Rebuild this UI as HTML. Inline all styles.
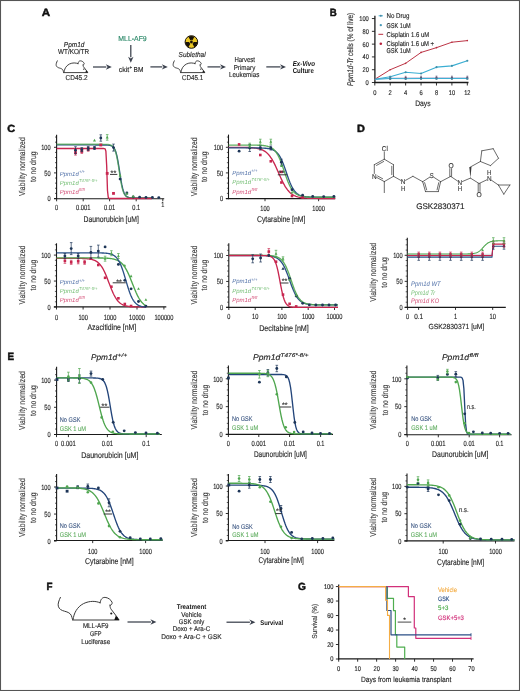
<!DOCTYPE html>
<html><head><meta charset="utf-8"><title>Figure</title>
<style>
html,body{margin:0;padding:0;background:#fff;}
body{width:520px;height:691px;overflow:hidden;}
svg{display:block;font-family:"Liberation Sans", sans-serif;will-change:transform;text-rendering:geometricPrecision;}
</style></head><body>
<svg width="520" height="691" viewBox="0 0 520 691">
<rect x="0" y="0" width="520" height="691" fill="#fff"/>
<text x="41.8" y="16.24" font-size="10.4" fill="#111" stroke="#111" stroke-width="0.45" font-weight="bold" textLength="8.4" lengthAdjust="spacingAndGlyphs">A</text>
<text x="74.1" y="46.99" font-size="7.2" fill="#262626" stroke="#262626" stroke-width="0.14" text-anchor="middle" font-style="italic" textLength="20.6" lengthAdjust="spacingAndGlyphs">Ppm1d</text>
<text x="73.6" y="54.39" font-size="7.2" fill="#262626" stroke="#262626" stroke-width="0.14" text-anchor="middle" textLength="31" lengthAdjust="spacingAndGlyphs">WT/KO/TR</text>
<g transform="translate(63.6 72.6) scale(0.52)">
<path d="M-12.1 -22.6 C-13.6 -19.5 -14.8 -16.2 -14.2 -13.8 C-13.4 -10.8 -11 -9.6 -8 -8.8 C-4.5 -7.9 -2.2 -6.8 -1.2 -4.5 C-0.7 -3.2 -0.3 -1.8 0 -0.6 M0 0 L46.4 0 M0.6 -0.5 C1.2 -6.5 4.5 -13 11 -16.4 C17.5 -19.5 23.5 -19 27.6 -17.2 M27.6 -17.2 C28 -20.5 29.8 -22.8 32.6 -22.6 C35.5 -22.4 38.5 -20.4 39.6 -17.6 C39.8 -16.2 39 -15 37.8 -14.6 M37.4 -15 C37.6 -12.5 38 -11.6 38.6 -10.8 L45.6 -1.6" fill="none" stroke="#3a3a3a" stroke-width="1.84" stroke-linecap="round" stroke-linejoin="round"/>
<circle cx="38.8" cy="-6.5" r="1.17" fill="#1a1a1a"/>
<path d="M43.3 -4.2 L47 0 L41.8 0 Z" fill="#111"/>
</g>
<text x="76.6" y="79.99" font-size="7.2" fill="#262626" stroke="#262626" stroke-width="0.14" text-anchor="middle" textLength="22" lengthAdjust="spacingAndGlyphs">CD45.2</text>
<line x1="93" y1="67" x2="106.3" y2="67" stroke="#3a404c" stroke-width="1.25" />
<path d="M111.8 67 L105.8 69.7 L107.6 67 L105.8 64.3 Z" fill="#3a404c"/>
<text x="132.5" y="41.39" font-size="7.2" fill="#2e8a6a" stroke="#2e8a6a" stroke-width="0.14" text-anchor="middle" textLength="28.4" lengthAdjust="spacingAndGlyphs">MLL-AF9</text>
<line x1="130.8" y1="45" x2="130.8" y2="57.3" stroke="#3a404c" stroke-width="1.25" />
<path d="M130.8 62.8 L128.1 56.8 L130.8 58.6 L133.5 56.8 Z" fill="#3a404c"/>
<text x="118.7" y="72.29" font-size="7.2" fill="#262626" stroke="#262626" stroke-width="0.14" textLength="10.6" lengthAdjust="spacingAndGlyphs">ckit</text>
<text x="129.6" y="69.06" font-size="4.6" fill="#262626" stroke="#262626" stroke-width="0.14" textLength="2.6" lengthAdjust="spacingAndGlyphs">+</text>
<text x="133.6" y="72.29" font-size="7.2" fill="#262626" stroke="#262626" stroke-width="0.14" textLength="9.8" lengthAdjust="spacingAndGlyphs">BM</text>
<line x1="150.4" y1="66.9" x2="162.3" y2="66.9" stroke="#3a404c" stroke-width="1.25" />
<path d="M167.8 66.9 L161.8 69.6 L163.6 66.9 L161.8 64.2 Z" fill="#3a404c"/>
<circle cx="191.4" cy="42" r="6.3" fill="#ecc825" stroke="#1a1208" stroke-width="1.0"/>
<path d="M190.33 40.14 L188.41 36.82 A5.98 5.98 0 0 1 194.39 36.82 L192.47 40.14 A2.14 2.14 0 0 0 190.33 40.14 Z" fill="#1a1208"/>
<path d="M193.54 42 L197.38 42 A5.98 5.98 0 0 1 194.39 47.18 L192.47 43.86 A2.14 2.14 0 0 0 193.54 42 Z" fill="#1a1208"/>
<path d="M190.33 43.86 L188.41 47.18 A5.98 5.98 0 0 1 185.42 42 L189.26 42 A2.14 2.14 0 0 0 190.33 43.86 Z" fill="#1a1208"/>
<circle cx="191.4" cy="42" r="1.39" fill="#1a1208"/>
<text x="192.1" y="57.49" font-size="7.2" fill="#262626" stroke="#262626" stroke-width="0.14" text-anchor="middle" font-style="italic" textLength="27" lengthAdjust="spacingAndGlyphs">Sublethal</text>
<g transform="translate(180.6 72.6) scale(0.52)">
<path d="M-12.1 -22.6 C-13.6 -19.5 -14.8 -16.2 -14.2 -13.8 C-13.4 -10.8 -11 -9.6 -8 -8.8 C-4.5 -7.9 -2.2 -6.8 -1.2 -4.5 C-0.7 -3.2 -0.3 -1.8 0 -0.6 M0 0 L46.4 0 M0.6 -0.5 C1.2 -6.5 4.5 -13 11 -16.4 C17.5 -19.5 23.5 -19 27.6 -17.2 M27.6 -17.2 C28 -20.5 29.8 -22.8 32.6 -22.6 C35.5 -22.4 38.5 -20.4 39.6 -17.6 C39.8 -16.2 39 -15 37.8 -14.6 M37.4 -15 C37.6 -12.5 38 -11.6 38.6 -10.8 L45.6 -1.6" fill="none" stroke="#3a3a3a" stroke-width="1.84" stroke-linecap="round" stroke-linejoin="round"/>
<circle cx="38.8" cy="-6.5" r="1.17" fill="#1a1a1a"/>
<path d="M43.3 -4.2 L47 0 L41.8 0 Z" fill="#111"/>
</g>
<text x="192.6" y="79.99" font-size="7.2" fill="#262626" stroke="#262626" stroke-width="0.14" text-anchor="middle" textLength="21.2" lengthAdjust="spacingAndGlyphs">CD45.1</text>
<line x1="207.5" y1="66.9" x2="220.5" y2="66.9" stroke="#3a404c" stroke-width="1.25" />
<path d="M226 66.9 L220 69.6 L221.8 66.9 L220 64.2 Z" fill="#3a404c"/>
<text x="244.7" y="62.29" font-size="7.2" fill="#262626" stroke="#262626" stroke-width="0.14" text-anchor="middle" textLength="20.6" lengthAdjust="spacingAndGlyphs">Harvest</text>
<text x="244.5" y="69.79" font-size="7.2" fill="#262626" stroke="#262626" stroke-width="0.14" text-anchor="middle" textLength="21.6" lengthAdjust="spacingAndGlyphs">Primary</text>
<text x="244.2" y="77.29" font-size="7.2" fill="#262626" stroke="#262626" stroke-width="0.14" text-anchor="middle" textLength="30.4" lengthAdjust="spacingAndGlyphs">Leukemias</text>
<line x1="266.3" y1="66.9" x2="280.5" y2="66.9" stroke="#3a404c" stroke-width="1.25" />
<path d="M286 66.9 L280 69.6 L281.8 66.9 L280 64.2 Z" fill="#3a404c"/>
<text x="292.7" y="66.09" font-size="7.2" fill="#111" font-weight="bold" font-style="italic" textLength="22.3" lengthAdjust="spacingAndGlyphs">Ex-Vivo</text>
<text x="292.7" y="73.49" font-size="7.2" fill="#111" font-weight="bold" textLength="21.1" lengthAdjust="spacingAndGlyphs">Culture</text>
<text x="329.8" y="16.04" font-size="10.4" fill="#111" stroke="#111" stroke-width="0.45" font-weight="bold" textLength="7" lengthAdjust="spacingAndGlyphs">B</text>
<line x1="374.9" y1="15.8" x2="374.9" y2="83.1" stroke="#1a1a1a" stroke-width="1.3" />
<line x1="371.9" y1="82.5" x2="374.9" y2="82.5" stroke="#1a1a1a" stroke-width="0.9" />
<text x="368.8" y="84.95" font-size="6.8" fill="#262626" stroke="#262626" stroke-width="0.14" text-anchor="end" textLength="3.2" lengthAdjust="spacingAndGlyphs">0</text>
<line x1="371.9" y1="69.71" x2="374.9" y2="69.71" stroke="#1a1a1a" stroke-width="0.9" />
<text x="368.8" y="72.16" font-size="6.8" fill="#262626" stroke="#262626" stroke-width="0.14" text-anchor="end" textLength="6.3" lengthAdjust="spacingAndGlyphs">20</text>
<line x1="371.9" y1="56.92" x2="374.9" y2="56.92" stroke="#1a1a1a" stroke-width="0.9" />
<text x="368.8" y="59.37" font-size="6.8" fill="#262626" stroke="#262626" stroke-width="0.14" text-anchor="end" textLength="6.3" lengthAdjust="spacingAndGlyphs">40</text>
<line x1="371.9" y1="44.13" x2="374.9" y2="44.13" stroke="#1a1a1a" stroke-width="0.9" />
<text x="368.8" y="46.58" font-size="6.8" fill="#262626" stroke="#262626" stroke-width="0.14" text-anchor="end" textLength="6.3" lengthAdjust="spacingAndGlyphs">60</text>
<line x1="371.9" y1="31.34" x2="374.9" y2="31.34" stroke="#1a1a1a" stroke-width="0.9" />
<text x="368.8" y="33.79" font-size="6.8" fill="#262626" stroke="#262626" stroke-width="0.14" text-anchor="end" textLength="6.3" lengthAdjust="spacingAndGlyphs">80</text>
<line x1="371.9" y1="18.55" x2="374.9" y2="18.55" stroke="#1a1a1a" stroke-width="0.9" />
<text x="368.8" y="21" font-size="6.8" fill="#262626" stroke="#262626" stroke-width="0.14" text-anchor="end" textLength="9.6" lengthAdjust="spacingAndGlyphs">100</text>
<line x1="374.3" y1="82.5" x2="468.5" y2="82.5" stroke="#1a1a1a" stroke-width="1.3" />
<line x1="374.8" y1="82.5" x2="374.8" y2="85.5" stroke="#1a1a1a" stroke-width="0.9" />
<text x="374.8" y="94.65" font-size="6.8" fill="#262626" stroke="#262626" stroke-width="0.14" text-anchor="middle" textLength="3.2" lengthAdjust="spacingAndGlyphs">0</text>
<line x1="390.22" y1="82.5" x2="390.22" y2="85.5" stroke="#1a1a1a" stroke-width="0.9" />
<text x="390.22" y="94.65" font-size="6.8" fill="#262626" stroke="#262626" stroke-width="0.14" text-anchor="middle" textLength="3.2" lengthAdjust="spacingAndGlyphs">2</text>
<line x1="405.64" y1="82.5" x2="405.64" y2="85.5" stroke="#1a1a1a" stroke-width="0.9" />
<text x="405.64" y="94.65" font-size="6.8" fill="#262626" stroke="#262626" stroke-width="0.14" text-anchor="middle" textLength="3.2" lengthAdjust="spacingAndGlyphs">4</text>
<line x1="421.06" y1="82.5" x2="421.06" y2="85.5" stroke="#1a1a1a" stroke-width="0.9" />
<text x="421.06" y="94.65" font-size="6.8" fill="#262626" stroke="#262626" stroke-width="0.14" text-anchor="middle" textLength="3.2" lengthAdjust="spacingAndGlyphs">6</text>
<line x1="436.48" y1="82.5" x2="436.48" y2="85.5" stroke="#1a1a1a" stroke-width="0.9" />
<text x="436.48" y="94.65" font-size="6.8" fill="#262626" stroke="#262626" stroke-width="0.14" text-anchor="middle" textLength="3.2" lengthAdjust="spacingAndGlyphs">8</text>
<line x1="451.9" y1="82.5" x2="451.9" y2="85.5" stroke="#1a1a1a" stroke-width="0.9" />
<text x="451.9" y="94.65" font-size="6.8" fill="#262626" stroke="#262626" stroke-width="0.14" text-anchor="middle" textLength="6.3" lengthAdjust="spacingAndGlyphs">10</text>
<line x1="467.32" y1="82.5" x2="467.32" y2="85.5" stroke="#1a1a1a" stroke-width="0.9" />
<text x="467.32" y="94.65" font-size="6.8" fill="#262626" stroke="#262626" stroke-width="0.14" text-anchor="middle" textLength="6.3" lengthAdjust="spacingAndGlyphs">12</text>
<text x="422.9" y="106.48" font-size="8" fill="#262626" stroke="#262626" stroke-width="0.14" text-anchor="middle" textLength="15.5" lengthAdjust="spacingAndGlyphs">Days</text>
<text x="350.4" y="52.35" font-size="8.2" fill="#3a3a3a" text-anchor="middle" transform="rotate(-90 350.4 49.4)" textLength="73" lengthAdjust="spacingAndGlyphs" stroke="#3a3a3a" stroke-width="0.2"><tspan font-style="italic">Ppm1d-Tr</tspan> cells (% of live)</text>
<polyline points="374.8,79.3 390.22,78.15 405.64,78.02 421.06,77.9 436.48,77.83 451.9,77.9 467.32,77.9" stroke="#a8a0c8" stroke-width="0.8" fill="none" stroke-linejoin="round" />
<polyline points="374.8,79.3 390.22,78.54 405.64,78.66 421.06,78.54 436.48,78.47 451.9,78.47 467.32,78.47" stroke="#3aaed3" stroke-width="1" fill="none" stroke-linejoin="round" />
<line x1="390.22" y1="76.35" x2="390.22" y2="79.55" stroke="#5a5a7a" stroke-width="0.6" />
<line x1="389.32" y1="76.35" x2="391.12" y2="76.35" stroke="#5a5a7a" stroke-width="0.6" />
<line x1="389.32" y1="79.55" x2="391.12" y2="79.55" stroke="#5a5a7a" stroke-width="0.6" />
<rect x="389.28" y="77.01" width="1.89" height="1.89" fill="#6a4060"/>
<circle cx="390.22" cy="78.95" r="1.12" fill="#3f8aa3"/>
<line x1="405.64" y1="76.22" x2="405.64" y2="79.42" stroke="#5a5a7a" stroke-width="0.6" />
<line x1="404.74" y1="76.22" x2="406.54" y2="76.22" stroke="#5a5a7a" stroke-width="0.6" />
<line x1="404.74" y1="79.42" x2="406.54" y2="79.42" stroke="#5a5a7a" stroke-width="0.6" />
<rect x="404.7" y="76.88" width="1.89" height="1.89" fill="#6a4060"/>
<circle cx="405.64" cy="78.82" r="1.12" fill="#3f8aa3"/>
<line x1="421.06" y1="76.1" x2="421.06" y2="79.3" stroke="#5a5a7a" stroke-width="0.6" />
<line x1="420.16" y1="76.1" x2="421.96" y2="76.1" stroke="#5a5a7a" stroke-width="0.6" />
<line x1="420.16" y1="79.3" x2="421.96" y2="79.3" stroke="#5a5a7a" stroke-width="0.6" />
<rect x="420.12" y="76.75" width="1.89" height="1.89" fill="#6a4060"/>
<circle cx="421.06" cy="78.7" r="1.12" fill="#3f8aa3"/>
<line x1="436.48" y1="76.03" x2="436.48" y2="79.23" stroke="#5a5a7a" stroke-width="0.6" />
<line x1="435.58" y1="76.03" x2="437.38" y2="76.03" stroke="#5a5a7a" stroke-width="0.6" />
<line x1="435.58" y1="79.23" x2="437.38" y2="79.23" stroke="#5a5a7a" stroke-width="0.6" />
<rect x="435.54" y="76.69" width="1.89" height="1.89" fill="#6a4060"/>
<circle cx="436.48" cy="78.63" r="1.12" fill="#3f8aa3"/>
<line x1="451.9" y1="76.1" x2="451.9" y2="79.3" stroke="#5a5a7a" stroke-width="0.6" />
<line x1="451" y1="76.1" x2="452.8" y2="76.1" stroke="#5a5a7a" stroke-width="0.6" />
<line x1="451" y1="79.3" x2="452.8" y2="79.3" stroke="#5a5a7a" stroke-width="0.6" />
<rect x="450.96" y="76.75" width="1.89" height="1.89" fill="#6a4060"/>
<circle cx="451.9" cy="78.7" r="1.12" fill="#3f8aa3"/>
<line x1="467.32" y1="76.1" x2="467.32" y2="79.3" stroke="#5a5a7a" stroke-width="0.6" />
<line x1="466.42" y1="76.1" x2="468.22" y2="76.1" stroke="#5a5a7a" stroke-width="0.6" />
<line x1="466.42" y1="79.3" x2="468.22" y2="79.3" stroke="#5a5a7a" stroke-width="0.6" />
<rect x="466.38" y="76.75" width="1.89" height="1.89" fill="#6a4060"/>
<circle cx="467.32" cy="78.7" r="1.12" fill="#3f8aa3"/>
<polyline points="374.8,79.3 390.22,69.71 405.64,63.31 421.06,52.44 436.48,47.65 451.9,42.21 467.32,40.61" stroke="#b82a3c" stroke-width="0.95" fill="none" stroke-linejoin="round" />
<circle cx="390.22" cy="69.71" r="0.83" fill="#b82a3c"/>
<circle cx="405.64" cy="63.31" r="0.83" fill="#b82a3c"/>
<circle cx="421.06" cy="52.44" r="0.83" fill="#b82a3c"/>
<circle cx="436.48" cy="47.65" r="0.83" fill="#b82a3c"/>
<circle cx="451.9" cy="42.21" r="0.83" fill="#b82a3c"/>
<circle cx="467.32" cy="40.61" r="0.83" fill="#b82a3c"/>
<polyline points="374.8,79.3 390.22,76.74 405.64,72.27 421.06,73.55 436.48,67.15 451.9,65.87 467.32,60.76" stroke="#3aaed3" stroke-width="1.1" fill="none" stroke-linejoin="round" />
<circle cx="390.22" cy="76.74" r="1.06" fill="#3d8fa8"/>
<circle cx="405.64" cy="72.27" r="1.06" fill="#3d8fa8"/>
<circle cx="421.06" cy="73.55" r="1.06" fill="#3d8fa8"/>
<circle cx="436.48" cy="67.15" r="1.06" fill="#3d8fa8"/>
<circle cx="451.9" cy="65.87" r="1.06" fill="#3d8fa8"/>
<circle cx="467.32" cy="60.76" r="1.06" fill="#3d8fa8"/>
<line x1="378.6" y1="15.8" x2="383" y2="15.8" stroke="#3aaed3" stroke-width="0.9" />
<circle cx="380.8" cy="15.8" r="1.06" fill="#4a8aa5"/>
<circle cx="380.8" cy="25.1" r="1.18" fill="#4a9ab8"/>
<line x1="378.4" y1="34.3" x2="383.2" y2="34.3" stroke="#b82a3c" stroke-width="1" />
<circle cx="380.8" cy="43.8" r="1.3" fill="#b8203c"/>
<text x="386.5" y="18.32" font-size="7" fill="#262626" stroke="#262626" stroke-width="0.14" textLength="23" lengthAdjust="spacingAndGlyphs">No Drug</text>
<text x="386.5" y="27.62" font-size="7" fill="#262626" stroke="#262626" stroke-width="0.14" textLength="24.2" lengthAdjust="spacingAndGlyphs">GSK 1uM</text>
<text x="386.5" y="36.82" font-size="7" fill="#262626" stroke="#262626" stroke-width="0.14" textLength="42.7" lengthAdjust="spacingAndGlyphs">Cisplatin 1.6 uM</text>
<text x="386.5" y="46.32" font-size="7" fill="#262626" stroke="#262626" stroke-width="0.14" textLength="47.5" lengthAdjust="spacingAndGlyphs">Cisplatin 1.6 uM +</text>
<text x="386.5" y="53.32" font-size="7" fill="#262626" stroke="#262626" stroke-width="0.14" textLength="24.2" lengthAdjust="spacingAndGlyphs">GSK 1uM</text>
<text x="7.2" y="131.54" font-size="10.4" fill="#111" stroke="#111" stroke-width="0.45" font-weight="bold" textLength="7.9" lengthAdjust="spacingAndGlyphs">C</text>
<line x1="56.6" y1="134.8" x2="56.6" y2="199.3" stroke="#1a1a1a" stroke-width="1.1" />
<line x1="54" y1="198.5" x2="56.6" y2="198.5" stroke="#1a1a1a" stroke-width="0.9" />
<line x1="55" y1="193.38" x2="56.6" y2="193.38" stroke="#1a1a1a" stroke-width="0.7" />
<line x1="55" y1="188.26" x2="56.6" y2="188.26" stroke="#1a1a1a" stroke-width="0.7" />
<line x1="55" y1="183.14" x2="56.6" y2="183.14" stroke="#1a1a1a" stroke-width="0.7" />
<line x1="55" y1="178.02" x2="56.6" y2="178.02" stroke="#1a1a1a" stroke-width="0.7" />
<line x1="54" y1="172.9" x2="56.6" y2="172.9" stroke="#1a1a1a" stroke-width="0.9" />
<line x1="55" y1="167.78" x2="56.6" y2="167.78" stroke="#1a1a1a" stroke-width="0.7" />
<line x1="55" y1="162.66" x2="56.6" y2="162.66" stroke="#1a1a1a" stroke-width="0.7" />
<line x1="55" y1="157.54" x2="56.6" y2="157.54" stroke="#1a1a1a" stroke-width="0.7" />
<line x1="55" y1="152.42" x2="56.6" y2="152.42" stroke="#1a1a1a" stroke-width="0.7" />
<line x1="54" y1="147.3" x2="56.6" y2="147.3" stroke="#1a1a1a" stroke-width="0.9" />
<line x1="55" y1="142.18" x2="56.6" y2="142.18" stroke="#1a1a1a" stroke-width="0.7" />
<line x1="55" y1="137.06" x2="56.6" y2="137.06" stroke="#1a1a1a" stroke-width="0.7" />
<text x="50.6" y="201.2" font-size="7.5" fill="#262626" stroke="#262626" stroke-width="0.14" text-anchor="end" textLength="3.13" lengthAdjust="spacingAndGlyphs">0</text>
<text x="50.6" y="175.6" font-size="7.5" fill="#262626" stroke="#262626" stroke-width="0.14" text-anchor="end" textLength="6.27" lengthAdjust="spacingAndGlyphs">50</text>
<text x="50.6" y="150" font-size="7.5" fill="#262626" stroke="#262626" stroke-width="0.14" text-anchor="end" textLength="9.4" lengthAdjust="spacingAndGlyphs">100</text>
<line x1="54" y1="198.7" x2="164.2" y2="198.7" stroke="#1a1a1a" stroke-width="1.15" />
<line x1="56.6" y1="198.7" x2="56.6" y2="201.3" stroke="#1a1a1a" stroke-width="0.9" />
<text x="56.6" y="210.4" font-size="7.5" fill="#262626" stroke="#262626" stroke-width="0.14" text-anchor="middle" textLength="3.1" lengthAdjust="spacingAndGlyphs">0</text>
<line x1="83.2" y1="198.7" x2="83.2" y2="201.3" stroke="#1a1a1a" stroke-width="0.9" />
<text x="83.2" y="210.4" font-size="7.5" fill="#262626" stroke="#262626" stroke-width="0.14" text-anchor="middle" textLength="14.4" lengthAdjust="spacingAndGlyphs">0.001</text>
<line x1="109.6" y1="198.7" x2="109.6" y2="201.3" stroke="#1a1a1a" stroke-width="0.9" />
<text x="109.6" y="210.4" font-size="7.5" fill="#262626" stroke="#262626" stroke-width="0.14" text-anchor="middle" textLength="11.2" lengthAdjust="spacingAndGlyphs">0.01</text>
<line x1="136.2" y1="198.7" x2="136.2" y2="201.3" stroke="#1a1a1a" stroke-width="0.9" />
<text x="136.2" y="210.4" font-size="7.5" fill="#262626" stroke="#262626" stroke-width="0.14" text-anchor="middle" textLength="7.8" lengthAdjust="spacingAndGlyphs">0.1</text>
<line x1="162.8" y1="198.7" x2="162.8" y2="201.3" stroke="#1a1a1a" stroke-width="0.9" />
<text x="162.8" y="207.49" font-size="7.2" fill="#262626" stroke="#262626" stroke-width="0.14" text-anchor="middle" textLength="3.1" lengthAdjust="spacingAndGlyphs">1</text>
<text x="111.2" y="221.92" font-size="8.4" fill="#262626" stroke="#262626" stroke-width="0.14" text-anchor="middle" textLength="55.4" lengthAdjust="spacingAndGlyphs">Daunorubicin [uM]</text>
<text x="21.6" y="169.8" font-size="8.6" fill="#3a3a3a" stroke="#3a3a3a" stroke-width="0.14" text-anchor="middle" transform="rotate(-90 21.6 166.7)" textLength="58.8" lengthAdjust="spacingAndGlyphs">Viability normalized</text>
<text x="33.4" y="169.8" font-size="8.6" fill="#3a3a3a" stroke="#3a3a3a" stroke-width="0.14" text-anchor="middle" transform="rotate(-90 33.4 166.7)" textLength="30.6" lengthAdjust="spacingAndGlyphs">to no drug</text>
<polyline points="56.6,144.94 57.4,144.94 58.19,144.94 58.98,144.94 59.78,144.94 60.58,144.94 61.37,144.94 62.16,144.94 62.96,144.94 63.76,144.94 64.55,144.94 65.34,144.94 66.14,144.94 66.94,144.94 67.73,144.94 68.53,144.94 69.32,144.94 70.12,144.94 70.91,144.94 71.7,144.94 72.5,144.94 73.3,144.94 74.09,144.94 74.89,144.94 75.68,144.94 76.47,144.94 77.27,144.94 78.06,144.94 78.86,144.94 79.66,144.94 80.45,144.94 81.25,144.94 82.04,144.94 82.84,144.94 83.63,144.94 84.42,144.94 85.22,144.94 86.02,144.94 86.81,144.94 87.61,144.94 88.4,144.94 89.19,144.94 89.99,144.94 90.78,144.94 91.58,144.94 92.38,144.94 93.17,144.94 93.97,144.94 94.76,144.95 95.56,144.95 96.35,144.95 97.15,144.95 97.94,144.95 98.74,144.95 99.53,144.95 100.33,144.95 101.12,144.95 101.92,144.95 102.71,144.96 103.5,144.96 104.3,144.97 105.09,144.98 105.89,145 106.69,145.03 107.48,145.07 108.28,145.13 109.07,145.22 109.87,145.35 110.66,145.55 111.46,145.83 112.25,146.26 113.05,146.87 113.84,147.76 114.64,149.03 115.43,150.81 116.22,153.23 117.02,156.39 117.81,160.36 118.61,165.03 119.41,170.17 120.2,175.42 121,180.36 121.79,184.69 122.59,188.25 123.38,191.03 124.18,193.1 124.97,194.6 125.77,195.66 126.56,196.4 127.36,196.91 128.15,197.26 128.94,197.5 129.74,197.66 130.53,197.77 131.33,197.84 132.12,197.89 132.92,197.92 133.72,197.94 134.51,197.96 135.31,197.97 136.1,197.97 136.9,197.98 137.69,197.98 138.49,197.98 139.28,197.99 140.07,197.99 140.87,197.99 141.67,197.99 142.46,197.99 143.25,197.99 144.05,197.99 144.85,197.99 145.64,197.99 146.44,197.99 147.23,197.99 148.03,197.99 148.82,197.99 149.62,197.99 150.41,197.99 151.21,197.99 152,197.99" stroke="#2b5186" stroke-width="1.35" fill="none" stroke-linejoin="round" />
<polyline points="56.6,144.28 57.4,144.28 58.19,144.28 58.98,144.28 59.78,144.28 60.58,144.28 61.37,144.28 62.16,144.28 62.96,144.28 63.76,144.28 64.55,144.28 65.34,144.28 66.14,144.28 66.94,144.28 67.73,144.28 68.53,144.28 69.32,144.28 70.12,144.28 70.91,144.28 71.7,144.28 72.5,144.28 73.3,144.28 74.09,144.28 74.89,144.28 75.68,144.28 76.47,144.28 77.27,144.28 78.06,144.28 78.86,144.28 79.66,144.28 80.45,144.28 81.25,144.28 82.04,144.28 82.84,144.28 83.63,144.28 84.42,144.28 85.22,144.28 86.02,144.28 86.81,144.28 87.61,144.28 88.4,144.28 89.19,144.28 89.99,144.28 90.78,144.28 91.58,144.28 92.38,144.28 93.17,144.28 93.97,144.28 94.76,144.28 95.56,144.28 96.35,144.28 97.15,144.28 97.94,144.28 98.74,144.28 99.53,144.28 100.33,144.28 101.12,144.29 101.92,144.29 102.71,144.29 103.5,144.3 104.3,144.31 105.09,144.33 105.89,144.35 106.69,144.38 107.48,144.43 108.28,144.51 109.07,144.62 109.87,144.78 110.66,145.02 111.46,145.37 112.25,145.89 113.05,146.64 113.84,147.73 114.64,149.25 115.43,151.36 116.22,154.18 117.02,157.79 117.81,162.19 118.61,167.2 119.41,172.51 120.2,177.71 121,182.44 121.79,186.44 122.59,189.64 123.38,192.08 124.18,193.87 124.97,195.15 125.77,196.05 126.56,196.67 127.36,197.09 128.15,197.38 128.94,197.58 129.74,197.71 130.53,197.8 131.33,197.86 132.12,197.9 132.92,197.93 133.72,197.95 134.51,197.96 135.31,197.97 136.1,197.98 136.9,197.98 137.69,197.98 138.49,197.98 139.28,197.99 140.07,197.99 140.87,197.99 141.67,197.99 142.46,197.99 143.25,197.99 144.05,197.99 144.85,197.99 145.64,197.99 146.44,197.99 147.23,197.99 148.03,197.99 148.82,197.99 149.62,197.99 150.41,197.99 151.21,197.99 152,197.99" stroke="#4fa64f" stroke-width="1.35" fill="none" stroke-linejoin="round" stroke-opacity="0.7"/>
<polyline points="56.6,148.53 57.4,148.53 58.19,148.53 58.98,148.53 59.78,148.53 60.58,148.53 61.37,148.53 62.16,148.53 62.96,148.53 63.76,148.53 64.55,148.53 65.34,148.53 66.14,148.53 66.94,148.53 67.73,148.53 68.53,148.53 69.32,148.53 70.12,148.53 70.91,148.53 71.7,148.53 72.5,148.53 73.3,148.53 74.09,148.53 74.89,148.53 75.68,148.53 76.47,148.53 77.27,148.53 78.06,148.53 78.86,148.53 79.66,148.53 80.45,148.53 81.25,148.53 82.04,148.53 82.84,148.53 83.63,148.53 84.42,148.53 85.22,148.53 86.02,148.53 86.81,148.53 87.61,148.53 88.4,148.53 89.19,148.53 89.99,148.53 90.78,148.53 91.58,148.53 92.38,148.53 93.17,148.53 93.97,148.53 94.76,148.53 95.56,148.53 96.35,148.53 97.15,148.53 97.94,148.53 98.74,148.53 99.53,148.53 100.33,148.53 101.12,148.53 101.92,148.53 102.71,148.53 103.5,148.53 104.3,148.56 105.09,148.81 105.89,151.17 106.69,166.07 107.48,190.5 108.28,197.54 109.07,198.4 109.87,198.49 110.66,198.5 111.46,198.5 112.25,198.5 113.05,198.5 113.84,198.5 114.64,198.5 115.43,198.5 116.22,198.5 117.02,198.5 117.81,198.5 118.61,198.5 119.41,198.5 120.2,198.5 121,198.5 121.79,198.5 122.59,198.5 123.38,198.5 124.18,198.5 124.97,198.5 125.77,198.5 126.56,198.5 127.36,198.5 128.15,198.5 128.94,198.5 129.74,198.5 130.53,198.5 131.33,198.5 132.12,198.5 132.92,198.5 133.72,198.5 134.51,198.5 135.31,198.5 136.1,198.5 136.9,198.5 137.69,198.5 138.49,198.5 139.28,198.5 140.07,198.5 140.87,198.5 141.67,198.5 142.46,198.5 143.25,198.5 144.05,198.5 144.85,198.5 145.64,198.5 146.44,198.5 147.23,198.5 148.03,198.5 148.82,198.5 149.62,198.5 150.41,198.5 151.21,198.5 152,198.5" stroke="#c8264f" stroke-width="1.35" fill="none" stroke-linejoin="round" />
<line x1="75.5" y1="150.1" x2="75.5" y2="155.1" stroke="#c8264f" stroke-width="0.7" />
<line x1="74.2" y1="150.1" x2="76.8" y2="150.1" stroke="#c8264f" stroke-width="0.7" />
<line x1="74.2" y1="155.1" x2="76.8" y2="155.1" stroke="#c8264f" stroke-width="0.7" />
<rect x="74.08" y="151.18" width="2.83" height="2.83" fill="#c8264f"/>
<line x1="81.8" y1="149.4" x2="81.8" y2="153.4" stroke="#c8264f" stroke-width="0.7" />
<line x1="80.5" y1="149.4" x2="83.1" y2="149.4" stroke="#c8264f" stroke-width="0.7" />
<line x1="80.5" y1="153.4" x2="83.1" y2="153.4" stroke="#c8264f" stroke-width="0.7" />
<rect x="80.38" y="149.98" width="2.83" height="2.83" fill="#c8264f"/>
<line x1="88.2" y1="147.2" x2="88.2" y2="151.2" stroke="#c8264f" stroke-width="0.7" />
<line x1="86.9" y1="147.2" x2="89.5" y2="147.2" stroke="#c8264f" stroke-width="0.7" />
<line x1="86.9" y1="151.2" x2="89.5" y2="151.2" stroke="#c8264f" stroke-width="0.7" />
<rect x="86.78" y="147.78" width="2.83" height="2.83" fill="#c8264f"/>
<rect x="99.38" y="143.58" width="2.83" height="2.83" fill="#c8264f"/>
<rect x="105.78" y="171.98" width="2.83" height="2.83" fill="#c8264f"/>
<rect x="112.08" y="191.98" width="2.83" height="2.83" fill="#c8264f"/>
<line x1="75.5" y1="146.7" x2="75.5" y2="153.7" stroke="#1d3557" stroke-width="0.7" />
<line x1="74.2" y1="146.7" x2="76.8" y2="146.7" stroke="#1d3557" stroke-width="0.7" />
<line x1="74.2" y1="153.7" x2="76.8" y2="153.7" stroke="#1d3557" stroke-width="0.7" />
<circle cx="75.5" cy="150.2" r="1.42" fill="#1d3557"/>
<line x1="81.8" y1="147.6" x2="81.8" y2="151.6" stroke="#1d3557" stroke-width="0.7" />
<line x1="80.5" y1="147.6" x2="83.1" y2="147.6" stroke="#1d3557" stroke-width="0.7" />
<line x1="80.5" y1="151.6" x2="83.1" y2="151.6" stroke="#1d3557" stroke-width="0.7" />
<circle cx="81.8" cy="149.6" r="1.42" fill="#1d3557"/>
<line x1="88.2" y1="146.4" x2="88.2" y2="150.4" stroke="#1d3557" stroke-width="0.7" />
<line x1="86.9" y1="146.4" x2="89.5" y2="146.4" stroke="#1d3557" stroke-width="0.7" />
<line x1="86.9" y1="150.4" x2="89.5" y2="150.4" stroke="#1d3557" stroke-width="0.7" />
<circle cx="88.2" cy="148.4" r="1.42" fill="#1d3557"/>
<line x1="94.5" y1="146.5" x2="94.5" y2="149.5" stroke="#1d3557" stroke-width="0.7" />
<line x1="93.2" y1="146.5" x2="95.8" y2="146.5" stroke="#1d3557" stroke-width="0.7" />
<line x1="93.2" y1="149.5" x2="95.8" y2="149.5" stroke="#1d3557" stroke-width="0.7" />
<circle cx="94.5" cy="148" r="1.42" fill="#1d3557"/>
<line x1="100.8" y1="134.8" x2="100.8" y2="141.2" stroke="#1d3557" stroke-width="0.7" />
<line x1="99.5" y1="134.8" x2="102.1" y2="134.8" stroke="#1d3557" stroke-width="0.7" />
<line x1="99.5" y1="141.2" x2="102.1" y2="141.2" stroke="#1d3557" stroke-width="0.7" />
<circle cx="100.8" cy="138" r="1.42" fill="#1d3557"/>
<line x1="113.5" y1="144.1" x2="113.5" y2="151.1" stroke="#1d3557" stroke-width="0.7" />
<line x1="112.2" y1="144.1" x2="114.8" y2="144.1" stroke="#1d3557" stroke-width="0.7" />
<line x1="112.2" y1="151.1" x2="114.8" y2="151.1" stroke="#1d3557" stroke-width="0.7" />
<circle cx="113.5" cy="147.6" r="1.42" fill="#1d3557"/>
<circle cx="120.1" cy="179.1" r="1.42" fill="#1d3557"/>
<circle cx="126.9" cy="193" r="1.42" fill="#1d3557"/>
<circle cx="133.2" cy="197" r="1.42" fill="#1d3557"/>
<circle cx="139.6" cy="197.2" r="1.42" fill="#1d3557"/>
<circle cx="146" cy="197.4" r="1.42" fill="#1d3557"/>
<circle cx="152.4" cy="197.4" r="1.42" fill="#1d3557"/>
<circle cx="158.8" cy="197.6" r="1.42" fill="#1d3557"/>
<path d="M94.5 138.77 L95.99 141.49 L93.01 141.49 Z" fill="#4fa64f"/>
<line x1="107.2" y1="134.6" x2="107.2" y2="140.2" stroke="#4fa64f" stroke-width="0.7" />
<line x1="105.9" y1="134.6" x2="108.5" y2="134.6" stroke="#4fa64f" stroke-width="0.7" />
<line x1="105.9" y1="140.2" x2="108.5" y2="140.2" stroke="#4fa64f" stroke-width="0.7" />
<path d="M107.2 135.77 L108.69 138.49 L105.71 138.49 Z" fill="#4fa64f"/>
<path d="M120.1 173.87 L121.59 176.59 L118.61 176.59 Z" fill="#4fa64f"/>
<path d="M126.9 191.97 L128.39 194.69 L125.41 194.69 Z" fill="#4fa64f"/>
<path d="M133.2 194.87 L134.69 197.59 L131.71 197.59 Z" fill="#4fa64f"/>
<text x="59.8" y="175.86" font-size="6" fill="#5070a8" font-style="italic" textLength="18.9" lengthAdjust="spacingAndGlyphs">Ppm1d</text>
<text x="79" y="172.95" font-size="4.3" fill="#5070a8" font-style="italic" textLength="6" lengthAdjust="spacingAndGlyphs">+/+</text>
<text x="59.8" y="184.86" font-size="6" fill="#74be74" font-style="italic" textLength="18.9" lengthAdjust="spacingAndGlyphs">Ppm1d</text>
<text x="79" y="181.95" font-size="4.3" fill="#74be74" font-style="italic" textLength="18.4" lengthAdjust="spacingAndGlyphs">T476*-fl/+</text>
<text x="59.8" y="193.76" font-size="6" fill="#d44e76" font-style="italic" textLength="18.9" lengthAdjust="spacingAndGlyphs">Ppm1d</text>
<text x="79" y="190.85" font-size="4.3" fill="#d44e76" font-style="italic" textLength="5.8" lengthAdjust="spacingAndGlyphs">fl/fl</text>
<text x="112" y="175.4" font-size="6.4" fill="#2a2a2a" stroke="#2a2a2a" stroke-width="0.14" text-anchor="middle" textLength="2.8" lengthAdjust="spacingAndGlyphs">*</text>
<text x="114.8" y="175.4" font-size="6.4" fill="#2a2a2a" stroke="#2a2a2a" stroke-width="0.14" text-anchor="middle" textLength="2.8" lengthAdjust="spacingAndGlyphs">*</text>
<line x1="110" y1="174.4" x2="117.3" y2="174.4" stroke="#2a2a2a" stroke-width="0.95" />
<line x1="228.5" y1="134.6" x2="228.5" y2="199.2" stroke="#1a1a1a" stroke-width="1.1" />
<line x1="225.9" y1="198.5" x2="228.5" y2="198.5" stroke="#1a1a1a" stroke-width="0.9" />
<line x1="226.9" y1="193.38" x2="228.5" y2="193.38" stroke="#1a1a1a" stroke-width="0.7" />
<line x1="226.9" y1="188.26" x2="228.5" y2="188.26" stroke="#1a1a1a" stroke-width="0.7" />
<line x1="226.9" y1="183.14" x2="228.5" y2="183.14" stroke="#1a1a1a" stroke-width="0.7" />
<line x1="226.9" y1="178.02" x2="228.5" y2="178.02" stroke="#1a1a1a" stroke-width="0.7" />
<line x1="225.9" y1="172.9" x2="228.5" y2="172.9" stroke="#1a1a1a" stroke-width="0.9" />
<line x1="226.9" y1="167.78" x2="228.5" y2="167.78" stroke="#1a1a1a" stroke-width="0.7" />
<line x1="226.9" y1="162.66" x2="228.5" y2="162.66" stroke="#1a1a1a" stroke-width="0.7" />
<line x1="226.9" y1="157.54" x2="228.5" y2="157.54" stroke="#1a1a1a" stroke-width="0.7" />
<line x1="226.9" y1="152.42" x2="228.5" y2="152.42" stroke="#1a1a1a" stroke-width="0.7" />
<line x1="225.9" y1="147.3" x2="228.5" y2="147.3" stroke="#1a1a1a" stroke-width="0.9" />
<line x1="226.9" y1="142.18" x2="228.5" y2="142.18" stroke="#1a1a1a" stroke-width="0.7" />
<line x1="226.9" y1="137.06" x2="228.5" y2="137.06" stroke="#1a1a1a" stroke-width="0.7" />
<text x="223.1" y="201.2" font-size="7.5" fill="#262626" stroke="#262626" stroke-width="0.14" text-anchor="end" textLength="3.13" lengthAdjust="spacingAndGlyphs">0</text>
<text x="223.1" y="175.6" font-size="7.5" fill="#262626" stroke="#262626" stroke-width="0.14" text-anchor="end" textLength="6.27" lengthAdjust="spacingAndGlyphs">50</text>
<text x="223.1" y="150" font-size="7.5" fill="#262626" stroke="#262626" stroke-width="0.14" text-anchor="end" textLength="9.4" lengthAdjust="spacingAndGlyphs">100</text>
<line x1="225.9" y1="198.6" x2="335.2" y2="198.6" stroke="#1a1a1a" stroke-width="1.15" />
<line x1="265" y1="198.6" x2="265" y2="201.2" stroke="#1a1a1a" stroke-width="0.9" />
<text x="265" y="210.5" font-size="7.5" fill="#262626" stroke="#262626" stroke-width="0.14" text-anchor="middle" textLength="9.4" lengthAdjust="spacingAndGlyphs">100</text>
<line x1="318.6" y1="198.6" x2="318.6" y2="201.2" stroke="#1a1a1a" stroke-width="0.9" />
<text x="318.6" y="210.5" font-size="7.5" fill="#262626" stroke="#262626" stroke-width="0.14" text-anchor="middle" textLength="12.6" lengthAdjust="spacingAndGlyphs">1000</text>
<text x="281.2" y="221.92" font-size="8.4" fill="#262626" stroke="#262626" stroke-width="0.14" text-anchor="middle" textLength="48.5" lengthAdjust="spacingAndGlyphs">Cytarabine [nM]</text>
<text x="193.9" y="169.9" font-size="8.6" fill="#3a3a3a" stroke="#3a3a3a" stroke-width="0.14" text-anchor="middle" transform="rotate(-90 193.9 166.8)" textLength="58.8" lengthAdjust="spacingAndGlyphs">Viability normalized</text>
<text x="204.4" y="169.9" font-size="8.6" fill="#3a3a3a" stroke="#3a3a3a" stroke-width="0.14" text-anchor="middle" transform="rotate(-90 204.4 166.8)" textLength="30.6" lengthAdjust="spacingAndGlyphs">to no drug</text>
<polyline points="228.5,147.31 229.39,147.31 230.28,147.31 231.17,147.31 232.06,147.31 232.95,147.31 233.84,147.32 234.72,147.32 235.61,147.32 236.5,147.33 237.39,147.33 238.28,147.34 239.17,147.34 240.06,147.35 240.95,147.36 241.84,147.37 242.73,147.38 243.62,147.4 244.5,147.42 245.39,147.44 246.28,147.46 247.17,147.49 248.06,147.52 248.95,147.56 249.84,147.6 250.73,147.65 251.62,147.71 252.51,147.78 253.4,147.86 254.29,147.96 255.18,148.07 256.06,148.2 256.95,148.35 257.84,148.53 258.73,148.73 259.62,148.97 260.51,149.25 261.4,149.57 262.29,149.94 263.18,150.36 264.07,150.86 264.96,151.42 265.85,152.06 266.73,152.79 267.62,153.62 268.51,154.55 269.4,155.6 270.29,156.76 271.18,158.05 272.07,159.46 272.96,161 273.85,162.65 274.74,164.4 275.63,166.26 276.51,168.19 277.4,170.18 278.29,172.2 279.18,174.23 280.07,176.24 280.96,178.22 281.85,180.13 282.74,181.95 283.63,183.68 284.52,185.29 285.41,186.79 286.3,188.16 287.19,189.41 288.07,190.54 288.96,191.55 289.85,192.45 290.74,193.24 291.63,193.95 292.52,194.56 293.41,195.1 294.3,195.57 295.19,195.98 296.08,196.34 296.97,196.64 297.86,196.91 298.74,197.13 299.63,197.33 300.52,197.5 301.41,197.64 302.3,197.77 303.19,197.87 304.08,197.96 304.97,198.04 305.86,198.11 306.75,198.17 307.64,198.21 308.52,198.26 309.41,198.29 310.3,198.32 311.19,198.35 312.08,198.37 312.97,198.39 313.86,198.41 314.75,198.42 315.64,198.43 316.53,198.44 317.42,198.45 318.31,198.46 319.19,198.46 320.08,198.47 320.97,198.47 321.86,198.48 322.75,198.48 323.64,198.48 324.53,198.49 325.42,198.49 326.31,198.49 327.2,198.49 328.09,198.49 328.98,198.49 329.87,198.49 330.75,198.5 331.64,198.5 332.53,198.5 333.42,198.5 334.31,198.5 335.2,198.5" stroke="#c8264f" stroke-width="1.35" fill="none" stroke-linejoin="round" />
<polyline points="228.5,147.91 229.39,147.91 230.28,147.91 231.17,147.91 232.06,147.91 232.95,147.91 233.84,147.91 234.72,147.91 235.61,147.91 236.5,147.91 237.39,147.91 238.28,147.91 239.17,147.92 240.06,147.92 240.95,147.92 241.84,147.92 242.73,147.92 243.62,147.92 244.5,147.92 245.39,147.92 246.28,147.92 247.17,147.92 248.06,147.92 248.95,147.92 249.84,147.92 250.73,147.92 251.62,147.93 252.51,147.93 253.4,147.93 254.29,147.94 255.18,147.94 256.06,147.95 256.95,147.96 257.84,147.97 258.73,147.98 259.62,148 260.51,148.02 261.4,148.04 262.29,148.07 263.18,148.11 264.07,148.16 264.96,148.21 265.85,148.28 266.73,148.37 267.62,148.47 268.51,148.6 269.4,148.76 270.29,148.96 271.18,149.2 272.07,149.49 272.96,149.84 273.85,150.28 274.74,150.8 275.63,151.44 276.51,152.19 277.4,153.1 278.29,154.16 279.18,155.41 280.07,156.86 280.96,158.52 281.85,160.38 282.74,162.46 283.63,164.72 284.52,167.13 285.41,169.67 286.3,172.26 287.19,174.86 288.07,177.42 288.96,179.87 289.85,182.17 290.74,184.28 291.63,186.2 292.52,187.91 293.41,189.4 294.3,190.7 295.19,191.8 296.08,192.74 296.97,193.53 297.86,194.19 298.74,194.74 299.63,195.2 300.52,195.57 301.41,195.88 302.3,196.13 303.19,196.33 304.08,196.5 304.97,196.63 305.86,196.74 306.75,196.83 307.64,196.91 308.52,196.97 309.41,197.02 310.3,197.05 311.19,197.09 312.08,197.11 312.97,197.13 313.86,197.15 314.75,197.16 315.64,197.17 316.53,197.18 317.42,197.19 318.31,197.2 319.19,197.2 320.08,197.2 320.97,197.21 321.86,197.21 322.75,197.21 323.64,197.21 324.53,197.21 325.42,197.22 326.31,197.22 327.2,197.22 328.09,197.22 328.98,197.22 329.87,197.22 330.75,197.22 331.64,197.22 332.53,197.22 333.42,197.22 334.31,197.22 335.2,197.22" stroke="#2b5186" stroke-width="1.35" fill="none" stroke-linejoin="round" />
<polyline points="228.5,145.1 229.39,145.1 230.28,145.1 231.17,145.1 232.06,145.1 232.95,145.1 233.84,145.1 234.72,145.1 235.61,145.1 236.5,145.1 237.39,145.1 238.28,145.1 239.17,145.1 240.06,145.1 240.95,145.1 241.84,145.1 242.73,145.1 243.62,145.1 244.5,145.1 245.39,145.11 246.28,145.11 247.17,145.11 248.06,145.11 248.95,145.12 249.84,145.12 250.73,145.12 251.62,145.13 252.51,145.14 253.4,145.15 254.29,145.16 255.18,145.17 256.06,145.19 256.95,145.2 257.84,145.23 258.73,145.26 259.62,145.29 260.51,145.34 261.4,145.39 262.29,145.45 263.18,145.53 264.07,145.63 264.96,145.75 265.85,145.89 266.73,146.06 267.62,146.28 268.51,146.53 269.4,146.84 270.29,147.22 271.18,147.67 272.07,148.21 272.96,148.86 273.85,149.62 274.74,150.53 275.63,151.6 276.51,152.84 277.4,154.27 278.29,155.89 279.18,157.73 280.07,159.76 280.96,161.98 281.85,164.36 282.74,166.87 283.63,169.47 284.52,172.1 285.41,174.71 286.3,177.25 287.19,179.68 288.07,181.94 288.96,184.03 289.85,185.92 290.74,187.61 291.63,189.09 292.52,190.38 293.41,191.5 294.3,192.45 295.19,193.26 296.08,193.94 296.97,194.51 297.86,194.98 298.74,195.38 299.63,195.7 300.52,195.97 301.41,196.2 302.3,196.38 303.19,196.53 304.08,196.66 304.97,196.76 305.86,196.84 306.75,196.91 307.64,196.97 308.52,197.01 309.41,197.05 310.3,197.08 311.19,197.11 312.08,197.13 312.97,197.14 313.86,197.16 314.75,197.17 315.64,197.18 316.53,197.19 317.42,197.19 318.31,197.2 319.19,197.2 320.08,197.21 320.97,197.21 321.86,197.21 322.75,197.21 323.64,197.21 324.53,197.21 325.42,197.22 326.31,197.22 327.2,197.22 328.09,197.22 328.98,197.22 329.87,197.22 330.75,197.22 331.64,197.22 332.53,197.22 333.42,197.22 334.31,197.22 335.2,197.22" stroke="#4fa64f" stroke-width="1.35" fill="none" stroke-linejoin="round" stroke-opacity="0.9"/>
<rect x="237.8" y="143.1" width="2.6" height="2.6" fill="#c8264f"/>
<rect x="259" y="153.7" width="2.6" height="2.6" fill="#c8264f"/>
<rect x="269.5" y="160" width="2.6" height="2.6" fill="#c8264f"/>
<rect x="280.1" y="170.6" width="2.6" height="2.6" fill="#c8264f"/>
<rect x="280.1" y="181.2" width="2.6" height="2.6" fill="#c8264f"/>
<rect x="290.7" y="194.7" width="2.6" height="2.6" fill="#c8264f"/>
<rect x="301.3" y="196.2" width="2.6" height="2.6" fill="#c8264f"/>
<circle cx="239.1" cy="151.2" r="1.42" fill="#1d3557"/>
<line x1="249.7" y1="144.5" x2="249.7" y2="151.5" stroke="#1d3557" stroke-width="0.7" />
<line x1="248.4" y1="144.5" x2="251" y2="144.5" stroke="#1d3557" stroke-width="0.7" />
<line x1="248.4" y1="151.5" x2="251" y2="151.5" stroke="#1d3557" stroke-width="0.7" />
<circle cx="249.7" cy="148" r="1.42" fill="#1d3557"/>
<line x1="260.3" y1="146" x2="260.3" y2="150" stroke="#1d3557" stroke-width="0.7" />
<line x1="259" y1="146" x2="261.6" y2="146" stroke="#1d3557" stroke-width="0.7" />
<line x1="259" y1="150" x2="261.6" y2="150" stroke="#1d3557" stroke-width="0.7" />
<circle cx="260.3" cy="148" r="1.42" fill="#1d3557"/>
<line x1="270.8" y1="146" x2="270.8" y2="150" stroke="#1d3557" stroke-width="0.7" />
<line x1="269.5" y1="146" x2="272.1" y2="146" stroke="#1d3557" stroke-width="0.7" />
<line x1="269.5" y1="150" x2="272.1" y2="150" stroke="#1d3557" stroke-width="0.7" />
<circle cx="270.8" cy="148" r="1.42" fill="#1d3557"/>
<line x1="281.4" y1="159.2" x2="281.4" y2="165.2" stroke="#1d3557" stroke-width="0.7" />
<line x1="280.1" y1="159.2" x2="282.7" y2="159.2" stroke="#1d3557" stroke-width="0.7" />
<line x1="280.1" y1="165.2" x2="282.7" y2="165.2" stroke="#1d3557" stroke-width="0.7" />
<circle cx="281.4" cy="162.2" r="1.42" fill="#1d3557"/>
<circle cx="292" cy="189.7" r="1.42" fill="#1d3557"/>
<circle cx="302.6" cy="195.2" r="1.42" fill="#1d3557"/>
<circle cx="312.7" cy="196.4" r="1.42" fill="#1d3557"/>
<circle cx="323.7" cy="196.6" r="1.42" fill="#1d3557"/>
<circle cx="333.9" cy="196.4" r="1.42" fill="#1d3557"/>
<line x1="249.7" y1="143.2" x2="249.7" y2="147.2" stroke="#4fa64f" stroke-width="0.7" />
<line x1="248.4" y1="143.2" x2="251" y2="143.2" stroke="#4fa64f" stroke-width="0.7" />
<line x1="248.4" y1="147.2" x2="251" y2="147.2" stroke="#4fa64f" stroke-width="0.7" />
<path d="M249.7 143.64 L251.13 146.24 L248.27 146.24 Z" fill="#4fa64f"/>
<line x1="260.3" y1="139.2" x2="260.3" y2="144.2" stroke="#4fa64f" stroke-width="0.7" />
<line x1="259" y1="139.2" x2="261.6" y2="139.2" stroke="#4fa64f" stroke-width="0.7" />
<line x1="259" y1="144.2" x2="261.6" y2="144.2" stroke="#4fa64f" stroke-width="0.7" />
<path d="M260.3 140.14 L261.73 142.74 L258.87 142.74 Z" fill="#4fa64f"/>
<line x1="270.8" y1="139.2" x2="270.8" y2="144.2" stroke="#4fa64f" stroke-width="0.7" />
<line x1="269.5" y1="139.2" x2="272.1" y2="139.2" stroke="#4fa64f" stroke-width="0.7" />
<line x1="269.5" y1="144.2" x2="272.1" y2="144.2" stroke="#4fa64f" stroke-width="0.7" />
<path d="M270.8 140.14 L272.23 142.74 L269.37 142.74 Z" fill="#4fa64f"/>
<path d="M281.4 164.44 L282.83 167.04 L279.97 167.04 Z" fill="#4fa64f"/>
<path d="M292 190.94 L293.43 193.54 L290.57 193.54 Z" fill="#4fa64f"/>
<text x="232.2" y="174.76" font-size="6" fill="#5070a8" font-style="italic" textLength="18.9" lengthAdjust="spacingAndGlyphs">Ppm1d</text>
<text x="251.4" y="171.85" font-size="4.3" fill="#5070a8" font-style="italic" textLength="6" lengthAdjust="spacingAndGlyphs">+/+</text>
<text x="232.2" y="183.96" font-size="6" fill="#74be74" font-style="italic" textLength="18.9" lengthAdjust="spacingAndGlyphs">Ppm1d</text>
<text x="251.4" y="181.05" font-size="4.3" fill="#74be74" font-style="italic" textLength="18.4" lengthAdjust="spacingAndGlyphs">T476*-fl/+</text>
<text x="232.2" y="194.36" font-size="6" fill="#d44e76" font-style="italic" textLength="18.9" lengthAdjust="spacingAndGlyphs">Ppm1d</text>
<text x="251.4" y="191.45" font-size="4.3" fill="#d44e76" font-style="italic" textLength="5.8" lengthAdjust="spacingAndGlyphs">fl/fl</text>
<text x="280" y="175.4" font-size="6.4" fill="#2a2a2a" stroke="#2a2a2a" stroke-width="0.14" text-anchor="middle" textLength="2.8" lengthAdjust="spacingAndGlyphs">*</text>
<text x="282.8" y="175.4" font-size="6.4" fill="#2a2a2a" stroke="#2a2a2a" stroke-width="0.14" text-anchor="middle" textLength="2.8" lengthAdjust="spacingAndGlyphs">*</text>
<line x1="277.8" y1="174.8" x2="287.3" y2="174.8" stroke="#2a2a2a" stroke-width="0.95" />
<line x1="56.5" y1="243.3" x2="56.5" y2="307.5" stroke="#1a1a1a" stroke-width="1.1" />
<line x1="53.9" y1="307" x2="56.5" y2="307" stroke="#1a1a1a" stroke-width="0.9" />
<line x1="54.9" y1="301.81" x2="56.5" y2="301.81" stroke="#1a1a1a" stroke-width="0.7" />
<line x1="54.9" y1="296.62" x2="56.5" y2="296.62" stroke="#1a1a1a" stroke-width="0.7" />
<line x1="54.9" y1="291.43" x2="56.5" y2="291.43" stroke="#1a1a1a" stroke-width="0.7" />
<line x1="54.9" y1="286.24" x2="56.5" y2="286.24" stroke="#1a1a1a" stroke-width="0.7" />
<line x1="53.9" y1="281.05" x2="56.5" y2="281.05" stroke="#1a1a1a" stroke-width="0.9" />
<line x1="54.9" y1="275.86" x2="56.5" y2="275.86" stroke="#1a1a1a" stroke-width="0.7" />
<line x1="54.9" y1="270.67" x2="56.5" y2="270.67" stroke="#1a1a1a" stroke-width="0.7" />
<line x1="54.9" y1="265.48" x2="56.5" y2="265.48" stroke="#1a1a1a" stroke-width="0.7" />
<line x1="54.9" y1="260.29" x2="56.5" y2="260.29" stroke="#1a1a1a" stroke-width="0.7" />
<line x1="53.9" y1="255.1" x2="56.5" y2="255.1" stroke="#1a1a1a" stroke-width="0.9" />
<line x1="54.9" y1="249.91" x2="56.5" y2="249.91" stroke="#1a1a1a" stroke-width="0.7" />
<line x1="54.9" y1="244.72" x2="56.5" y2="244.72" stroke="#1a1a1a" stroke-width="0.7" />
<text x="50.6" y="309.7" font-size="7.5" fill="#262626" stroke="#262626" stroke-width="0.14" text-anchor="end" textLength="3.13" lengthAdjust="spacingAndGlyphs">0</text>
<text x="50.6" y="283.75" font-size="7.5" fill="#262626" stroke="#262626" stroke-width="0.14" text-anchor="end" textLength="6.27" lengthAdjust="spacingAndGlyphs">50</text>
<text x="50.6" y="257.8" font-size="7.5" fill="#262626" stroke="#262626" stroke-width="0.14" text-anchor="end" textLength="9.4" lengthAdjust="spacingAndGlyphs">100</text>
<line x1="53.9" y1="306.9" x2="166.3" y2="306.9" stroke="#1a1a1a" stroke-width="1.15" />
<line x1="56.5" y1="306.9" x2="56.5" y2="309.5" stroke="#1a1a1a" stroke-width="0.9" />
<text x="56.5" y="319.7" font-size="7.5" fill="#262626" stroke="#262626" stroke-width="0.14" text-anchor="middle" textLength="3.1" lengthAdjust="spacingAndGlyphs">0</text>
<line x1="83.1" y1="306.9" x2="83.1" y2="309.5" stroke="#1a1a1a" stroke-width="0.9" />
<text x="83.1" y="319.7" font-size="7.5" fill="#262626" stroke="#262626" stroke-width="0.14" text-anchor="middle" textLength="9.4" lengthAdjust="spacingAndGlyphs">100</text>
<line x1="110" y1="306.9" x2="110" y2="309.5" stroke="#1a1a1a" stroke-width="0.9" />
<text x="110" y="319.7" font-size="7.5" fill="#262626" stroke="#262626" stroke-width="0.14" text-anchor="middle" textLength="12.6" lengthAdjust="spacingAndGlyphs">1000</text>
<line x1="137" y1="306.9" x2="137" y2="309.5" stroke="#1a1a1a" stroke-width="0.9" />
<text x="137" y="319.7" font-size="7.5" fill="#262626" stroke="#262626" stroke-width="0.14" text-anchor="middle" textLength="15.8" lengthAdjust="spacingAndGlyphs">10000</text>
<line x1="163.9" y1="306.9" x2="163.9" y2="309.5" stroke="#1a1a1a" stroke-width="0.9" />
<text x="163.9" y="319.7" font-size="7.5" fill="#262626" stroke="#262626" stroke-width="0.14" text-anchor="middle" textLength="19" lengthAdjust="spacingAndGlyphs">100000</text>
<text x="111.9" y="329.92" font-size="8.4" fill="#262626" stroke="#262626" stroke-width="0.14" text-anchor="middle" textLength="48.8" lengthAdjust="spacingAndGlyphs">Azacitidine [nM]</text>
<text x="21.6" y="278.2" font-size="8.6" fill="#3a3a3a" stroke="#3a3a3a" stroke-width="0.14" text-anchor="middle" transform="rotate(-90 21.6 275.1)" textLength="58.8" lengthAdjust="spacingAndGlyphs">Viability normalized</text>
<text x="33.4" y="278.2" font-size="8.6" fill="#3a3a3a" stroke="#3a3a3a" stroke-width="0.14" text-anchor="middle" transform="rotate(-90 33.4 275.1)" textLength="30.6" lengthAdjust="spacingAndGlyphs">to no drug</text>
<polyline points="56.5,258.32 57.25,258.32 57.99,258.32 58.74,258.32 59.48,258.32 60.23,258.32 60.98,258.32 61.72,258.32 62.47,258.32 63.21,258.32 63.96,258.32 64.7,258.32 65.45,258.32 66.2,258.32 66.94,258.32 67.69,258.32 68.43,258.33 69.18,258.33 69.92,258.33 70.67,258.33 71.42,258.33 72.16,258.33 72.91,258.34 73.65,258.34 74.4,258.34 75.15,258.35 75.89,258.36 76.64,258.36 77.38,258.37 78.13,258.38 78.88,258.39 79.62,258.4 80.37,258.42 81.11,258.43 81.86,258.45 82.6,258.48 83.35,258.51 84.1,258.54 84.84,258.58 85.59,258.62 86.33,258.68 87.08,258.74 87.83,258.81 88.57,258.9 89.32,259 90.06,259.12 90.81,259.25 91.55,259.41 92.3,259.6 93.05,259.82 93.79,260.08 94.54,260.37 95.28,260.72 96.03,261.11 96.78,261.57 97.52,262.1 98.27,262.71 99.01,263.4 99.76,264.19 100.5,265.08 101.25,266.08 102,267.19 102.74,268.43 103.49,269.79 104.23,271.27 104.98,272.87 105.72,274.58 106.47,276.38 107.22,278.25 107.96,280.19 108.71,282.15 109.45,284.12 110.2,286.08 110.95,287.98 111.69,289.83 112.44,291.58 113.18,293.24 113.93,294.78 114.67,296.2 115.42,297.5 116.17,298.68 116.91,299.74 117.66,300.69 118.4,301.53 119.15,302.27 119.9,302.92 120.64,303.48 121.39,303.98 122.13,304.4 122.88,304.78 123.62,305.1 124.37,305.37 125.12,305.61 125.86,305.81 126.61,305.99 127.35,306.13 128.1,306.26 128.85,306.37 129.59,306.46 130.34,306.54 131.08,306.61 131.83,306.67 132.57,306.72 133.32,306.76 134.07,306.8 134.81,306.83 135.56,306.85 136.3,306.87 137.05,306.89 137.8,306.91 138.54,306.92 139.29,306.93 140.03,306.94 140.78,306.95 141.53,306.96 142.27,306.97 143.02,306.97 143.76,306.98 144.51,306.98 145.25,306.98 146,306.98" stroke="#c8264f" stroke-width="1.35" fill="none" stroke-linejoin="round" />
<polyline points="56.5,257.9 57.25,257.9 57.99,257.9 58.74,257.9 59.48,257.9 60.23,257.9 60.98,257.9 61.72,257.9 62.47,257.9 63.21,257.9 63.96,257.9 64.7,257.9 65.45,257.9 66.2,257.9 66.94,257.9 67.69,257.9 68.43,257.9 69.18,257.9 69.92,257.9 70.67,257.9 71.42,257.9 72.16,257.9 72.91,257.9 73.65,257.9 74.4,257.9 75.15,257.9 75.89,257.9 76.64,257.9 77.38,257.9 78.13,257.9 78.88,257.9 79.62,257.9 80.37,257.9 81.11,257.9 81.86,257.9 82.6,257.91 83.35,257.91 84.1,257.91 84.84,257.91 85.59,257.91 86.33,257.91 87.08,257.91 87.83,257.91 88.57,257.91 89.32,257.91 90.06,257.91 90.81,257.92 91.55,257.92 92.3,257.92 93.05,257.92 93.79,257.93 94.54,257.93 95.28,257.93 96.03,257.94 96.78,257.94 97.52,257.95 98.27,257.96 99.01,257.97 99.76,257.98 100.5,257.99 101.25,258 102,258.02 102.74,258.04 103.49,258.06 104.23,258.08 104.98,258.11 105.72,258.15 106.47,258.19 107.22,258.23 107.96,258.29 108.71,258.35 109.45,258.42 110.2,258.5 110.95,258.59 111.69,258.7 112.44,258.83 113.18,258.98 113.93,259.14 114.67,259.34 115.42,259.56 116.17,259.82 116.91,260.11 117.66,260.45 118.4,260.84 119.15,261.28 119.9,261.78 120.64,262.35 121.39,263 122.13,263.72 122.88,264.54 123.62,265.45 124.37,266.46 125.12,267.57 125.86,268.8 126.61,270.13 127.35,271.57 128.1,273.12 128.85,274.76 129.59,276.49 130.34,278.29 131.08,280.14 131.83,282.03 132.57,283.94 133.32,285.84 134.07,287.71 134.81,289.55 135.56,291.31 136.3,293 137.05,294.6 137.8,296.1 138.54,297.49 139.29,298.77 140.03,299.94 140.78,301.01 141.53,301.97 142.27,302.84 143.02,303.61 143.76,304.3 144.51,304.9 145.25,305.44 146,305.91" stroke="#4fa64f" stroke-width="1.35" fill="none" stroke-linejoin="round" />
<polyline points="56.5,252.82 57.25,252.82 57.99,252.82 58.74,252.82 59.48,252.82 60.23,252.82 60.98,252.82 61.72,252.82 62.47,252.82 63.21,252.82 63.96,252.82 64.7,252.82 65.45,252.82 66.2,252.82 66.94,252.82 67.69,252.82 68.43,252.82 69.18,252.82 69.92,252.82 70.67,252.82 71.42,252.82 72.16,252.82 72.91,252.82 73.65,252.82 74.4,252.82 75.15,252.82 75.89,252.82 76.64,252.82 77.38,252.82 78.13,252.82 78.88,252.82 79.62,252.82 80.37,252.82 81.11,252.82 81.86,252.82 82.6,252.82 83.35,252.82 84.1,252.82 84.84,252.82 85.59,252.82 86.33,252.82 87.08,252.82 87.83,252.82 88.57,252.82 89.32,252.82 90.06,252.82 90.81,252.83 91.55,252.83 92.3,252.83 93.05,252.83 93.79,252.83 94.54,252.84 95.28,252.84 96.03,252.85 96.78,252.85 97.52,252.86 98.27,252.87 99.01,252.88 99.76,252.9 100.5,252.91 101.25,252.93 102,252.96 102.74,252.99 103.49,253.02 104.23,253.06 104.98,253.11 105.72,253.18 106.47,253.25 107.22,253.34 107.96,253.44 108.71,253.57 109.45,253.72 110.2,253.9 110.95,254.12 111.69,254.38 112.44,254.69 113.18,255.06 113.93,255.49 114.67,256.01 115.42,256.62 116.17,257.33 116.91,258.17 117.66,259.14 118.4,260.26 119.15,261.54 119.9,262.99 120.64,264.63 121.39,266.45 122.13,268.44 122.88,270.6 123.62,272.91 124.37,275.33 125.12,277.84 125.86,280.38 126.61,282.92 127.35,285.42 128.1,287.82 128.85,290.11 129.59,292.24 130.34,294.21 131.08,295.99 131.83,297.6 132.57,299.02 133.32,300.28 134.07,301.37 134.81,302.32 135.56,303.13 136.3,303.83 137.05,304.42 137.8,304.92 138.54,305.35 139.29,305.7 140.03,306 140.78,306.26 141.53,306.47 142.27,306.64 143.02,306.79 143.76,306.91 144.51,307.01 145.25,307.1 146,307.17" stroke="#2b5186" stroke-width="1.35" fill="none" stroke-linejoin="round" />
<line x1="64.9" y1="258.3" x2="64.9" y2="263.3" stroke="#c8264f" stroke-width="0.7" />
<line x1="63.6" y1="258.3" x2="66.2" y2="258.3" stroke="#c8264f" stroke-width="0.7" />
<line x1="63.6" y1="263.3" x2="66.2" y2="263.3" stroke="#c8264f" stroke-width="0.7" />
<rect x="63.6" y="259.5" width="2.6" height="2.6" fill="#c8264f"/>
<line x1="71.2" y1="260.3" x2="71.2" y2="264.3" stroke="#c8264f" stroke-width="0.7" />
<line x1="69.9" y1="260.3" x2="72.5" y2="260.3" stroke="#c8264f" stroke-width="0.7" />
<line x1="69.9" y1="264.3" x2="72.5" y2="264.3" stroke="#c8264f" stroke-width="0.7" />
<rect x="69.9" y="261" width="2.6" height="2.6" fill="#c8264f"/>
<line x1="78.2" y1="258.8" x2="78.2" y2="263.8" stroke="#c8264f" stroke-width="0.7" />
<line x1="76.9" y1="258.8" x2="79.5" y2="258.8" stroke="#c8264f" stroke-width="0.7" />
<line x1="76.9" y1="263.8" x2="79.5" y2="263.8" stroke="#c8264f" stroke-width="0.7" />
<rect x="76.9" y="260" width="2.6" height="2.6" fill="#c8264f"/>
<line x1="84.6" y1="260.3" x2="84.6" y2="264.3" stroke="#c8264f" stroke-width="0.7" />
<line x1="83.3" y1="260.3" x2="85.9" y2="260.3" stroke="#c8264f" stroke-width="0.7" />
<line x1="83.3" y1="264.3" x2="85.9" y2="264.3" stroke="#c8264f" stroke-width="0.7" />
<rect x="83.3" y="261" width="2.6" height="2.6" fill="#c8264f"/>
<rect x="89.6" y="257.4" width="2.6" height="2.6" fill="#c8264f"/>
<rect x="97" y="263.7" width="2.6" height="2.6" fill="#c8264f"/>
<rect x="103.8" y="276.5" width="2.6" height="2.6" fill="#c8264f"/>
<rect x="110.1" y="285.4" width="2.6" height="2.6" fill="#c8264f"/>
<rect x="117.1" y="297" width="2.6" height="2.6" fill="#c8264f"/>
<rect x="123.5" y="302.7" width="2.6" height="2.6" fill="#c8264f"/>
<rect x="129.8" y="304.7" width="2.6" height="2.6" fill="#c8264f"/>
<line x1="64.9" y1="253.5" x2="64.9" y2="258.5" stroke="#1d3557" stroke-width="0.7" />
<line x1="63.6" y1="253.5" x2="66.2" y2="253.5" stroke="#1d3557" stroke-width="0.7" />
<line x1="63.6" y1="258.5" x2="66.2" y2="258.5" stroke="#1d3557" stroke-width="0.7" />
<circle cx="64.9" cy="256" r="1.42" fill="#1d3557"/>
<line x1="71.2" y1="242.6" x2="71.2" y2="254.6" stroke="#1d3557" stroke-width="0.7" />
<line x1="69.9" y1="242.6" x2="72.5" y2="242.6" stroke="#1d3557" stroke-width="0.7" />
<line x1="69.9" y1="254.6" x2="72.5" y2="254.6" stroke="#1d3557" stroke-width="0.7" />
<circle cx="71.2" cy="248.6" r="1.42" fill="#1d3557"/>
<line x1="78.2" y1="253.5" x2="78.2" y2="258.5" stroke="#1d3557" stroke-width="0.7" />
<line x1="76.9" y1="253.5" x2="79.5" y2="253.5" stroke="#1d3557" stroke-width="0.7" />
<line x1="76.9" y1="258.5" x2="79.5" y2="258.5" stroke="#1d3557" stroke-width="0.7" />
<circle cx="78.2" cy="256" r="1.42" fill="#1d3557"/>
<line x1="90.9" y1="246.4" x2="90.9" y2="258.4" stroke="#1d3557" stroke-width="0.7" />
<line x1="89.6" y1="246.4" x2="92.2" y2="246.4" stroke="#1d3557" stroke-width="0.7" />
<line x1="89.6" y1="258.4" x2="92.2" y2="258.4" stroke="#1d3557" stroke-width="0.7" />
<circle cx="90.9" cy="252.4" r="1.42" fill="#1d3557"/>
<line x1="98.3" y1="245.1" x2="98.3" y2="257.1" stroke="#1d3557" stroke-width="0.7" />
<line x1="97" y1="245.1" x2="99.6" y2="245.1" stroke="#1d3557" stroke-width="0.7" />
<line x1="97" y1="257.1" x2="99.6" y2="257.1" stroke="#1d3557" stroke-width="0.7" />
<circle cx="98.3" cy="251.1" r="1.42" fill="#1d3557"/>
<circle cx="105.1" cy="246.9" r="1.42" fill="#1d3557"/>
<circle cx="118.4" cy="264.4" r="1.42" fill="#1d3557"/>
<circle cx="124.8" cy="280.3" r="1.42" fill="#1d3557"/>
<circle cx="131.1" cy="288.8" r="1.42" fill="#1d3557"/>
<circle cx="138.5" cy="301.5" r="1.42" fill="#1d3557"/>
<circle cx="145.9" cy="306.1" r="1.42" fill="#1d3557"/>
<line x1="105.1" y1="256.2" x2="105.1" y2="261.2" stroke="#4fa64f" stroke-width="0.7" />
<line x1="103.8" y1="256.2" x2="106.4" y2="256.2" stroke="#4fa64f" stroke-width="0.7" />
<line x1="103.8" y1="261.2" x2="106.4" y2="261.2" stroke="#4fa64f" stroke-width="0.7" />
<path d="M105.1 257.14 L106.53 259.74 L103.67 259.74 Z" fill="#4fa64f"/>
<line x1="111.4" y1="250.7" x2="111.4" y2="255.7" stroke="#4fa64f" stroke-width="0.7" />
<line x1="110.1" y1="250.7" x2="112.7" y2="250.7" stroke="#4fa64f" stroke-width="0.7" />
<line x1="110.1" y1="255.7" x2="112.7" y2="255.7" stroke="#4fa64f" stroke-width="0.7" />
<path d="M111.4 251.64 L112.83 254.24 L109.97 254.24 Z" fill="#4fa64f"/>
<line x1="118.4" y1="253.5" x2="118.4" y2="258.5" stroke="#4fa64f" stroke-width="0.7" />
<line x1="117.1" y1="253.5" x2="119.7" y2="253.5" stroke="#4fa64f" stroke-width="0.7" />
<line x1="117.1" y1="258.5" x2="119.7" y2="258.5" stroke="#4fa64f" stroke-width="0.7" />
<path d="M118.4 254.44 L119.83 257.04 L116.97 257.04 Z" fill="#4fa64f"/>
<path d="M124.8 263.94 L126.23 266.54 L123.37 266.54 Z" fill="#4fa64f"/>
<path d="M131.1 274.54 L132.53 277.14 L129.67 277.14 Z" fill="#4fa64f"/>
<path d="M138.5 287.24 L139.93 289.84 L137.07 289.84 Z" fill="#4fa64f"/>
<path d="M145.9 298.24 L147.33 300.84 L144.47 300.84 Z" fill="#4fa64f"/>
<text x="59.8" y="284.46" font-size="6" fill="#5070a8" font-style="italic" textLength="18.9" lengthAdjust="spacingAndGlyphs">Ppm1d</text>
<text x="79" y="281.55" font-size="4.3" fill="#5070a8" font-style="italic" textLength="6" lengthAdjust="spacingAndGlyphs">+/+</text>
<text x="59.8" y="293.26" font-size="6" fill="#74be74" font-style="italic" textLength="18.9" lengthAdjust="spacingAndGlyphs">Ppm1d</text>
<text x="79" y="290.35" font-size="4.3" fill="#74be74" font-style="italic" textLength="18.4" lengthAdjust="spacingAndGlyphs">T476*-fl/+</text>
<text x="59.8" y="302.16" font-size="6" fill="#d44e76" font-style="italic" textLength="18.9" lengthAdjust="spacingAndGlyphs">Ppm1d</text>
<text x="79" y="299.25" font-size="4.3" fill="#d44e76" font-style="italic" textLength="5.8" lengthAdjust="spacingAndGlyphs">fl/fl</text>
<text x="117.6" y="283.5" font-size="6.4" fill="#2a2a2a" stroke="#2a2a2a" stroke-width="0.14" text-anchor="middle" textLength="2.8" lengthAdjust="spacingAndGlyphs">*</text>
<text x="120.4" y="283.5" font-size="6.4" fill="#2a2a2a" stroke="#2a2a2a" stroke-width="0.14" text-anchor="middle" textLength="2.8" lengthAdjust="spacingAndGlyphs">*</text>
<line x1="112.7" y1="282.8" x2="125.8" y2="282.8" stroke="#2a2a2a" stroke-width="0.95" />
<line x1="228.8" y1="243.3" x2="228.8" y2="308" stroke="#1a1a1a" stroke-width="1.1" />
<line x1="226.2" y1="307.4" x2="228.8" y2="307.4" stroke="#1a1a1a" stroke-width="0.9" />
<line x1="227.2" y1="302.21" x2="228.8" y2="302.21" stroke="#1a1a1a" stroke-width="0.7" />
<line x1="227.2" y1="297.02" x2="228.8" y2="297.02" stroke="#1a1a1a" stroke-width="0.7" />
<line x1="227.2" y1="291.83" x2="228.8" y2="291.83" stroke="#1a1a1a" stroke-width="0.7" />
<line x1="227.2" y1="286.64" x2="228.8" y2="286.64" stroke="#1a1a1a" stroke-width="0.7" />
<line x1="226.2" y1="281.45" x2="228.8" y2="281.45" stroke="#1a1a1a" stroke-width="0.9" />
<line x1="227.2" y1="276.26" x2="228.8" y2="276.26" stroke="#1a1a1a" stroke-width="0.7" />
<line x1="227.2" y1="271.07" x2="228.8" y2="271.07" stroke="#1a1a1a" stroke-width="0.7" />
<line x1="227.2" y1="265.88" x2="228.8" y2="265.88" stroke="#1a1a1a" stroke-width="0.7" />
<line x1="227.2" y1="260.69" x2="228.8" y2="260.69" stroke="#1a1a1a" stroke-width="0.7" />
<line x1="226.2" y1="255.5" x2="228.8" y2="255.5" stroke="#1a1a1a" stroke-width="0.9" />
<line x1="227.2" y1="250.31" x2="228.8" y2="250.31" stroke="#1a1a1a" stroke-width="0.7" />
<line x1="227.2" y1="245.12" x2="228.8" y2="245.12" stroke="#1a1a1a" stroke-width="0.7" />
<text x="223.1" y="310.1" font-size="7.5" fill="#262626" stroke="#262626" stroke-width="0.14" text-anchor="end" textLength="3.13" lengthAdjust="spacingAndGlyphs">0</text>
<text x="223.1" y="284.15" font-size="7.5" fill="#262626" stroke="#262626" stroke-width="0.14" text-anchor="end" textLength="6.27" lengthAdjust="spacingAndGlyphs">50</text>
<text x="223.1" y="258.2" font-size="7.5" fill="#262626" stroke="#262626" stroke-width="0.14" text-anchor="end" textLength="9.4" lengthAdjust="spacingAndGlyphs">100</text>
<line x1="226.2" y1="307.4" x2="338" y2="307.4" stroke="#1a1a1a" stroke-width="1.15" />
<line x1="228.8" y1="307.4" x2="228.8" y2="310" stroke="#1a1a1a" stroke-width="0.9" />
<text x="228.8" y="319.3" font-size="7.5" fill="#262626" stroke="#262626" stroke-width="0.14" text-anchor="middle" textLength="3.1" lengthAdjust="spacingAndGlyphs">0</text>
<line x1="255.2" y1="307.4" x2="255.2" y2="310" stroke="#1a1a1a" stroke-width="0.9" />
<text x="255.2" y="319.3" font-size="7.5" fill="#262626" stroke="#262626" stroke-width="0.14" text-anchor="middle" textLength="6.3" lengthAdjust="spacingAndGlyphs">10</text>
<line x1="281.9" y1="307.4" x2="281.9" y2="310" stroke="#1a1a1a" stroke-width="0.9" />
<text x="281.9" y="319.3" font-size="7.5" fill="#262626" stroke="#262626" stroke-width="0.14" text-anchor="middle" textLength="9.4" lengthAdjust="spacingAndGlyphs">100</text>
<line x1="308.2" y1="307.4" x2="308.2" y2="310" stroke="#1a1a1a" stroke-width="0.9" />
<text x="308.2" y="319.3" font-size="7.5" fill="#262626" stroke="#262626" stroke-width="0.14" text-anchor="middle" textLength="12.6" lengthAdjust="spacingAndGlyphs">1000</text>
<line x1="334.5" y1="307.4" x2="334.5" y2="310" stroke="#1a1a1a" stroke-width="0.9" />
<text x="334.5" y="319.3" font-size="7.5" fill="#262626" stroke="#262626" stroke-width="0.14" text-anchor="middle" textLength="15.8" lengthAdjust="spacingAndGlyphs">10000</text>
<text x="284" y="331.32" font-size="8.4" fill="#262626" stroke="#262626" stroke-width="0.14" text-anchor="middle" textLength="49.6" lengthAdjust="spacingAndGlyphs">Decitabine [nM]</text>
<text x="193.9" y="278.2" font-size="8.6" fill="#3a3a3a" stroke="#3a3a3a" stroke-width="0.14" text-anchor="middle" transform="rotate(-90 193.9 275.1)" textLength="58.8" lengthAdjust="spacingAndGlyphs">Viability normalized</text>
<text x="204.4" y="278.2" font-size="8.6" fill="#3a3a3a" stroke="#3a3a3a" stroke-width="0.14" text-anchor="middle" transform="rotate(-90 204.4 275.1)" textLength="30.6" lengthAdjust="spacingAndGlyphs">to no drug</text>
<polyline points="228.8,255.5 229.71,255.5 230.62,255.5 231.53,255.5 232.44,255.5 233.35,255.5 234.26,255.5 235.17,255.5 236.08,255.5 236.99,255.5 237.9,255.5 238.81,255.5 239.72,255.5 240.63,255.5 241.54,255.5 242.45,255.5 243.36,255.5 244.27,255.5 245.18,255.5 246.09,255.5 247,255.5 247.91,255.5 248.82,255.5 249.73,255.51 250.64,255.51 251.55,255.51 252.46,255.51 253.37,255.51 254.28,255.52 255.19,255.52 256.1,255.52 257.01,255.53 257.92,255.54 258.83,255.55 259.74,255.56 260.65,255.57 261.56,255.58 262.47,255.6 263.38,255.63 264.29,255.66 265.2,255.69 266.11,255.74 267.02,255.79 267.93,255.86 268.84,255.94 269.75,256.04 270.66,256.16 271.57,256.31 272.48,256.49 273.39,256.71 274.3,256.98 275.21,257.31 276.12,257.71 277.03,258.18 277.94,258.76 278.85,259.45 279.76,260.27 280.67,261.24 281.58,262.37 282.49,263.69 283.4,265.2 284.31,266.92 285.22,268.83 286.13,270.94 287.04,273.21 287.95,275.63 288.86,278.13 289.77,280.68 290.68,283.22 291.59,285.7 292.5,288.06 293.41,290.28 294.32,292.32 295.23,294.16 296.14,295.79 297.05,297.23 297.96,298.48 298.87,299.55 299.78,300.46 300.69,301.23 301.6,301.88 302.51,302.41 303.42,302.86 304.33,303.23 305.24,303.54 306.15,303.79 307.06,303.99 307.97,304.16 308.88,304.3 309.79,304.41 310.7,304.5 311.61,304.58 312.52,304.64 313.43,304.69 314.34,304.73 315.25,304.76 316.16,304.79 317.07,304.81 317.98,304.83 318.89,304.85 319.8,304.86 320.71,304.87 321.62,304.87 322.53,304.88 323.44,304.89 324.35,304.89 325.26,304.89 326.17,304.9 327.08,304.9 327.99,304.9 328.9,304.9 329.81,304.9 330.72,304.9 331.63,304.91 332.54,304.91 333.45,304.91 334.36,304.91 335.27,304.91 336.18,304.91 337.09,304.91 338,304.91" stroke="#2b5186" stroke-width="1.35" fill="none" stroke-linejoin="round" />
<polyline points="228.8,255.24 229.71,255.24 230.62,255.24 231.53,255.24 232.44,255.24 233.35,255.24 234.26,255.24 235.17,255.24 236.08,255.24 236.99,255.24 237.9,255.24 238.81,255.24 239.72,255.24 240.63,255.24 241.54,255.24 242.45,255.24 243.36,255.24 244.27,255.24 245.18,255.24 246.09,255.24 247,255.24 247.91,255.24 248.82,255.24 249.73,255.24 250.64,255.24 251.55,255.24 252.46,255.25 253.37,255.25 254.28,255.25 255.19,255.25 256.1,255.25 257.01,255.26 257.92,255.26 258.83,255.26 259.74,255.27 260.65,255.28 261.56,255.28 262.47,255.29 263.38,255.31 264.29,255.32 265.2,255.34 266.11,255.37 267.02,255.4 267.93,255.44 268.84,255.49 269.75,255.55 270.66,255.62 271.57,255.71 272.48,255.82 273.39,255.96 274.3,256.13 275.21,256.35 276.12,256.61 277.03,256.92 277.94,257.31 278.85,257.79 279.76,258.37 280.67,259.07 281.58,259.91 282.49,260.91 283.4,262.09 284.31,263.47 285.22,265.07 286.13,266.89 287.04,268.93 287.95,271.18 288.86,273.6 289.77,276.18 290.68,278.83 291.59,281.52 292.5,284.18 293.41,286.74 294.32,289.15 295.23,291.39 296.14,293.41 297.05,295.21 297.96,296.79 298.87,298.16 299.78,299.33 300.69,300.31 301.6,301.14 302.51,301.83 303.42,302.4 304.33,302.87 305.24,303.25 306.15,303.57 307.06,303.82 307.97,304.03 308.88,304.2 309.79,304.34 310.7,304.45 311.61,304.54 312.52,304.61 313.43,304.67 314.34,304.71 315.25,304.75 316.16,304.78 317.07,304.81 317.98,304.83 318.89,304.84 319.8,304.86 320.71,304.87 321.62,304.87 322.53,304.88 323.44,304.89 324.35,304.89 325.26,304.89 326.17,304.9 327.08,304.9 327.99,304.9 328.9,304.9 329.81,304.9 330.72,304.9 331.63,304.91 332.54,304.91 333.45,304.91 334.36,304.91 335.27,304.91 336.18,304.91 337.09,304.91 338,304.91" stroke="#4fa64f" stroke-width="1.35" fill="none" stroke-linejoin="round" stroke-opacity="0.9"/>
<polyline points="228.8,255.5 229.71,255.5 230.62,255.5 231.53,255.5 232.44,255.5 233.35,255.5 234.26,255.5 235.17,255.5 236.08,255.5 236.99,255.5 237.9,255.5 238.81,255.5 239.72,255.5 240.63,255.5 241.54,255.5 242.45,255.5 243.36,255.5 244.27,255.5 245.18,255.5 246.09,255.5 247,255.5 247.91,255.5 248.82,255.5 249.73,255.5 250.64,255.5 251.55,255.5 252.46,255.5 253.37,255.5 254.28,255.5 255.19,255.5 256.1,255.5 257.01,255.5 257.92,255.51 258.83,255.51 259.74,255.51 260.65,255.52 261.56,255.52 262.47,255.53 263.38,255.55 264.29,255.57 265.2,255.61 266.11,255.66 267.02,255.73 267.93,255.84 268.84,255.99 269.75,256.22 270.66,256.54 271.57,257 272.48,257.67 273.39,258.61 274.3,259.92 275.21,261.71 276.12,264.1 277.03,267.17 277.94,270.95 278.85,275.35 279.76,280.15 280.67,285.05 281.58,289.7 282.49,293.82 283.4,297.27 284.31,300.01 285.22,302.11 286.13,303.66 287.04,304.78 287.95,305.58 288.86,306.14 289.77,306.53 290.68,306.8 291.59,306.99 292.5,307.12 293.41,307.21 294.32,307.27 295.23,307.31 296.14,307.34 297.05,307.36 297.96,307.37 298.87,307.38 299.78,307.39 300.69,307.39 301.6,307.39 302.51,307.4 303.42,307.4 304.33,307.4 305.24,307.4 306.15,307.4 307.06,307.4 307.97,307.4 308.88,307.4 309.79,307.4 310.7,307.4 311.61,307.4 312.52,307.4 313.43,307.4 314.34,307.4 315.25,307.4 316.16,307.4 317.07,307.4 317.98,307.4 318.89,307.4 319.8,307.4 320.71,307.4 321.62,307.4 322.53,307.4 323.44,307.4 324.35,307.4 325.26,307.4 326.17,307.4 327.08,307.4 327.99,307.4 328.9,307.4 329.81,307.4 330.72,307.4 331.63,307.4 332.54,307.4 333.45,307.4 334.36,307.4 335.27,307.4 336.18,307.4 337.09,307.4 338,307.4" stroke="#c8264f" stroke-width="1.35" fill="none" stroke-linejoin="round" />
<line x1="268.8" y1="248.6" x2="268.8" y2="254.6" stroke="#c8264f" stroke-width="0.7" />
<line x1="267.5" y1="248.6" x2="270.1" y2="248.6" stroke="#c8264f" stroke-width="0.7" />
<line x1="267.5" y1="254.6" x2="270.1" y2="254.6" stroke="#c8264f" stroke-width="0.7" />
<rect x="267.5" y="250.3" width="2.6" height="2.6" fill="#c8264f"/>
<rect x="274.7" y="260.4" width="2.6" height="2.6" fill="#c8264f"/>
<rect x="281.7" y="293.3" width="2.6" height="2.6" fill="#c8264f"/>
<rect x="288.3" y="302.5" width="2.6" height="2.6" fill="#c8264f"/>
<rect x="294.9" y="305.1" width="2.6" height="2.6" fill="#c8264f"/>
<line x1="252.7" y1="254.8" x2="252.7" y2="262.8" stroke="#1d3557" stroke-width="0.7" />
<line x1="251.4" y1="254.8" x2="254" y2="254.8" stroke="#1d3557" stroke-width="0.7" />
<line x1="251.4" y1="262.8" x2="254" y2="262.8" stroke="#1d3557" stroke-width="0.7" />
<circle cx="252.7" cy="258.8" r="1.42" fill="#1d3557"/>
<line x1="260.6" y1="254" x2="260.6" y2="262" stroke="#1d3557" stroke-width="0.7" />
<line x1="259.3" y1="254" x2="261.9" y2="254" stroke="#1d3557" stroke-width="0.7" />
<line x1="259.3" y1="262" x2="261.9" y2="262" stroke="#1d3557" stroke-width="0.7" />
<circle cx="260.6" cy="258" r="1.42" fill="#1d3557"/>
<circle cx="268.8" cy="255.5" r="1.42" fill="#1d3557"/>
<circle cx="289.6" cy="278.6" r="1.42" fill="#1d3557"/>
<circle cx="296.2" cy="296.1" r="1.42" fill="#1d3557"/>
<circle cx="302.7" cy="303.3" r="1.42" fill="#1d3557"/>
<circle cx="309.3" cy="304.9" r="1.42" fill="#1d3557"/>
<circle cx="315.9" cy="305" r="1.42" fill="#1d3557"/>
<circle cx="322.5" cy="305" r="1.42" fill="#1d3557"/>
<circle cx="329" cy="305" r="1.42" fill="#1d3557"/>
<circle cx="335.6" cy="305" r="1.42" fill="#1d3557"/>
<line x1="276" y1="250.3" x2="276" y2="257.3" stroke="#4fa64f" stroke-width="0.7" />
<line x1="274.7" y1="250.3" x2="277.3" y2="250.3" stroke="#4fa64f" stroke-width="0.7" />
<line x1="274.7" y1="257.3" x2="277.3" y2="257.3" stroke="#4fa64f" stroke-width="0.7" />
<path d="M276 252.24 L277.43 254.84 L274.57 254.84 Z" fill="#4fa64f"/>
<line x1="283" y1="256.8" x2="283" y2="260.8" stroke="#4fa64f" stroke-width="0.7" />
<line x1="281.7" y1="256.8" x2="284.3" y2="256.8" stroke="#4fa64f" stroke-width="0.7" />
<line x1="281.7" y1="260.8" x2="284.3" y2="260.8" stroke="#4fa64f" stroke-width="0.7" />
<path d="M283 257.24 L284.43 259.84 L281.57 259.84 Z" fill="#4fa64f"/>
<path d="M289.6 278.24 L291.03 280.84 L288.17 280.84 Z" fill="#4fa64f"/>
<path d="M296.2 293.64 L297.63 296.24 L294.77 296.24 Z" fill="#4fa64f"/>
<path d="M283 267 L284.56 269.83 L281.44 269.83 Z" fill="#1d3557"/>
<text x="232.2" y="283.46" font-size="6" fill="#5070a8" font-style="italic" textLength="18.9" lengthAdjust="spacingAndGlyphs">Ppm1d</text>
<text x="251.4" y="280.55" font-size="4.3" fill="#5070a8" font-style="italic" textLength="6" lengthAdjust="spacingAndGlyphs">+/+</text>
<text x="232.2" y="293.06" font-size="6" fill="#74be74" font-style="italic" textLength="18.9" lengthAdjust="spacingAndGlyphs">Ppm1d</text>
<text x="251.4" y="290.15" font-size="4.3" fill="#74be74" font-style="italic" textLength="18.4" lengthAdjust="spacingAndGlyphs">T476*-fl/+</text>
<text x="232.2" y="302.16" font-size="6" fill="#d44e76" font-style="italic" textLength="18.9" lengthAdjust="spacingAndGlyphs">Ppm1d</text>
<text x="251.4" y="299.25" font-size="4.3" fill="#d44e76" font-style="italic" textLength="5.8" lengthAdjust="spacingAndGlyphs">fl/fl</text>
<text x="283.2" y="283.3" font-size="6.4" fill="#2a2a2a" stroke="#2a2a2a" stroke-width="0.14" text-anchor="middle" textLength="2.8" lengthAdjust="spacingAndGlyphs">*</text>
<text x="286" y="283.3" font-size="6.4" fill="#2a2a2a" stroke="#2a2a2a" stroke-width="0.14" text-anchor="middle" textLength="2.8" lengthAdjust="spacingAndGlyphs">*</text>
<line x1="280.4" y1="283" x2="288.5" y2="283" stroke="#2a2a2a" stroke-width="0.95" />
<text x="357.1" y="131.74" font-size="10.4" fill="#111" stroke="#111" stroke-width="0.45" font-weight="bold" textLength="7.9" lengthAdjust="spacingAndGlyphs">D</text>
<text x="384.8" y="151.12" font-size="7" fill="#3a3a3a" stroke="#3a3a3a" stroke-width="0.14" text-anchor="middle" textLength="6" lengthAdjust="spacingAndGlyphs">Cl</text>
<line x1="384.3" y1="151.9" x2="384.3" y2="159.2" stroke="#3a3a3a" stroke-width="0.75" stroke-linecap="round"/>
<line x1="384.3" y1="159.2" x2="374.3" y2="164.7" stroke="#3a3a3a" stroke-width="0.75" stroke-linecap="round"/>
<line x1="374.3" y1="164.7" x2="374.3" y2="173.5" stroke="#3a3a3a" stroke-width="0.75" stroke-linecap="round"/>
<line x1="376.58" y1="177.35" x2="384.3" y2="181.6" stroke="#3a3a3a" stroke-width="0.75" stroke-linecap="round"/>
<line x1="384.3" y1="181.6" x2="393.5" y2="176.3" stroke="#3a3a3a" stroke-width="0.75" stroke-linecap="round"/>
<line x1="393.5" y1="176.3" x2="393.5" y2="164.7" stroke="#3a3a3a" stroke-width="0.75" stroke-linecap="round"/>
<line x1="393.5" y1="164.7" x2="384.3" y2="159.2" stroke="#3a3a3a" stroke-width="0.75" stroke-linecap="round"/>
<line x1="383.72" y1="161.46" x2="376.53" y2="165.41" stroke="#3a3a3a" stroke-width="0.75" stroke-linecap="round"/>
<line x1="391.8" y1="174.68" x2="391.8" y2="166.28" stroke="#3a3a3a" stroke-width="0.75" stroke-linecap="round"/>
<line x1="377.58" y1="175.96" x2="382.67" y2="178.76" stroke="#3a3a3a" stroke-width="0.75" stroke-linecap="round"/>
<text x="374.3" y="178.82" font-size="7" fill="#3a3a3a" stroke="#3a3a3a" stroke-width="0.14" text-anchor="middle" textLength="4.6" lengthAdjust="spacingAndGlyphs">N</text>
<line x1="384.3" y1="181.6" x2="384.3" y2="192.6" stroke="#3a3a3a" stroke-width="0.75" stroke-linecap="round"/>
<line x1="393.5" y1="176.3" x2="400.66" y2="180.33" stroke="#3a3a3a" stroke-width="0.75" stroke-linecap="round"/>
<text x="403.1" y="184.22" font-size="7" fill="#3a3a3a" stroke="#3a3a3a" stroke-width="0.14" text-anchor="middle" textLength="4.6" lengthAdjust="spacingAndGlyphs">N</text>
<text x="403.1" y="190.82" font-size="7" fill="#3a3a3a" stroke="#3a3a3a" stroke-width="0.14" text-anchor="middle" textLength="4.4" lengthAdjust="spacingAndGlyphs">H</text>
<line x1="405.55" y1="180.35" x2="412.9" y2="176.3" stroke="#3a3a3a" stroke-width="0.75" stroke-linecap="round"/>
<line x1="412.9" y1="176.3" x2="422.7" y2="181.7" stroke="#3a3a3a" stroke-width="0.75" stroke-linecap="round"/>
<line x1="422.7" y1="181.7" x2="429.68" y2="177.2" stroke="#3a3a3a" stroke-width="0.75" stroke-linecap="round"/>
<line x1="433.71" y1="177.21" x2="440.6" y2="181.7" stroke="#3a3a3a" stroke-width="0.75" stroke-linecap="round"/>
<line x1="440.6" y1="181.7" x2="438.3" y2="191.6" stroke="#3a3a3a" stroke-width="0.75" stroke-linecap="round"/>
<line x1="438.3" y1="191.6" x2="425.5" y2="191.6" stroke="#3a3a3a" stroke-width="0.75" stroke-linecap="round"/>
<line x1="425.5" y1="191.6" x2="422.7" y2="181.7" stroke="#3a3a3a" stroke-width="0.75" stroke-linecap="round"/>
<line x1="426.66" y1="189.84" x2="424.63" y2="182.63" stroke="#3a3a3a" stroke-width="0.75" stroke-linecap="round"/>
<line x1="438.74" y1="182.65" x2="437.07" y2="189.83" stroke="#3a3a3a" stroke-width="0.75" stroke-linecap="round"/>
<text x="431.7" y="178.42" font-size="7" fill="#3a3a3a" stroke="#3a3a3a" stroke-width="0.14" text-anchor="middle" textLength="4.2" lengthAdjust="spacingAndGlyphs">S</text>
<line x1="440.6" y1="181.7" x2="450.7" y2="176.4" stroke="#3a3a3a" stroke-width="0.75" stroke-linecap="round"/>
<line x1="451.6" y1="176.4" x2="451.6" y2="168.6" stroke="#3a3a3a" stroke-width="0.75" stroke-linecap="round"/>
<line x1="449.8" y1="176.4" x2="449.8" y2="168.6" stroke="#3a3a3a" stroke-width="0.75" stroke-linecap="round"/>
<text x="451.1" y="168.32" font-size="7" fill="#3a3a3a" stroke="#3a3a3a" stroke-width="0.14" text-anchor="middle" textLength="5.2" lengthAdjust="spacingAndGlyphs">O</text>
<line x1="450.7" y1="176.4" x2="457.58" y2="181.04" stroke="#3a3a3a" stroke-width="0.75" stroke-linecap="round"/>
<text x="459.9" y="185.12" font-size="7" fill="#3a3a3a" stroke="#3a3a3a" stroke-width="0.14" text-anchor="middle" textLength="4.6" lengthAdjust="spacingAndGlyphs">N</text>
<text x="459.9" y="191.32" font-size="7" fill="#3a3a3a" stroke="#3a3a3a" stroke-width="0.14" text-anchor="middle" textLength="4.4" lengthAdjust="spacingAndGlyphs">H</text>
<line x1="462.47" y1="181.5" x2="470.4" y2="178.1" stroke="#3a3a3a" stroke-width="0.75" stroke-linecap="round"/>
<path d="M470.4 178.1 L469.3 167.1 L471.5 167.1 Z" fill="#3a3a3a"/>
<line x1="470.4" y1="167" x2="480.4" y2="161.5" stroke="#3a3a3a" stroke-width="0.75" stroke-linecap="round"/>
<line x1="480.4" y1="161.5" x2="481.8" y2="150.8" stroke="#3a3a3a" stroke-width="0.75" stroke-linecap="round"/>
<line x1="481.8" y1="150.8" x2="493.2" y2="148.7" stroke="#3a3a3a" stroke-width="0.75" stroke-linecap="round"/>
<line x1="493.2" y1="148.7" x2="498.5" y2="158.3" stroke="#3a3a3a" stroke-width="0.75" stroke-linecap="round"/>
<line x1="498.5" y1="158.3" x2="490.5" y2="165.6" stroke="#3a3a3a" stroke-width="0.75" stroke-linecap="round"/>
<line x1="490.5" y1="165.6" x2="480.4" y2="161.5" stroke="#3a3a3a" stroke-width="0.75" stroke-linecap="round"/>
<line x1="470.4" y1="178.1" x2="479.1" y2="183.5" stroke="#3a3a3a" stroke-width="0.75" stroke-linecap="round"/>
<line x1="478.2" y1="183.5" x2="478.2" y2="191.5" stroke="#3a3a3a" stroke-width="0.75" stroke-linecap="round"/>
<line x1="480" y1="183.5" x2="480" y2="191.5" stroke="#3a3a3a" stroke-width="0.75" stroke-linecap="round"/>
<text x="479.1" y="197.22" font-size="7" fill="#3a3a3a" stroke="#3a3a3a" stroke-width="0.14" text-anchor="middle" textLength="5.2" lengthAdjust="spacingAndGlyphs">O</text>
<line x1="479.1" y1="183.5" x2="486.67" y2="179.9" stroke="#3a3a3a" stroke-width="0.75" stroke-linecap="round"/>
<text x="489.2" y="181.22" font-size="7" fill="#3a3a3a" stroke="#3a3a3a" stroke-width="0.14" text-anchor="middle" textLength="4.6" lengthAdjust="spacingAndGlyphs">N</text>
<text x="489.2" y="175.12" font-size="7" fill="#3a3a3a" stroke="#3a3a3a" stroke-width="0.14" text-anchor="middle" textLength="4.4" lengthAdjust="spacingAndGlyphs">H</text>
<line x1="491.51" y1="180.28" x2="498.4" y2="185" stroke="#3a3a3a" stroke-width="0.75" stroke-linecap="round"/>
<line x1="498.4" y1="185" x2="509.9" y2="185" stroke="#3a3a3a" stroke-width="0.75" stroke-linecap="round"/>
<line x1="509.9" y1="185" x2="503.8" y2="194.2" stroke="#3a3a3a" stroke-width="0.75" stroke-linecap="round"/>
<line x1="503.8" y1="194.2" x2="498.4" y2="185" stroke="#3a3a3a" stroke-width="0.75" stroke-linecap="round"/>
<text x="440.4" y="208.55" font-size="8.2" fill="#222" stroke="#222" stroke-width="0.14" text-anchor="middle" textLength="48.4" lengthAdjust="spacingAndGlyphs">GSK2830371</text>
<line x1="407.3" y1="237.8" x2="407.3" y2="307.9" stroke="#1a1a1a" stroke-width="1.1" />
<line x1="404.7" y1="307.4" x2="407.3" y2="307.4" stroke="#1a1a1a" stroke-width="0.9" />
<line x1="405.7" y1="302.19" x2="407.3" y2="302.19" stroke="#1a1a1a" stroke-width="0.7" />
<line x1="405.7" y1="296.98" x2="407.3" y2="296.98" stroke="#1a1a1a" stroke-width="0.7" />
<line x1="405.7" y1="291.77" x2="407.3" y2="291.77" stroke="#1a1a1a" stroke-width="0.7" />
<line x1="405.7" y1="286.56" x2="407.3" y2="286.56" stroke="#1a1a1a" stroke-width="0.7" />
<line x1="404.7" y1="281.35" x2="407.3" y2="281.35" stroke="#1a1a1a" stroke-width="0.9" />
<line x1="405.7" y1="276.14" x2="407.3" y2="276.14" stroke="#1a1a1a" stroke-width="0.7" />
<line x1="405.7" y1="270.93" x2="407.3" y2="270.93" stroke="#1a1a1a" stroke-width="0.7" />
<line x1="405.7" y1="265.72" x2="407.3" y2="265.72" stroke="#1a1a1a" stroke-width="0.7" />
<line x1="405.7" y1="260.51" x2="407.3" y2="260.51" stroke="#1a1a1a" stroke-width="0.7" />
<line x1="404.7" y1="255.3" x2="407.3" y2="255.3" stroke="#1a1a1a" stroke-width="0.9" />
<line x1="405.7" y1="250.09" x2="407.3" y2="250.09" stroke="#1a1a1a" stroke-width="0.7" />
<line x1="405.7" y1="244.88" x2="407.3" y2="244.88" stroke="#1a1a1a" stroke-width="0.7" />
<line x1="405.7" y1="239.67" x2="407.3" y2="239.67" stroke="#1a1a1a" stroke-width="0.7" />
<text x="402.6" y="310.1" font-size="7.5" fill="#262626" stroke="#262626" stroke-width="0.14" text-anchor="end" textLength="3.13" lengthAdjust="spacingAndGlyphs">0</text>
<text x="402.6" y="284.05" font-size="7.5" fill="#262626" stroke="#262626" stroke-width="0.14" text-anchor="end" textLength="6.27" lengthAdjust="spacingAndGlyphs">50</text>
<text x="402.6" y="258" font-size="7.5" fill="#262626" stroke="#262626" stroke-width="0.14" text-anchor="end" textLength="9.4" lengthAdjust="spacingAndGlyphs">100</text>
<line x1="404.7" y1="307.3" x2="505.8" y2="307.3" stroke="#1a1a1a" stroke-width="1.15" />
<line x1="407.6" y1="307.3" x2="407.6" y2="309.9" stroke="#1a1a1a" stroke-width="0.9" />
<text x="407.6" y="319.1" font-size="7.5" fill="#262626" stroke="#262626" stroke-width="0.14" text-anchor="middle" textLength="3.1" lengthAdjust="spacingAndGlyphs">0</text>
<line x1="418.6" y1="307.3" x2="418.6" y2="309.9" stroke="#1a1a1a" stroke-width="0.9" />
<text x="418.6" y="319.1" font-size="7.5" fill="#262626" stroke="#262626" stroke-width="0.14" text-anchor="middle" textLength="8.9" lengthAdjust="spacingAndGlyphs">0.1</text>
<line x1="455.5" y1="307.3" x2="455.5" y2="309.9" stroke="#1a1a1a" stroke-width="0.9" />
<text x="455.5" y="319.1" font-size="7.5" fill="#262626" stroke="#262626" stroke-width="0.14" text-anchor="middle" textLength="3.1" lengthAdjust="spacingAndGlyphs">1</text>
<line x1="492.7" y1="307.3" x2="492.7" y2="309.9" stroke="#1a1a1a" stroke-width="0.9" />
<text x="492.7" y="319.1" font-size="7.5" fill="#262626" stroke="#262626" stroke-width="0.14" text-anchor="middle" textLength="6.4" lengthAdjust="spacingAndGlyphs">10</text>
<text x="456.4" y="329.26" font-size="7.4" fill="#262626" stroke="#262626" stroke-width="0.14" text-anchor="middle" textLength="56" lengthAdjust="spacingAndGlyphs">GSK2830371 [uM]</text>
<text x="372.9" y="275.5" font-size="8.6" fill="#3a3a3a" stroke="#3a3a3a" stroke-width="0.14" text-anchor="middle" transform="rotate(-90 372.9 272.4)" textLength="58.8" lengthAdjust="spacingAndGlyphs">Viability normalized</text>
<text x="383.9" y="275.5" font-size="8.6" fill="#3a3a3a" stroke="#3a3a3a" stroke-width="0.14" text-anchor="middle" transform="rotate(-90 383.9 272.4)" textLength="30.6" lengthAdjust="spacingAndGlyphs">to no drug</text>
<rect x="408" y="253.74" width="84" height="3.65" fill="#c8c8c8" opacity="0.55"/>
<polyline points="407.5,257.12 492,257.12 492.6,250.09 493.4,246.18 505,246.18" stroke="#2b5186" stroke-width="1.1" fill="none" stroke-linejoin="round" />
<polyline points="407.5,255.56 492,255.56 492.6,249.05 493.4,244.1 505,244.1" stroke="#c8264f" stroke-width="1.1" fill="none" stroke-linejoin="round" />
<polyline points="407.5,254 462,253.99 462.54,253.98 463.07,253.98 463.61,253.98 464.15,253.97 464.69,253.97 465.23,253.96 465.76,253.96 466.3,253.95 466.84,253.94 467.38,253.93 467.91,253.92 468.45,253.9 468.99,253.88 469.52,253.86 470.06,253.83 470.6,253.8 471.14,253.76 471.68,253.72 472.21,253.67 472.75,253.6 473.29,253.53 473.82,253.44 474.36,253.33 474.9,253.21 475.44,253.07 475.98,252.9 476.51,252.71 477.05,252.48 477.59,252.22 478.12,251.93 478.66,251.6 479.2,251.23 479.74,250.81 480.27,250.36 480.81,249.87 481.35,249.34 481.89,248.79 482.43,248.21 482.96,247.62 483.5,247.02 484.04,246.43 484.57,245.86 485.11,245.31 485.65,244.78 486.19,244.3 486.73,243.85 487.26,243.44 487.8,243.07 488.34,242.74 488.88,242.45 489.41,242.2 489.95,241.98 490.49,241.79 491.02,241.62 491.56,241.48 492.1,241.36 492.64,241.26 493.18,241.17 493.71,241.1 494.25,241.04 494.79,240.99 495.32,240.94 495.86,240.9 496.4,240.87 496.94,240.85 497.48,240.83 498.01,240.81 498.55,240.79 499.09,240.78 499.62,240.77 500.16,240.76 500.7,240.75 501.24,240.74 501.77,240.74 502.31,240.73 502.85,240.73 503.39,240.73 503.93,240.73 504.46,240.72 505,240.72" stroke="#4fa64f" stroke-width="1.1" fill="none" stroke-linejoin="round" />
<line x1="418.7" y1="253.92" x2="418.7" y2="260.32" stroke="#1d3557" stroke-width="0.7" />
<line x1="417.4" y1="253.92" x2="420" y2="253.92" stroke="#1d3557" stroke-width="0.7" />
<line x1="417.4" y1="260.32" x2="420" y2="260.32" stroke="#1d3557" stroke-width="0.7" />
<circle cx="418.7" cy="257.12" r="1.18" fill="#1d3557"/>
<line x1="418.7" y1="252.12" x2="418.7" y2="256.92" stroke="#c8264f" stroke-width="0.7" />
<line x1="417.4" y1="252.12" x2="420" y2="252.12" stroke="#c8264f" stroke-width="0.7" />
<line x1="417.4" y1="256.92" x2="420" y2="256.92" stroke="#c8264f" stroke-width="0.7" />
<rect x="417.52" y="253.34" width="2.36" height="2.36" fill="#c8264f"/>
<circle cx="418.5" cy="255.56" r="0.71" fill="#555"/>
<line x1="429.3" y1="253.92" x2="429.3" y2="260.32" stroke="#1d3557" stroke-width="0.7" />
<line x1="428" y1="253.92" x2="430.6" y2="253.92" stroke="#1d3557" stroke-width="0.7" />
<line x1="428" y1="260.32" x2="430.6" y2="260.32" stroke="#1d3557" stroke-width="0.7" />
<circle cx="429.3" cy="257.12" r="1.18" fill="#1d3557"/>
<line x1="429.3" y1="252.12" x2="429.3" y2="256.92" stroke="#c8264f" stroke-width="0.7" />
<line x1="428" y1="252.12" x2="430.6" y2="252.12" stroke="#c8264f" stroke-width="0.7" />
<line x1="428" y1="256.92" x2="430.6" y2="256.92" stroke="#c8264f" stroke-width="0.7" />
<rect x="428.12" y="253.34" width="2.36" height="2.36" fill="#c8264f"/>
<circle cx="429.1" cy="255.56" r="0.71" fill="#555"/>
<line x1="439.9" y1="253.92" x2="439.9" y2="260.32" stroke="#1d3557" stroke-width="0.7" />
<line x1="438.6" y1="253.92" x2="441.2" y2="253.92" stroke="#1d3557" stroke-width="0.7" />
<line x1="438.6" y1="260.32" x2="441.2" y2="260.32" stroke="#1d3557" stroke-width="0.7" />
<circle cx="439.9" cy="257.12" r="1.18" fill="#1d3557"/>
<line x1="439.9" y1="252.12" x2="439.9" y2="256.92" stroke="#c8264f" stroke-width="0.7" />
<line x1="438.6" y1="252.12" x2="441.2" y2="252.12" stroke="#c8264f" stroke-width="0.7" />
<line x1="438.6" y1="256.92" x2="441.2" y2="256.92" stroke="#c8264f" stroke-width="0.7" />
<rect x="438.72" y="253.34" width="2.36" height="2.36" fill="#c8264f"/>
<circle cx="439.7" cy="255.56" r="0.71" fill="#555"/>
<line x1="450.5" y1="253.92" x2="450.5" y2="260.32" stroke="#1d3557" stroke-width="0.7" />
<line x1="449.2" y1="253.92" x2="451.8" y2="253.92" stroke="#1d3557" stroke-width="0.7" />
<line x1="449.2" y1="260.32" x2="451.8" y2="260.32" stroke="#1d3557" stroke-width="0.7" />
<circle cx="450.5" cy="257.12" r="1.18" fill="#1d3557"/>
<line x1="450.5" y1="252.12" x2="450.5" y2="256.92" stroke="#c8264f" stroke-width="0.7" />
<line x1="449.2" y1="252.12" x2="451.8" y2="252.12" stroke="#c8264f" stroke-width="0.7" />
<line x1="449.2" y1="256.92" x2="451.8" y2="256.92" stroke="#c8264f" stroke-width="0.7" />
<rect x="449.32" y="253.34" width="2.36" height="2.36" fill="#c8264f"/>
<circle cx="450.3" cy="255.56" r="0.71" fill="#555"/>
<line x1="461.2" y1="253.92" x2="461.2" y2="260.32" stroke="#1d3557" stroke-width="0.7" />
<line x1="459.9" y1="253.92" x2="462.5" y2="253.92" stroke="#1d3557" stroke-width="0.7" />
<line x1="459.9" y1="260.32" x2="462.5" y2="260.32" stroke="#1d3557" stroke-width="0.7" />
<circle cx="461.2" cy="257.12" r="1.18" fill="#1d3557"/>
<line x1="461.2" y1="252.12" x2="461.2" y2="256.92" stroke="#c8264f" stroke-width="0.7" />
<line x1="459.9" y1="252.12" x2="462.5" y2="252.12" stroke="#c8264f" stroke-width="0.7" />
<line x1="459.9" y1="256.92" x2="462.5" y2="256.92" stroke="#c8264f" stroke-width="0.7" />
<rect x="460.02" y="253.34" width="2.36" height="2.36" fill="#c8264f"/>
<circle cx="461" cy="255.56" r="0.71" fill="#555"/>
<line x1="471.8" y1="253.92" x2="471.8" y2="260.32" stroke="#1d3557" stroke-width="0.7" />
<line x1="470.5" y1="253.92" x2="473.1" y2="253.92" stroke="#1d3557" stroke-width="0.7" />
<line x1="470.5" y1="260.32" x2="473.1" y2="260.32" stroke="#1d3557" stroke-width="0.7" />
<circle cx="471.8" cy="257.12" r="1.18" fill="#1d3557"/>
<line x1="471.8" y1="252.12" x2="471.8" y2="256.92" stroke="#c8264f" stroke-width="0.7" />
<line x1="470.5" y1="252.12" x2="473.1" y2="252.12" stroke="#c8264f" stroke-width="0.7" />
<line x1="470.5" y1="256.92" x2="473.1" y2="256.92" stroke="#c8264f" stroke-width="0.7" />
<rect x="470.62" y="253.34" width="2.36" height="2.36" fill="#c8264f"/>
<circle cx="471.6" cy="255.56" r="0.71" fill="#555"/>
<line x1="482.6" y1="253.92" x2="482.6" y2="260.32" stroke="#1d3557" stroke-width="0.7" />
<line x1="481.3" y1="253.92" x2="483.9" y2="253.92" stroke="#1d3557" stroke-width="0.7" />
<line x1="481.3" y1="260.32" x2="483.9" y2="260.32" stroke="#1d3557" stroke-width="0.7" />
<circle cx="482.6" cy="257.12" r="1.18" fill="#1d3557"/>
<line x1="482.6" y1="252.12" x2="482.6" y2="256.92" stroke="#c8264f" stroke-width="0.7" />
<line x1="481.3" y1="252.12" x2="483.9" y2="252.12" stroke="#c8264f" stroke-width="0.7" />
<line x1="481.3" y1="256.92" x2="483.9" y2="256.92" stroke="#c8264f" stroke-width="0.7" />
<rect x="481.42" y="253.34" width="2.36" height="2.36" fill="#c8264f"/>
<circle cx="482.4" cy="255.56" r="0.71" fill="#555"/>
<line x1="493.3" y1="243.18" x2="493.3" y2="249.18" stroke="#1d3557" stroke-width="0.7" />
<line x1="492" y1="243.18" x2="494.6" y2="243.18" stroke="#1d3557" stroke-width="0.7" />
<line x1="492" y1="249.18" x2="494.6" y2="249.18" stroke="#1d3557" stroke-width="0.7" />
<circle cx="493.3" cy="246.18" r="1.18" fill="#1d3557"/>
<line x1="493.3" y1="241.1" x2="493.3" y2="247.1" stroke="#c8264f" stroke-width="0.7" />
<line x1="492" y1="241.1" x2="494.6" y2="241.1" stroke="#c8264f" stroke-width="0.7" />
<line x1="492" y1="247.1" x2="494.6" y2="247.1" stroke="#c8264f" stroke-width="0.7" />
<rect x="492.12" y="242.92" width="2.36" height="2.36" fill="#c8264f"/>
<line x1="493.3" y1="237.71" x2="493.3" y2="243.71" stroke="#4fa64f" stroke-width="0.7" />
<line x1="492" y1="237.71" x2="494.6" y2="237.71" stroke="#4fa64f" stroke-width="0.7" />
<line x1="492" y1="243.71" x2="494.6" y2="243.71" stroke="#4fa64f" stroke-width="0.7" />
<path d="M493.3 239.3 L494.6 241.66 L492 241.66 Z" fill="#4fa64f"/>
<line x1="504" y1="243.18" x2="504" y2="249.18" stroke="#1d3557" stroke-width="0.7" />
<line x1="502.7" y1="243.18" x2="505.3" y2="243.18" stroke="#1d3557" stroke-width="0.7" />
<line x1="502.7" y1="249.18" x2="505.3" y2="249.18" stroke="#1d3557" stroke-width="0.7" />
<circle cx="504" cy="246.18" r="1.18" fill="#1d3557"/>
<line x1="504" y1="241.1" x2="504" y2="247.1" stroke="#c8264f" stroke-width="0.7" />
<line x1="502.7" y1="241.1" x2="505.3" y2="241.1" stroke="#c8264f" stroke-width="0.7" />
<line x1="502.7" y1="247.1" x2="505.3" y2="247.1" stroke="#c8264f" stroke-width="0.7" />
<rect x="502.82" y="242.92" width="2.36" height="2.36" fill="#c8264f"/>
<line x1="504" y1="237.71" x2="504" y2="243.71" stroke="#4fa64f" stroke-width="0.7" />
<line x1="502.7" y1="237.71" x2="505.3" y2="237.71" stroke="#4fa64f" stroke-width="0.7" />
<line x1="502.7" y1="243.71" x2="505.3" y2="243.71" stroke="#4fa64f" stroke-width="0.7" />
<path d="M504 239.3 L505.3 241.66 L502.7 241.66 Z" fill="#4fa64f"/>
<path d="M482.6 248.67 L483.9 251.03 L481.3 251.03 Z" fill="#4fa64f"/>
<text x="411.1" y="285.98" font-size="6.6" fill="#5070a8" font-style="italic" textLength="29.6" lengthAdjust="spacingAndGlyphs">Ppm1d WT</text>
<text x="411.1" y="294.78" font-size="6.6" fill="#74be74" font-style="italic" textLength="24" lengthAdjust="spacingAndGlyphs">Ppm1d Tr</text>
<text x="411.1" y="303.08" font-size="6.6" fill="#d44e76" font-style="italic" textLength="28" lengthAdjust="spacingAndGlyphs">Ppm1d KO</text>
<text x="7.6" y="359.84" font-size="10.4" fill="#111" stroke="#111" stroke-width="0.45" font-weight="bold" textLength="6.6" lengthAdjust="spacingAndGlyphs">E</text>
<line x1="56.6" y1="366.8" x2="56.6" y2="435.1" stroke="#1a1a1a" stroke-width="1.1" />
<line x1="54" y1="434.5" x2="56.6" y2="434.5" stroke="#1a1a1a" stroke-width="0.9" />
<line x1="55" y1="429.06" x2="56.6" y2="429.06" stroke="#1a1a1a" stroke-width="0.7" />
<line x1="55" y1="423.62" x2="56.6" y2="423.62" stroke="#1a1a1a" stroke-width="0.7" />
<line x1="55" y1="418.18" x2="56.6" y2="418.18" stroke="#1a1a1a" stroke-width="0.7" />
<line x1="55" y1="412.74" x2="56.6" y2="412.74" stroke="#1a1a1a" stroke-width="0.7" />
<line x1="54" y1="407.3" x2="56.6" y2="407.3" stroke="#1a1a1a" stroke-width="0.9" />
<line x1="55" y1="401.86" x2="56.6" y2="401.86" stroke="#1a1a1a" stroke-width="0.7" />
<line x1="55" y1="396.42" x2="56.6" y2="396.42" stroke="#1a1a1a" stroke-width="0.7" />
<line x1="55" y1="390.98" x2="56.6" y2="390.98" stroke="#1a1a1a" stroke-width="0.7" />
<line x1="55" y1="385.54" x2="56.6" y2="385.54" stroke="#1a1a1a" stroke-width="0.7" />
<line x1="54" y1="380.1" x2="56.6" y2="380.1" stroke="#1a1a1a" stroke-width="0.9" />
<line x1="55" y1="374.66" x2="56.6" y2="374.66" stroke="#1a1a1a" stroke-width="0.7" />
<line x1="55" y1="369.22" x2="56.6" y2="369.22" stroke="#1a1a1a" stroke-width="0.7" />
<text x="50.6" y="437.2" font-size="7.5" fill="#262626" stroke="#262626" stroke-width="0.14" text-anchor="end" textLength="3.13" lengthAdjust="spacingAndGlyphs">0</text>
<text x="50.6" y="410" font-size="7.5" fill="#262626" stroke="#262626" stroke-width="0.14" text-anchor="end" textLength="6.27" lengthAdjust="spacingAndGlyphs">50</text>
<text x="50.6" y="382.8" font-size="7.5" fill="#262626" stroke="#262626" stroke-width="0.14" text-anchor="end" textLength="9.4" lengthAdjust="spacingAndGlyphs">100</text>
<line x1="54" y1="434.5" x2="161.8" y2="434.5" stroke="#1a1a1a" stroke-width="1.15" />
<line x1="56.5" y1="434.5" x2="56.5" y2="437.1" stroke="#1a1a1a" stroke-width="0.9" />
<text x="56.5" y="446.1" font-size="7.5" fill="#262626" stroke="#262626" stroke-width="0.14" text-anchor="middle" textLength="3.1" lengthAdjust="spacingAndGlyphs">0</text>
<line x1="68.4" y1="434.5" x2="68.4" y2="437.1" stroke="#1a1a1a" stroke-width="0.9" />
<text x="68.4" y="446.1" font-size="7.5" fill="#262626" stroke="#262626" stroke-width="0.14" text-anchor="middle" textLength="14.6" lengthAdjust="spacingAndGlyphs">0.001</text>
<line x1="107.4" y1="434.5" x2="107.4" y2="437.1" stroke="#1a1a1a" stroke-width="0.9" />
<text x="107.4" y="446.1" font-size="7.5" fill="#262626" stroke="#262626" stroke-width="0.14" text-anchor="middle" textLength="11.2" lengthAdjust="spacingAndGlyphs">0.01</text>
<line x1="146.2" y1="434.5" x2="146.2" y2="437.1" stroke="#1a1a1a" stroke-width="0.9" />
<text x="146.2" y="446.1" font-size="7.5" fill="#262626" stroke="#262626" stroke-width="0.14" text-anchor="middle" textLength="7.8" lengthAdjust="spacingAndGlyphs">0.1</text>
<text x="109.8" y="458.02" font-size="8.4" fill="#262626" stroke="#262626" stroke-width="0.14" text-anchor="middle" textLength="57.2" lengthAdjust="spacingAndGlyphs">Daunorubicin [uM]</text>
<text x="22" y="403.7" font-size="8.6" fill="#3a3a3a" stroke="#3a3a3a" stroke-width="0.14" text-anchor="middle" transform="rotate(-90 22 400.6)" textLength="58.8" lengthAdjust="spacingAndGlyphs">Viability normalized</text>
<text x="33.4" y="403.7" font-size="8.6" fill="#3a3a3a" stroke="#3a3a3a" stroke-width="0.14" text-anchor="middle" transform="rotate(-90 33.4 400.6)" textLength="30.6" lengthAdjust="spacingAndGlyphs">to no drug</text>
<text x="91" y="359.5" font-size="8.2" fill="#222" stroke="#222" stroke-width="0.14" font-style="italic" textLength="26.2" lengthAdjust="spacingAndGlyphs">Ppm1d</text>
<text x="117.5" y="356.82" font-size="5.6" fill="#222" stroke="#222" stroke-width="0.14" font-style="italic" textLength="9.8" lengthAdjust="spacingAndGlyphs">+/+</text>
<polyline points="56.6,377.92 57.46,377.92 58.32,377.92 59.19,377.92 60.05,377.92 60.91,377.92 61.77,377.92 62.63,377.92 63.49,377.92 64.36,377.92 65.22,377.92 66.08,377.92 66.94,377.92 67.8,377.92 68.66,377.92 69.53,377.92 70.39,377.92 71.25,377.92 72.11,377.92 72.97,377.92 73.83,377.92 74.7,377.92 75.56,377.92 76.42,377.92 77.28,377.92 78.14,377.92 79,377.92 79.87,377.92 80.73,377.92 81.59,377.92 82.45,377.92 83.31,377.92 84.17,377.92 85.03,377.92 85.9,377.93 86.76,377.93 87.62,377.93 88.48,377.93 89.34,377.93 90.21,377.93 91.07,377.94 91.93,377.94 92.79,377.95 93.65,377.97 94.51,377.99 95.38,378.01 96.24,378.05 97.1,378.11 97.96,378.2 98.82,378.32 99.68,378.5 100.55,378.75 101.41,379.12 102.27,379.65 103.13,380.4 103.99,381.45 104.85,382.92 105.72,384.9 106.58,387.53 107.44,390.89 108.3,394.98 109.16,399.72 110.02,404.86 110.89,410.08 111.75,415.02 112.61,419.4 113.47,423.06 114.33,425.98 115.19,428.22 116.06,429.88 116.92,431.09 117.78,431.95 118.64,432.56 119.5,432.99 120.36,433.29 121.22,433.5 122.09,433.64 122.95,433.74 123.81,433.81 124.67,433.85 125.53,433.88 126.4,433.91 127.26,433.92 128.12,433.93 128.98,433.94 129.84,433.95 130.7,433.95 131.56,433.95 132.43,433.95 133.29,433.95 134.15,433.95 135.01,433.95 135.87,433.96 136.74,433.96 137.6,433.96 138.46,433.96 139.32,433.96 140.18,433.96 141.04,433.96 141.91,433.96 142.77,433.96 143.63,433.96 144.49,433.96 145.35,433.96 146.21,433.96 147.07,433.96 147.94,433.96 148.8,433.96 149.66,433.96 150.52,433.96 151.38,433.96 152.25,433.96 153.11,433.96 153.97,433.96 154.83,433.96 155.69,433.96 156.55,433.96 157.42,433.96 158.28,433.96 159.14,433.96 160,433.96" stroke="#23457a" stroke-width="1.35" fill="none" stroke-linejoin="round" />
<polyline points="56.6,377.92 57.46,377.92 58.32,377.92 59.19,377.92 60.05,377.92 60.91,377.92 61.77,377.92 62.63,377.93 63.49,377.93 64.36,377.93 65.22,377.93 66.08,377.93 66.94,377.93 67.8,377.93 68.66,377.93 69.53,377.93 70.39,377.94 71.25,377.94 72.11,377.94 72.97,377.95 73.83,377.96 74.7,377.97 75.56,377.98 76.42,377.99 77.28,378.01 78.14,378.04 79,378.07 79.87,378.11 80.73,378.17 81.59,378.24 82.45,378.33 83.31,378.44 84.17,378.59 85.03,378.78 85.9,379.02 86.76,379.33 87.62,379.72 88.48,380.22 89.34,380.85 90.21,381.64 91.07,382.62 91.93,383.83 92.79,385.31 93.65,387.09 94.51,389.2 95.38,391.66 96.24,394.45 97.1,397.55 97.96,400.89 98.82,404.38 99.68,407.93 100.55,411.41 101.41,414.73 102.27,417.79 103.13,420.54 103.99,422.95 104.85,425.02 105.72,426.77 106.58,428.21 107.44,429.39 108.3,430.35 109.16,431.12 110.02,431.73 110.89,432.21 111.75,432.59 112.61,432.89 113.47,433.13 114.33,433.31 115.19,433.45 116.06,433.56 116.92,433.65 117.78,433.72 118.64,433.77 119.5,433.81 120.36,433.85 121.22,433.87 122.09,433.89 122.95,433.9 123.81,433.92 124.67,433.92 125.53,433.93 126.4,433.94 127.26,433.94 128.12,433.94 128.98,433.95 129.84,433.95 130.7,433.95 131.56,433.95 132.43,433.95 133.29,433.95 134.15,433.95 135.01,433.95 135.87,433.95 136.74,433.96 137.6,433.96 138.46,433.96 139.32,433.96 140.18,433.96 141.04,433.96 141.91,433.96 142.77,433.96 143.63,433.96 144.49,433.96 145.35,433.96 146.21,433.96 147.07,433.96 147.94,433.96 148.8,433.96 149.66,433.96 150.52,433.96 151.38,433.96 152.25,433.96 153.11,433.96 153.97,433.96 154.83,433.96 155.69,433.96 156.55,433.96 157.42,433.96 158.28,433.96 159.14,433.96 160,433.96" stroke="#4fa64f" stroke-width="1.35" fill="none" stroke-linejoin="round" />
<rect x="55.58" y="378.08" width="2.83" height="2.83" fill="#1d3557"/>
<line x1="68.4" y1="378.5" x2="68.4" y2="381.5" stroke="#1d3557" stroke-width="0.7" />
<line x1="67.1" y1="378.5" x2="69.7" y2="378.5" stroke="#1d3557" stroke-width="0.7" />
<line x1="67.1" y1="381.5" x2="69.7" y2="381.5" stroke="#1d3557" stroke-width="0.7" />
<circle cx="68.4" cy="380" r="1.42" fill="#1d3557"/>
<line x1="79.4" y1="374.8" x2="79.4" y2="382.8" stroke="#1d3557" stroke-width="0.7" />
<line x1="78.1" y1="374.8" x2="80.7" y2="374.8" stroke="#1d3557" stroke-width="0.7" />
<line x1="78.1" y1="382.8" x2="80.7" y2="382.8" stroke="#1d3557" stroke-width="0.7" />
<circle cx="79.4" cy="378.8" r="1.42" fill="#1d3557"/>
<line x1="91" y1="371.1" x2="91" y2="376.1" stroke="#1d3557" stroke-width="0.7" />
<line x1="89.7" y1="371.1" x2="92.3" y2="371.1" stroke="#1d3557" stroke-width="0.7" />
<line x1="89.7" y1="376.1" x2="92.3" y2="376.1" stroke="#1d3557" stroke-width="0.7" />
<circle cx="91" cy="373.6" r="1.42" fill="#1d3557"/>
<circle cx="102.7" cy="379.3" r="1.42" fill="#1d3557"/>
<circle cx="113.2" cy="422.3" r="1.42" fill="#1d3557"/>
<circle cx="124.2" cy="430.8" r="1.42" fill="#1d3557"/>
<circle cx="135.4" cy="432.6" r="1.42" fill="#1d3557"/>
<circle cx="146" cy="433" r="1.42" fill="#1d3557"/>
<circle cx="157.4" cy="433.2" r="1.42" fill="#1d3557"/>
<line x1="68.4" y1="372.2" x2="68.4" y2="380.8" stroke="#4fa64f" stroke-width="0.7" />
<line x1="67.1" y1="372.2" x2="69.7" y2="372.2" stroke="#4fa64f" stroke-width="0.7" />
<line x1="67.1" y1="380.8" x2="69.7" y2="380.8" stroke="#4fa64f" stroke-width="0.7" />
<circle cx="68.4" cy="376.5" r="1.3" fill="#4fa64f"/>
<line x1="79.4" y1="368.5" x2="79.4" y2="383.5" stroke="#4fa64f" stroke-width="0.7" />
<line x1="78.1" y1="368.5" x2="80.7" y2="368.5" stroke="#4fa64f" stroke-width="0.7" />
<line x1="78.1" y1="383.5" x2="80.7" y2="383.5" stroke="#4fa64f" stroke-width="0.7" />
<circle cx="79.4" cy="376" r="1.3" fill="#4fa64f"/>
<circle cx="91" cy="382.6" r="1.3" fill="#4fa64f"/>
<circle cx="101.6" cy="417.4" r="1.3" fill="#4fa64f"/>
<circle cx="112.8" cy="431.8" r="1.3" fill="#4fa64f"/>
<text x="59.8" y="421.85" font-size="6.8" fill="#34507e" stroke="#34507e" stroke-width="0.08" textLength="20.6" lengthAdjust="spacingAndGlyphs">No GSK</text>
<text x="59.8" y="430.85" font-size="6.8" fill="#5aaa5a" stroke="#5aaa5a" stroke-width="0.08" textLength="26.2" lengthAdjust="spacingAndGlyphs">GSK 1 uM</text>
<text x="103" y="408.1" font-size="6.4" fill="#2a2a2a" stroke="#2a2a2a" stroke-width="0.14" text-anchor="middle" textLength="2.8" lengthAdjust="spacingAndGlyphs">*</text>
<text x="105.8" y="408.1" font-size="6.4" fill="#2a2a2a" stroke="#2a2a2a" stroke-width="0.14" text-anchor="middle" textLength="2.8" lengthAdjust="spacingAndGlyphs">*</text>
<line x1="100.1" y1="407.2" x2="109.4" y2="407.2" stroke="#2a2a2a" stroke-width="0.95" />
<line x1="228.4" y1="365.4" x2="228.4" y2="435" stroke="#1a1a1a" stroke-width="1.1" />
<line x1="225.8" y1="434.5" x2="228.4" y2="434.5" stroke="#1a1a1a" stroke-width="0.9" />
<line x1="226.8" y1="428.93" x2="228.4" y2="428.93" stroke="#1a1a1a" stroke-width="0.7" />
<line x1="226.8" y1="423.36" x2="228.4" y2="423.36" stroke="#1a1a1a" stroke-width="0.7" />
<line x1="226.8" y1="417.79" x2="228.4" y2="417.79" stroke="#1a1a1a" stroke-width="0.7" />
<line x1="226.8" y1="412.22" x2="228.4" y2="412.22" stroke="#1a1a1a" stroke-width="0.7" />
<line x1="225.8" y1="406.65" x2="228.4" y2="406.65" stroke="#1a1a1a" stroke-width="0.9" />
<line x1="226.8" y1="401.08" x2="228.4" y2="401.08" stroke="#1a1a1a" stroke-width="0.7" />
<line x1="226.8" y1="395.51" x2="228.4" y2="395.51" stroke="#1a1a1a" stroke-width="0.7" />
<line x1="226.8" y1="389.94" x2="228.4" y2="389.94" stroke="#1a1a1a" stroke-width="0.7" />
<line x1="226.8" y1="384.37" x2="228.4" y2="384.37" stroke="#1a1a1a" stroke-width="0.7" />
<line x1="225.8" y1="378.8" x2="228.4" y2="378.8" stroke="#1a1a1a" stroke-width="0.9" />
<line x1="226.8" y1="373.23" x2="228.4" y2="373.23" stroke="#1a1a1a" stroke-width="0.7" />
<line x1="226.8" y1="367.66" x2="228.4" y2="367.66" stroke="#1a1a1a" stroke-width="0.7" />
<text x="222.6" y="437.2" font-size="7.5" fill="#262626" stroke="#262626" stroke-width="0.14" text-anchor="end" textLength="3.13" lengthAdjust="spacingAndGlyphs">0</text>
<text x="222.6" y="409.35" font-size="7.5" fill="#262626" stroke="#262626" stroke-width="0.14" text-anchor="end" textLength="6.27" lengthAdjust="spacingAndGlyphs">50</text>
<text x="222.6" y="381.5" font-size="7.5" fill="#262626" stroke="#262626" stroke-width="0.14" text-anchor="end" textLength="9.4" lengthAdjust="spacingAndGlyphs">100</text>
<line x1="225.8" y1="434.4" x2="333" y2="434.4" stroke="#1a1a1a" stroke-width="1.15" />
<line x1="228.4" y1="434.4" x2="228.4" y2="437" stroke="#1a1a1a" stroke-width="0.9" />
<text x="228.4" y="445.9" font-size="7.5" fill="#262626" stroke="#262626" stroke-width="0.14" text-anchor="middle" textLength="3.1" lengthAdjust="spacingAndGlyphs">0</text>
<line x1="258.8" y1="434.4" x2="258.8" y2="437" stroke="#1a1a1a" stroke-width="0.9" />
<text x="258.8" y="445.9" font-size="7.5" fill="#262626" stroke="#262626" stroke-width="0.14" text-anchor="middle" textLength="14.6" lengthAdjust="spacingAndGlyphs">0.001</text>
<line x1="289.6" y1="434.4" x2="289.6" y2="437" stroke="#1a1a1a" stroke-width="0.9" />
<text x="289.6" y="445.9" font-size="7.5" fill="#262626" stroke="#262626" stroke-width="0.14" text-anchor="middle" textLength="11.2" lengthAdjust="spacingAndGlyphs">0.01</text>
<line x1="320.6" y1="434.4" x2="320.6" y2="437" stroke="#1a1a1a" stroke-width="0.9" />
<text x="320.6" y="445.9" font-size="7.5" fill="#262626" stroke="#262626" stroke-width="0.14" text-anchor="middle" textLength="7.8" lengthAdjust="spacingAndGlyphs">0.1</text>
<text x="280.4" y="457.32" font-size="8.4" fill="#262626" stroke="#262626" stroke-width="0.14" text-anchor="middle" textLength="53" lengthAdjust="spacingAndGlyphs">Daunorubicin [uM]</text>
<text x="193.8" y="403.1" font-size="8.6" fill="#3a3a3a" stroke="#3a3a3a" stroke-width="0.14" text-anchor="middle" transform="rotate(-90 193.8 400)" textLength="58.8" lengthAdjust="spacingAndGlyphs">Viability normalized</text>
<text x="204.8" y="403.1" font-size="8.6" fill="#3a3a3a" stroke="#3a3a3a" stroke-width="0.14" text-anchor="middle" transform="rotate(-90 204.8 400)" textLength="30.6" lengthAdjust="spacingAndGlyphs">to no drug</text>
<text x="253.1" y="359.5" font-size="8.2" fill="#222" stroke="#222" stroke-width="0.14" font-style="italic" textLength="27.2" lengthAdjust="spacingAndGlyphs">Ppm1d</text>
<text x="280.6" y="356.82" font-size="5.6" fill="#222" stroke="#222" stroke-width="0.14" font-style="italic" textLength="28" lengthAdjust="spacingAndGlyphs">T476*-fl/+</text>
<polyline points="228.4,374.46 229.26,374.46 230.13,374.46 230.99,374.46 231.85,374.46 232.72,374.46 233.58,374.46 234.44,374.46 235.31,374.46 236.17,374.46 237.03,374.46 237.9,374.46 238.76,374.46 239.62,374.46 240.49,374.46 241.35,374.46 242.21,374.46 243.08,374.46 243.94,374.46 244.8,374.46 245.67,374.46 246.53,374.46 247.39,374.46 248.26,374.46 249.12,374.46 249.98,374.46 250.85,374.46 251.71,374.46 252.57,374.46 253.44,374.46 254.3,374.46 255.16,374.46 256.03,374.46 256.89,374.46 257.75,374.46 258.62,374.46 259.48,374.46 260.34,374.46 261.21,374.46 262.07,374.46 262.93,374.46 263.8,374.46 264.66,374.46 265.52,374.46 266.39,374.46 267.25,374.46 268.11,374.46 268.98,374.46 269.84,374.46 270.7,374.46 271.57,374.46 272.43,374.46 273.29,374.46 274.16,374.46 275.02,374.46 275.88,374.46 276.75,374.46 277.61,374.46 278.47,374.46 279.34,374.47 280.2,374.48 281.06,374.5 281.93,374.53 282.79,374.58 283.65,374.68 284.52,374.83 285.38,375.1 286.24,375.55 287.11,376.32 287.97,377.58 288.83,379.62 289.7,382.79 290.56,387.45 291.42,393.73 292.29,401.3 293.15,409.26 294.01,416.54 294.88,422.39 295.74,426.61 296.6,429.44 297.47,431.23 298.33,432.33 299.19,432.99 300.06,433.39 300.92,433.62 301.78,433.75 302.65,433.83 303.51,433.88 304.37,433.91 305.24,433.92 306.1,433.93 306.96,433.94 307.83,433.94 308.69,433.94 309.55,433.94 310.42,433.94 311.28,433.94 312.14,433.94 313.01,433.94 313.87,433.94 314.73,433.94 315.6,433.94 316.46,433.94 317.32,433.94 318.19,433.94 319.05,433.94 319.91,433.94 320.78,433.94 321.64,433.94 322.5,433.94 323.37,433.94 324.23,433.94 325.09,433.94 325.96,433.94 326.82,433.94 327.68,433.94 328.55,433.94 329.41,433.94 330.27,433.94 331.14,433.94 332,433.94" stroke="#23457a" stroke-width="1.35" fill="none" stroke-linejoin="round" />
<polyline points="228.4,373.23 229.26,373.23 230.13,373.23 230.99,373.23 231.85,373.23 232.72,373.23 233.58,373.23 234.44,373.23 235.31,373.23 236.17,373.23 237.03,373.23 237.9,373.23 238.76,373.23 239.62,373.23 240.49,373.23 241.35,373.23 242.21,373.23 243.08,373.23 243.94,373.23 244.8,373.23 245.67,373.23 246.53,373.23 247.39,373.23 248.26,373.23 249.12,373.23 249.98,373.23 250.85,373.23 251.71,373.23 252.57,373.23 253.44,373.23 254.3,373.23 255.16,373.24 256.03,373.24 256.89,373.24 257.75,373.25 258.62,373.25 259.48,373.26 260.34,373.28 261.21,373.3 262.07,373.32 262.93,373.36 263.8,373.41 264.66,373.48 265.52,373.58 266.39,373.72 267.25,373.91 268.11,374.17 268.98,374.54 269.84,375.04 270.7,375.72 271.57,376.64 272.43,377.88 273.29,379.53 274.16,381.66 275.02,384.38 275.88,387.72 276.75,391.69 277.61,396.21 278.47,401.1 279.34,406.13 280.2,411.02 281.06,415.53 281.93,419.5 282.79,422.83 283.65,425.54 284.52,427.67 285.38,429.3 286.24,430.54 287.11,431.46 287.97,432.14 288.83,432.64 289.7,433 290.56,433.27 291.42,433.46 292.29,433.59 293.15,433.69 294.01,433.76 294.88,433.81 295.74,433.85 296.6,433.88 297.47,433.89 298.33,433.91 299.19,433.92 300.06,433.93 300.92,433.93 301.78,433.93 302.65,433.94 303.51,433.94 304.37,433.94 305.24,433.94 306.1,433.94 306.96,433.94 307.83,433.94 308.69,433.94 309.55,433.94 310.42,433.94 311.28,433.94 312.14,433.94 313.01,433.94 313.87,433.94 314.73,433.94 315.6,433.94 316.46,433.94 317.32,433.94 318.19,433.94 319.05,433.94 319.91,433.94 320.78,433.94 321.64,433.94 322.5,433.94 323.37,433.94 324.23,433.94 325.09,433.94 325.96,433.94 326.82,433.94 327.68,433.94 328.55,433.94 329.41,433.94 330.27,433.94 331.14,433.94 332,433.94" stroke="#4fa64f" stroke-width="1.35" fill="none" stroke-linejoin="round" />
<rect x="226.98" y="376.58" width="2.83" height="2.83" fill="#1d3557"/>
<circle cx="259.4" cy="382.2" r="1.42" fill="#1d3557"/>
<line x1="267.9" y1="369.5" x2="267.9" y2="375.9" stroke="#1d3557" stroke-width="0.7" />
<line x1="266.6" y1="369.5" x2="269.2" y2="369.5" stroke="#1d3557" stroke-width="0.7" />
<line x1="266.6" y1="375.9" x2="269.2" y2="375.9" stroke="#1d3557" stroke-width="0.7" />
<circle cx="267.9" cy="372.7" r="1.42" fill="#1d3557"/>
<line x1="276.8" y1="365.3" x2="276.8" y2="371.7" stroke="#1d3557" stroke-width="0.7" />
<line x1="275.5" y1="365.3" x2="278.1" y2="365.3" stroke="#1d3557" stroke-width="0.7" />
<line x1="275.5" y1="371.7" x2="278.1" y2="371.7" stroke="#1d3557" stroke-width="0.7" />
<circle cx="276.8" cy="368.5" r="1.42" fill="#1d3557"/>
<circle cx="286.3" cy="376.9" r="1.42" fill="#1d3557"/>
<circle cx="294.8" cy="422.4" r="1.42" fill="#1d3557"/>
<circle cx="303.2" cy="431.9" r="1.42" fill="#1d3557"/>
<circle cx="312" cy="433" r="1.42" fill="#1d3557"/>
<circle cx="320.5" cy="433.3" r="1.42" fill="#1d3557"/>
<circle cx="329.5" cy="433.4" r="1.42" fill="#1d3557"/>
<line x1="259.4" y1="370.5" x2="259.4" y2="378.1" stroke="#4fa64f" stroke-width="0.7" />
<line x1="258.1" y1="370.5" x2="260.7" y2="370.5" stroke="#4fa64f" stroke-width="0.7" />
<line x1="258.1" y1="378.1" x2="260.7" y2="378.1" stroke="#4fa64f" stroke-width="0.7" />
<circle cx="259.4" cy="374.3" r="1.3" fill="#4fa64f"/>
<line x1="267.9" y1="370.3" x2="267.9" y2="376.7" stroke="#4fa64f" stroke-width="0.7" />
<line x1="266.6" y1="370.3" x2="269.2" y2="370.3" stroke="#4fa64f" stroke-width="0.7" />
<line x1="266.6" y1="376.7" x2="269.2" y2="376.7" stroke="#4fa64f" stroke-width="0.7" />
<circle cx="267.9" cy="373.5" r="1.3" fill="#4fa64f"/>
<circle cx="276.8" cy="394.3" r="1.3" fill="#4fa64f"/>
<circle cx="285.7" cy="427.3" r="1.3" fill="#4fa64f"/>
<circle cx="294.1" cy="432" r="1.3" fill="#4fa64f"/>
<text x="232" y="421.25" font-size="6.8" fill="#34507e" stroke="#34507e" stroke-width="0.08" textLength="20.6" lengthAdjust="spacingAndGlyphs">No GSK</text>
<text x="232" y="429.85" font-size="6.8" fill="#5aaa5a" stroke="#5aaa5a" stroke-width="0.08" textLength="26.2" lengthAdjust="spacingAndGlyphs">GSK 1 uM</text>
<text x="283.4" y="407.3" font-size="6.4" fill="#2a2a2a" stroke="#2a2a2a" stroke-width="0.14" text-anchor="middle" textLength="2.8" lengthAdjust="spacingAndGlyphs">*</text>
<text x="286.2" y="407.3" font-size="6.4" fill="#2a2a2a" stroke="#2a2a2a" stroke-width="0.14" text-anchor="middle" textLength="2.8" lengthAdjust="spacingAndGlyphs">*</text>
<line x1="280" y1="407" x2="291.2" y2="407" stroke="#2a2a2a" stroke-width="0.95" />
<line x1="406.9" y1="365.5" x2="406.9" y2="435.3" stroke="#1a1a1a" stroke-width="1.1" />
<line x1="404.3" y1="434.5" x2="406.9" y2="434.5" stroke="#1a1a1a" stroke-width="0.9" />
<line x1="405.3" y1="428.93" x2="406.9" y2="428.93" stroke="#1a1a1a" stroke-width="0.7" />
<line x1="405.3" y1="423.36" x2="406.9" y2="423.36" stroke="#1a1a1a" stroke-width="0.7" />
<line x1="405.3" y1="417.79" x2="406.9" y2="417.79" stroke="#1a1a1a" stroke-width="0.7" />
<line x1="405.3" y1="412.22" x2="406.9" y2="412.22" stroke="#1a1a1a" stroke-width="0.7" />
<line x1="404.3" y1="406.65" x2="406.9" y2="406.65" stroke="#1a1a1a" stroke-width="0.9" />
<line x1="405.3" y1="401.08" x2="406.9" y2="401.08" stroke="#1a1a1a" stroke-width="0.7" />
<line x1="405.3" y1="395.51" x2="406.9" y2="395.51" stroke="#1a1a1a" stroke-width="0.7" />
<line x1="405.3" y1="389.94" x2="406.9" y2="389.94" stroke="#1a1a1a" stroke-width="0.7" />
<line x1="405.3" y1="384.37" x2="406.9" y2="384.37" stroke="#1a1a1a" stroke-width="0.7" />
<line x1="404.3" y1="378.8" x2="406.9" y2="378.8" stroke="#1a1a1a" stroke-width="0.9" />
<line x1="405.3" y1="373.23" x2="406.9" y2="373.23" stroke="#1a1a1a" stroke-width="0.7" />
<line x1="405.3" y1="367.66" x2="406.9" y2="367.66" stroke="#1a1a1a" stroke-width="0.7" />
<text x="401.3" y="437.2" font-size="7.5" fill="#262626" stroke="#262626" stroke-width="0.14" text-anchor="end" textLength="3.13" lengthAdjust="spacingAndGlyphs">0</text>
<text x="401.3" y="409.35" font-size="7.5" fill="#262626" stroke="#262626" stroke-width="0.14" text-anchor="end" textLength="6.27" lengthAdjust="spacingAndGlyphs">50</text>
<text x="401.3" y="381.5" font-size="7.5" fill="#262626" stroke="#262626" stroke-width="0.14" text-anchor="end" textLength="9.4" lengthAdjust="spacingAndGlyphs">100</text>
<line x1="404.3" y1="434.7" x2="511.6" y2="434.7" stroke="#1a1a1a" stroke-width="1.15" />
<line x1="407.2" y1="434.7" x2="407.2" y2="437.3" stroke="#1a1a1a" stroke-width="0.9" />
<text x="407.2" y="445.9" font-size="7.5" fill="#262626" stroke="#262626" stroke-width="0.14" text-anchor="middle" textLength="3.1" lengthAdjust="spacingAndGlyphs">0</text>
<line x1="438.3" y1="434.7" x2="438.3" y2="437.3" stroke="#1a1a1a" stroke-width="0.9" />
<text x="438.3" y="445.9" font-size="7.5" fill="#262626" stroke="#262626" stroke-width="0.14" text-anchor="middle" textLength="14.6" lengthAdjust="spacingAndGlyphs">0.001</text>
<line x1="469.2" y1="434.7" x2="469.2" y2="437.3" stroke="#1a1a1a" stroke-width="0.9" />
<text x="469.2" y="445.9" font-size="7.5" fill="#262626" stroke="#262626" stroke-width="0.14" text-anchor="middle" textLength="11.2" lengthAdjust="spacingAndGlyphs">0.01</text>
<line x1="499.6" y1="434.7" x2="499.6" y2="437.3" stroke="#1a1a1a" stroke-width="0.9" />
<text x="499.6" y="445.9" font-size="7.5" fill="#262626" stroke="#262626" stroke-width="0.14" text-anchor="middle" textLength="7.8" lengthAdjust="spacingAndGlyphs">0.1</text>
<text x="460.2" y="457.32" font-size="8.4" fill="#262626" stroke="#262626" stroke-width="0.14" text-anchor="middle" textLength="56.3" lengthAdjust="spacingAndGlyphs">Daunorubicin [uM]</text>
<text x="373" y="403.1" font-size="8.6" fill="#3a3a3a" stroke="#3a3a3a" stroke-width="0.14" text-anchor="middle" transform="rotate(-90 373 400)" textLength="58.8" lengthAdjust="spacingAndGlyphs">Viability normalized</text>
<text x="384.5" y="403.1" font-size="8.6" fill="#3a3a3a" stroke="#3a3a3a" stroke-width="0.14" text-anchor="middle" transform="rotate(-90 384.5 400)" textLength="30.6" lengthAdjust="spacingAndGlyphs">to no drug</text>
<text x="441.9" y="359.5" font-size="8.2" fill="#222" stroke="#222" stroke-width="0.14" font-style="italic" textLength="27.2" lengthAdjust="spacingAndGlyphs">Ppm1d</text>
<text x="469.4" y="356.82" font-size="5.6" fill="#222" stroke="#222" stroke-width="0.14" font-style="italic" textLength="9" lengthAdjust="spacingAndGlyphs">fl/fl</text>
<polyline points="406.9,377.13 407.76,377.13 408.63,377.13 409.49,377.13 410.35,377.13 411.22,377.13 412.08,377.13 412.94,377.13 413.81,377.13 414.67,377.13 415.53,377.13 416.4,377.13 417.26,377.13 418.12,377.13 418.99,377.13 419.85,377.13 420.71,377.13 421.58,377.13 422.44,377.13 423.3,377.13 424.17,377.13 425.03,377.13 425.89,377.13 426.76,377.13 427.62,377.13 428.48,377.13 429.35,377.13 430.21,377.13 431.07,377.13 431.94,377.13 432.8,377.13 433.66,377.13 434.53,377.13 435.39,377.13 436.25,377.13 437.12,377.13 437.98,377.13 438.84,377.13 439.71,377.13 440.57,377.13 441.43,377.13 442.3,377.13 443.16,377.13 444.02,377.13 444.89,377.13 445.75,377.13 446.61,377.13 447.48,377.13 448.34,377.13 449.2,377.13 450.07,377.13 450.93,377.13 451.79,377.13 452.66,377.13 453.52,377.13 454.38,377.13 455.25,377.13 456.11,377.13 456.97,377.13 457.84,377.13 458.7,377.13 459.56,377.14 460.43,377.18 461.29,377.32 462.15,377.94 463.02,380.38 463.88,388.73 464.74,406.71 465.61,423.9 466.47,431.38 467.33,433.52 468.2,434.05 469.06,434.18 469.92,434.21 470.79,434.22 471.65,434.22 472.51,434.22 473.38,434.22 474.24,434.22 475.1,434.22 475.97,434.22 476.83,434.22 477.69,434.22 478.56,434.22 479.42,434.22 480.28,434.22 481.15,434.22 482.01,434.22 482.87,434.22 483.74,434.22 484.6,434.22 485.46,434.22 486.33,434.22 487.19,434.22 488.05,434.22 488.92,434.22 489.78,434.22 490.64,434.22 491.51,434.22 492.37,434.22 493.23,434.22 494.1,434.22 494.96,434.22 495.82,434.22 496.69,434.22 497.55,434.22 498.41,434.22 499.28,434.22 500.14,434.22 501,434.22 501.87,434.22 502.73,434.22 503.59,434.22 504.46,434.22 505.32,434.22 506.18,434.22 507.05,434.22 507.91,434.22 508.77,434.22 509.64,434.22 510.5,434.22" stroke="#23457a" stroke-width="1.35" fill="none" stroke-linejoin="round" />
<polyline points="406.9,377.13 407.76,377.13 408.63,377.13 409.49,377.13 410.35,377.13 411.22,377.13 412.08,377.13 412.94,377.13 413.81,377.13 414.67,377.13 415.53,377.13 416.4,377.13 417.26,377.13 418.12,377.13 418.99,377.13 419.85,377.13 420.71,377.13 421.58,377.13 422.44,377.13 423.3,377.13 424.17,377.13 425.03,377.13 425.89,377.13 426.76,377.13 427.62,377.13 428.48,377.13 429.35,377.13 430.21,377.13 431.07,377.13 431.94,377.13 432.8,377.13 433.66,377.13 434.53,377.13 435.39,377.13 436.25,377.13 437.12,377.13 437.98,377.13 438.84,377.13 439.71,377.13 440.57,377.13 441.43,377.13 442.3,377.13 443.16,377.13 444.02,377.13 444.89,377.13 445.75,377.13 446.61,377.13 447.48,377.14 448.34,377.14 449.2,377.16 450.07,377.17 450.93,377.21 451.79,377.26 452.66,377.36 453.52,377.52 454.38,377.79 455.25,378.25 456.11,379.03 456.97,380.31 457.84,382.38 458.7,385.58 459.56,390.24 460.43,396.44 461.29,403.8 462.15,411.42 463.02,418.28 463.88,423.7 464.74,427.58 465.61,430.15 466.47,431.78 467.33,432.77 468.2,433.37 469.06,433.72 469.92,433.93 470.79,434.05 471.65,434.12 472.51,434.16 473.38,434.19 474.24,434.2 475.1,434.21 475.97,434.21 476.83,434.22 477.69,434.22 478.56,434.22 479.42,434.22 480.28,434.22 481.15,434.22 482.01,434.22 482.87,434.22 483.74,434.22 484.6,434.22 485.46,434.22 486.33,434.22 487.19,434.22 488.05,434.22 488.92,434.22 489.78,434.22 490.64,434.22 491.51,434.22 492.37,434.22 493.23,434.22 494.1,434.22 494.96,434.22 495.82,434.22 496.69,434.22 497.55,434.22 498.41,434.22 499.28,434.22 500.14,434.22 501,434.22 501.87,434.22 502.73,434.22 503.59,434.22 504.46,434.22 505.32,434.22 506.18,434.22 507.05,434.22 507.91,434.22 508.77,434.22 509.64,434.22 510.5,434.22" stroke="#4fa64f" stroke-width="1.35" fill="none" stroke-linejoin="round" />
<circle cx="407.5" cy="378" r="1.42" fill="#1d3557"/>
<line x1="437.8" y1="375.4" x2="437.8" y2="380.4" stroke="#1d3557" stroke-width="0.7" />
<line x1="436.5" y1="375.4" x2="439.1" y2="375.4" stroke="#1d3557" stroke-width="0.7" />
<line x1="436.5" y1="380.4" x2="439.1" y2="380.4" stroke="#1d3557" stroke-width="0.7" />
<circle cx="437.8" cy="377.9" r="1.42" fill="#1d3557"/>
<circle cx="447.4" cy="374.4" r="1.42" fill="#1d3557"/>
<line x1="455.8" y1="371.6" x2="455.8" y2="376.8" stroke="#1d3557" stroke-width="0.7" />
<line x1="454.5" y1="371.6" x2="457.1" y2="371.6" stroke="#1d3557" stroke-width="0.7" />
<line x1="454.5" y1="376.8" x2="457.1" y2="376.8" stroke="#1d3557" stroke-width="0.7" />
<circle cx="455.8" cy="374.2" r="1.42" fill="#1d3557"/>
<circle cx="464.7" cy="413.8" r="1.42" fill="#1d3557"/>
<circle cx="473.4" cy="431.8" r="1.42" fill="#1d3557"/>
<circle cx="482.3" cy="433" r="1.42" fill="#1d3557"/>
<circle cx="490.7" cy="433.2" r="1.42" fill="#1d3557"/>
<circle cx="499.6" cy="433.3" r="1.42" fill="#1d3557"/>
<circle cx="508.1" cy="433.4" r="1.42" fill="#1d3557"/>
<circle cx="407.5" cy="377" r="1.3" fill="#4fa64f"/>
<circle cx="437.8" cy="379.5" r="1.3" fill="#4fa64f"/>
<line x1="447.4" y1="369.3" x2="447.4" y2="373.7" stroke="#4fa64f" stroke-width="0.7" />
<line x1="446.1" y1="369.3" x2="448.7" y2="369.3" stroke="#4fa64f" stroke-width="0.7" />
<line x1="446.1" y1="373.7" x2="448.7" y2="373.7" stroke="#4fa64f" stroke-width="0.7" />
<circle cx="447.4" cy="371.5" r="1.3" fill="#4fa64f"/>
<circle cx="455.8" cy="382.1" r="1.3" fill="#4fa64f"/>
<circle cx="464.7" cy="423.3" r="1.3" fill="#4fa64f"/>
<circle cx="469" cy="433" r="1.3" fill="#4fa64f"/>
<text x="411.2" y="421.15" font-size="6.8" fill="#34507e" stroke="#34507e" stroke-width="0.08" textLength="20.6" lengthAdjust="spacingAndGlyphs">No GSK</text>
<text x="411.2" y="429.65" font-size="6.8" fill="#5aaa5a" stroke="#5aaa5a" stroke-width="0.08" textLength="26.2" lengthAdjust="spacingAndGlyphs">GSK 1 uM</text>
<text x="471.4" y="409.35" font-size="6.8" fill="#333" stroke="#333" stroke-width="0.14" text-anchor="middle" textLength="8.9" lengthAdjust="spacingAndGlyphs">n.s.</text>
<line x1="56.6" y1="474" x2="56.6" y2="541.1" stroke="#1a1a1a" stroke-width="1.1" />
<line x1="54" y1="541.1" x2="56.6" y2="541.1" stroke="#1a1a1a" stroke-width="0.9" />
<line x1="55" y1="535.69" x2="56.6" y2="535.69" stroke="#1a1a1a" stroke-width="0.7" />
<line x1="55" y1="530.28" x2="56.6" y2="530.28" stroke="#1a1a1a" stroke-width="0.7" />
<line x1="55" y1="524.87" x2="56.6" y2="524.87" stroke="#1a1a1a" stroke-width="0.7" />
<line x1="55" y1="519.46" x2="56.6" y2="519.46" stroke="#1a1a1a" stroke-width="0.7" />
<line x1="54" y1="514.05" x2="56.6" y2="514.05" stroke="#1a1a1a" stroke-width="0.9" />
<line x1="55" y1="508.64" x2="56.6" y2="508.64" stroke="#1a1a1a" stroke-width="0.7" />
<line x1="55" y1="503.23" x2="56.6" y2="503.23" stroke="#1a1a1a" stroke-width="0.7" />
<line x1="55" y1="497.82" x2="56.6" y2="497.82" stroke="#1a1a1a" stroke-width="0.7" />
<line x1="55" y1="492.41" x2="56.6" y2="492.41" stroke="#1a1a1a" stroke-width="0.7" />
<line x1="54" y1="487" x2="56.6" y2="487" stroke="#1a1a1a" stroke-width="0.9" />
<line x1="55" y1="481.59" x2="56.6" y2="481.59" stroke="#1a1a1a" stroke-width="0.7" />
<line x1="55" y1="476.18" x2="56.6" y2="476.18" stroke="#1a1a1a" stroke-width="0.7" />
<text x="50.6" y="543.8" font-size="7.5" fill="#262626" stroke="#262626" stroke-width="0.14" text-anchor="end" textLength="3.13" lengthAdjust="spacingAndGlyphs">0</text>
<text x="50.6" y="516.75" font-size="7.5" fill="#262626" stroke="#262626" stroke-width="0.14" text-anchor="end" textLength="6.27" lengthAdjust="spacingAndGlyphs">50</text>
<text x="50.6" y="489.7" font-size="7.5" fill="#262626" stroke="#262626" stroke-width="0.14" text-anchor="end" textLength="9.4" lengthAdjust="spacingAndGlyphs">100</text>
<line x1="54" y1="540.5" x2="162.6" y2="540.5" stroke="#1a1a1a" stroke-width="1.15" />
<line x1="92.7" y1="540.5" x2="92.7" y2="543.1" stroke="#1a1a1a" stroke-width="0.9" />
<text x="92.7" y="554" font-size="7.5" fill="#262626" stroke="#262626" stroke-width="0.14" text-anchor="middle" textLength="9.4" lengthAdjust="spacingAndGlyphs">100</text>
<line x1="145.6" y1="540.5" x2="145.6" y2="543.1" stroke="#1a1a1a" stroke-width="0.9" />
<text x="145.6" y="554" font-size="7.5" fill="#262626" stroke="#262626" stroke-width="0.14" text-anchor="middle" textLength="12.6" lengthAdjust="spacingAndGlyphs">1000</text>
<text x="109.4" y="564.32" font-size="8.4" fill="#262626" stroke="#262626" stroke-width="0.14" text-anchor="middle" textLength="48.7" lengthAdjust="spacingAndGlyphs">Cytarabine [nM]</text>
<text x="22" y="510.8" font-size="8.6" fill="#3a3a3a" stroke="#3a3a3a" stroke-width="0.14" text-anchor="middle" transform="rotate(-90 22 507.7)" textLength="58.8" lengthAdjust="spacingAndGlyphs">Viability normalized</text>
<text x="33.4" y="510.8" font-size="8.6" fill="#3a3a3a" stroke="#3a3a3a" stroke-width="0.14" text-anchor="middle" transform="rotate(-90 33.4 507.7)" textLength="30.6" lengthAdjust="spacingAndGlyphs">to no drug</text>
<polyline points="56.6,488.08 57.48,488.08 58.37,488.08 59.25,488.08 60.13,488.08 61.02,488.08 61.9,488.08 62.78,488.08 63.67,488.08 64.55,488.08 65.43,488.08 66.32,488.08 67.2,488.08 68.08,488.08 68.97,488.08 69.85,488.08 70.73,488.08 71.62,488.09 72.5,488.09 73.38,488.09 74.27,488.09 75.15,488.09 76.03,488.09 76.92,488.09 77.8,488.1 78.68,488.1 79.57,488.1 80.45,488.11 81.33,488.11 82.22,488.12 83.1,488.13 83.98,488.14 84.87,488.15 85.75,488.17 86.63,488.18 87.52,488.21 88.4,488.24 89.28,488.27 90.17,488.31 91.05,488.37 91.93,488.43 92.82,488.51 93.7,488.61 94.58,488.72 95.47,488.87 96.35,489.04 97.23,489.26 98.12,489.52 99,489.84 99.88,490.22 100.77,490.68 101.65,491.24 102.53,491.9 103.42,492.7 104.3,493.64 105.18,494.74 106.07,496.03 106.95,497.51 107.83,499.19 108.72,501.09 109.6,503.19 110.48,505.47 111.37,507.92 112.25,510.48 113.13,513.11 114.02,515.76 114.9,518.38 115.78,520.9 116.67,523.28 117.55,525.5 118.43,527.52 119.32,529.33 120.2,530.93 121.08,532.34 121.97,533.55 122.85,534.58 123.73,535.46 124.62,536.2 125.5,536.82 126.38,537.34 127.27,537.77 128.15,538.13 129.03,538.42 129.92,538.66 130.8,538.86 131.68,539.02 132.57,539.16 133.45,539.26 134.33,539.35 135.22,539.43 136.1,539.49 136.98,539.53 137.87,539.57 138.75,539.61 139.63,539.63 140.52,539.65 141.4,539.67 142.28,539.69 143.17,539.7 144.05,539.71 144.93,539.71 145.82,539.72 146.7,539.73 147.58,539.73 148.47,539.73 149.35,539.74 150.23,539.74 151.12,539.74 152,539.74 152.88,539.74 153.77,539.74 154.65,539.74 155.53,539.74 156.42,539.75 157.3,539.75 158.18,539.75 159.07,539.75 159.95,539.75 160.83,539.75 161.72,539.75 162.6,539.75" stroke="#23457a" stroke-width="1.35" fill="none" stroke-linejoin="round" />
<polyline points="56.6,487.82 57.48,487.82 58.37,487.82 59.25,487.82 60.13,487.82 61.02,487.83 61.9,487.83 62.78,487.83 63.67,487.84 64.55,487.84 65.43,487.84 66.32,487.85 67.2,487.86 68.08,487.87 68.97,487.88 69.85,487.89 70.73,487.9 71.62,487.92 72.5,487.94 73.38,487.96 74.27,487.99 75.15,488.02 76.03,488.06 76.92,488.1 77.8,488.15 78.68,488.21 79.57,488.29 80.45,488.37 81.33,488.47 82.22,488.59 83.1,488.73 83.98,488.89 84.87,489.08 85.75,489.31 86.63,489.57 87.52,489.87 88.4,490.23 89.28,490.65 90.17,491.13 91.05,491.68 91.93,492.32 92.82,493.06 93.7,493.9 94.58,494.85 95.47,495.93 96.35,497.14 97.23,498.48 98.12,499.97 99,501.59 99.88,503.34 100.77,505.21 101.65,507.19 102.53,509.25 103.42,511.38 104.3,513.53 105.18,515.7 106.07,517.83 106.95,519.91 107.83,521.91 108.72,523.81 109.6,525.59 110.48,527.24 111.37,528.75 112.25,530.13 113.13,531.36 114.02,532.47 114.9,533.45 115.78,534.32 116.67,535.08 117.55,535.74 118.43,536.31 119.32,536.81 120.2,537.24 121.08,537.61 121.97,537.93 122.85,538.2 123.73,538.43 124.62,538.63 125.5,538.8 126.38,538.94 127.27,539.06 128.15,539.17 129.03,539.25 129.92,539.33 130.8,539.39 131.68,539.45 132.57,539.49 133.45,539.53 134.33,539.57 135.22,539.59 136.1,539.62 136.98,539.64 137.87,539.65 138.75,539.67 139.63,539.68 140.52,539.69 141.4,539.7 142.28,539.71 143.17,539.71 144.05,539.72 144.93,539.72 145.82,539.73 146.7,539.73 147.58,539.73 148.47,539.73 149.35,539.74 150.23,539.74 151.12,539.74 152,539.74 152.88,539.74 153.77,539.74 154.65,539.74 155.53,539.74 156.42,539.74 157.3,539.75 158.18,539.75 159.07,539.75 159.95,539.75 160.83,539.75 161.72,539.75 162.6,539.75" stroke="#4fa64f" stroke-width="1.35" fill="none" stroke-linejoin="round" />
<rect x="55.58" y="486.58" width="2.83" height="2.83" fill="#1d3557"/>
<rect x="65.68" y="489.78" width="2.83" height="2.83" fill="#1d3557"/>
<line x1="77.7" y1="485.7" x2="77.7" y2="488.7" stroke="#1d3557" stroke-width="0.7" />
<line x1="76.4" y1="485.7" x2="79" y2="485.7" stroke="#1d3557" stroke-width="0.7" />
<line x1="76.4" y1="488.7" x2="79" y2="488.7" stroke="#1d3557" stroke-width="0.7" />
<circle cx="77.7" cy="487.2" r="1.42" fill="#1d3557"/>
<line x1="87.8" y1="484" x2="87.8" y2="489" stroke="#1d3557" stroke-width="0.7" />
<line x1="86.5" y1="484" x2="89.1" y2="484" stroke="#1d3557" stroke-width="0.7" />
<line x1="86.5" y1="489" x2="89.1" y2="489" stroke="#1d3557" stroke-width="0.7" />
<circle cx="87.8" cy="486.5" r="1.42" fill="#1d3557"/>
<circle cx="98.4" cy="488" r="1.42" fill="#1d3557"/>
<line x1="109" y1="498.8" x2="109" y2="506.8" stroke="#1d3557" stroke-width="0.7" />
<line x1="107.7" y1="498.8" x2="110.3" y2="498.8" stroke="#1d3557" stroke-width="0.7" />
<line x1="107.7" y1="506.8" x2="110.3" y2="506.8" stroke="#1d3557" stroke-width="0.7" />
<circle cx="109" cy="502.8" r="1.42" fill="#1d3557"/>
<circle cx="120" cy="531.3" r="1.42" fill="#1d3557"/>
<circle cx="130.2" cy="537.7" r="1.42" fill="#1d3557"/>
<circle cx="140.3" cy="538.8" r="1.42" fill="#1d3557"/>
<circle cx="150.3" cy="539" r="1.42" fill="#1d3557"/>
<circle cx="160.8" cy="538.6" r="1.42" fill="#1d3557"/>
<circle cx="67.1" cy="486.5" r="1.3" fill="#4fa64f"/>
<circle cx="77.7" cy="487.5" r="1.3" fill="#4fa64f"/>
<circle cx="87.8" cy="492.2" r="1.3" fill="#4fa64f"/>
<circle cx="98.4" cy="503.4" r="1.3" fill="#4fa64f"/>
<circle cx="109" cy="526.1" r="1.3" fill="#4fa64f"/>
<circle cx="120" cy="537.3" r="1.3" fill="#4fa64f"/>
<text x="59.8" y="528.45" font-size="6.8" fill="#34507e" stroke="#34507e" stroke-width="0.08" textLength="20.6" lengthAdjust="spacingAndGlyphs">No GSK</text>
<text x="59.8" y="536.85" font-size="6.8" fill="#5aaa5a" stroke="#5aaa5a" stroke-width="0.08" textLength="26.2" lengthAdjust="spacingAndGlyphs">GSK 1 uM</text>
<text x="106.6" y="513.9" font-size="6.4" fill="#2a2a2a" stroke="#2a2a2a" stroke-width="0.14" text-anchor="middle" textLength="2.8" lengthAdjust="spacingAndGlyphs">*</text>
<text x="109.4" y="513.9" font-size="6.4" fill="#2a2a2a" stroke="#2a2a2a" stroke-width="0.14" text-anchor="middle" textLength="2.8" lengthAdjust="spacingAndGlyphs">*</text>
<line x1="103.7" y1="514" x2="112.2" y2="514" stroke="#2a2a2a" stroke-width="0.95" />
<line x1="228.4" y1="474" x2="228.4" y2="541.1" stroke="#1a1a1a" stroke-width="1.1" />
<line x1="225.8" y1="541" x2="228.4" y2="541" stroke="#1a1a1a" stroke-width="0.9" />
<line x1="226.8" y1="535.5" x2="228.4" y2="535.5" stroke="#1a1a1a" stroke-width="0.7" />
<line x1="226.8" y1="530" x2="228.4" y2="530" stroke="#1a1a1a" stroke-width="0.7" />
<line x1="226.8" y1="524.5" x2="228.4" y2="524.5" stroke="#1a1a1a" stroke-width="0.7" />
<line x1="226.8" y1="519" x2="228.4" y2="519" stroke="#1a1a1a" stroke-width="0.7" />
<line x1="225.8" y1="513.5" x2="228.4" y2="513.5" stroke="#1a1a1a" stroke-width="0.9" />
<line x1="226.8" y1="508" x2="228.4" y2="508" stroke="#1a1a1a" stroke-width="0.7" />
<line x1="226.8" y1="502.5" x2="228.4" y2="502.5" stroke="#1a1a1a" stroke-width="0.7" />
<line x1="226.8" y1="497" x2="228.4" y2="497" stroke="#1a1a1a" stroke-width="0.7" />
<line x1="226.8" y1="491.5" x2="228.4" y2="491.5" stroke="#1a1a1a" stroke-width="0.7" />
<line x1="225.8" y1="486" x2="228.4" y2="486" stroke="#1a1a1a" stroke-width="0.9" />
<line x1="226.8" y1="480.5" x2="228.4" y2="480.5" stroke="#1a1a1a" stroke-width="0.7" />
<line x1="226.8" y1="475" x2="228.4" y2="475" stroke="#1a1a1a" stroke-width="0.7" />
<text x="222.6" y="543.7" font-size="7.5" fill="#262626" stroke="#262626" stroke-width="0.14" text-anchor="end" textLength="3.13" lengthAdjust="spacingAndGlyphs">0</text>
<text x="222.6" y="516.2" font-size="7.5" fill="#262626" stroke="#262626" stroke-width="0.14" text-anchor="end" textLength="6.27" lengthAdjust="spacingAndGlyphs">50</text>
<text x="222.6" y="488.7" font-size="7.5" fill="#262626" stroke="#262626" stroke-width="0.14" text-anchor="end" textLength="9.4" lengthAdjust="spacingAndGlyphs">100</text>
<line x1="225.8" y1="540.5" x2="334.4" y2="540.5" stroke="#1a1a1a" stroke-width="1.15" />
<line x1="265" y1="540.5" x2="265" y2="543.1" stroke="#1a1a1a" stroke-width="0.9" />
<text x="265" y="554" font-size="7.5" fill="#262626" stroke="#262626" stroke-width="0.14" text-anchor="middle" textLength="9.4" lengthAdjust="spacingAndGlyphs">100</text>
<line x1="317.6" y1="540.5" x2="317.6" y2="543.1" stroke="#1a1a1a" stroke-width="0.9" />
<text x="317.6" y="554" font-size="7.5" fill="#262626" stroke="#262626" stroke-width="0.14" text-anchor="middle" textLength="12.6" lengthAdjust="spacingAndGlyphs">1000</text>
<text x="281.2" y="563.42" font-size="8.4" fill="#262626" stroke="#262626" stroke-width="0.14" text-anchor="middle" textLength="45.3" lengthAdjust="spacingAndGlyphs">Cytarabine [nM]</text>
<text x="193.8" y="510.8" font-size="8.6" fill="#3a3a3a" stroke="#3a3a3a" stroke-width="0.14" text-anchor="middle" transform="rotate(-90 193.8 507.7)" textLength="58.8" lengthAdjust="spacingAndGlyphs">Viability normalized</text>
<text x="204.8" y="510.8" font-size="8.6" fill="#3a3a3a" stroke="#3a3a3a" stroke-width="0.14" text-anchor="middle" transform="rotate(-90 204.8 507.7)" textLength="30.6" lengthAdjust="spacingAndGlyphs">to no drug</text>
<polyline points="228.4,485.18 229.28,485.18 230.17,485.18 231.05,485.18 231.93,485.18 232.82,485.18 233.7,485.18 234.58,485.18 235.47,485.18 236.35,485.18 237.23,485.18 238.12,485.18 239,485.18 239.88,485.18 240.77,485.18 241.65,485.18 242.53,485.18 243.42,485.18 244.3,485.18 245.18,485.18 246.07,485.18 246.95,485.18 247.83,485.19 248.72,485.19 249.6,485.19 250.48,485.2 251.37,485.2 252.25,485.21 253.13,485.22 254.02,485.23 254.9,485.25 255.78,485.26 256.67,485.29 257.55,485.31 258.43,485.35 259.32,485.39 260.2,485.44 261.08,485.51 261.97,485.59 262.85,485.69 263.73,485.82 264.62,485.97 265.5,486.17 266.38,486.41 267.27,486.7 268.15,487.07 269.03,487.52 269.92,488.06 270.8,488.73 271.68,489.54 272.57,490.51 273.45,491.67 274.33,493.04 275.22,494.64 276.1,496.49 276.98,498.59 277.87,500.94 278.75,503.51 279.63,506.27 280.52,509.16 281.4,512.12 282.28,515.09 283.17,517.98 284.05,520.74 284.93,523.31 285.82,525.66 286.7,527.76 287.58,529.61 288.47,531.21 289.35,532.58 290.23,533.74 291.12,534.71 292,535.52 292.88,536.19 293.77,536.73 294.65,537.18 295.53,537.55 296.42,537.84 297.3,538.08 298.18,538.28 299.07,538.43 299.95,538.56 300.83,538.66 301.72,538.74 302.6,538.81 303.48,538.86 304.37,538.9 305.25,538.94 306.13,538.96 307.02,538.99 307.9,539 308.78,539.02 309.67,539.03 310.55,539.04 311.43,539.05 312.32,539.05 313.2,539.06 314.08,539.06 314.97,539.06 315.85,539.07 316.73,539.07 317.62,539.07 318.5,539.07 319.38,539.07 320.27,539.07 321.15,539.07 322.03,539.07 322.92,539.07 323.8,539.07 324.68,539.07 325.57,539.07 326.45,539.07 327.33,539.07 328.22,539.07 329.1,539.07 329.98,539.07 330.87,539.07 331.75,539.07 332.63,539.07 333.52,539.07 334.4,539.07" stroke="#23457a" stroke-width="1.35" fill="none" stroke-linejoin="round" />
<polyline points="228.4,483.25 229.28,483.25 230.17,483.25 231.05,483.25 231.93,483.26 232.82,483.26 233.7,483.26 234.58,483.26 235.47,483.26 236.35,483.26 237.23,483.27 238.12,483.27 239,483.27 239.88,483.28 240.77,483.28 241.65,483.29 242.53,483.3 243.42,483.31 244.3,483.33 245.18,483.34 246.07,483.36 246.95,483.38 247.83,483.41 248.72,483.45 249.6,483.49 250.48,483.54 251.37,483.6 252.25,483.67 253.13,483.76 254.02,483.87 254.9,483.99 255.78,484.15 256.67,484.34 257.55,484.56 258.43,484.83 259.32,485.15 260.2,485.54 261.08,486 261.97,486.55 262.85,487.2 263.73,487.96 264.62,488.86 265.5,489.9 266.38,491.11 267.27,492.5 268.15,494.08 269.03,495.86 269.92,497.83 270.8,499.99 271.68,502.32 272.57,504.8 273.45,507.39 274.33,510.05 275.22,512.73 276.1,515.38 276.98,517.95 277.87,520.41 278.75,522.71 279.63,524.84 280.52,526.78 281.4,528.52 282.28,530.07 283.17,531.43 284.05,532.61 284.93,533.63 285.82,534.5 286.7,535.25 287.58,535.88 288.47,536.41 289.35,536.86 290.23,537.23 291.12,537.54 292,537.81 292.88,538.02 293.77,538.2 294.65,538.35 295.53,538.48 296.42,538.58 297.3,538.67 298.18,538.74 299.07,538.8 299.95,538.85 300.83,538.89 301.72,538.92 302.6,538.95 303.48,538.97 304.37,538.99 305.25,539 306.13,539.01 307.02,539.03 307.9,539.03 308.78,539.04 309.67,539.05 310.55,539.05 311.43,539.06 312.32,539.06 313.2,539.06 314.08,539.06 314.97,539.07 315.85,539.07 316.73,539.07 317.62,539.07 318.5,539.07 319.38,539.07 320.27,539.07 321.15,539.07 322.03,539.07 322.92,539.07 323.8,539.07 324.68,539.07 325.57,539.07 326.45,539.07 327.33,539.07 328.22,539.07 329.1,539.07 329.98,539.07 330.87,539.07 331.75,539.07 332.63,539.07 333.52,539.07 334.4,539.07" stroke="#4fa64f" stroke-width="1.35" fill="none" stroke-linejoin="round" />
<rect x="227.38" y="483.58" width="2.83" height="2.83" fill="#1d3557"/>
<circle cx="239.1" cy="491.2" r="1.42" fill="#1d3557"/>
<line x1="249.3" y1="482.2" x2="249.3" y2="488.2" stroke="#1d3557" stroke-width="0.7" />
<line x1="248" y1="482.2" x2="250.6" y2="482.2" stroke="#1d3557" stroke-width="0.7" />
<line x1="248" y1="488.2" x2="250.6" y2="488.2" stroke="#1d3557" stroke-width="0.7" />
<circle cx="249.3" cy="485.2" r="1.42" fill="#1d3557"/>
<line x1="259.8" y1="476.5" x2="259.8" y2="482.5" stroke="#1d3557" stroke-width="0.7" />
<line x1="258.5" y1="476.5" x2="261.1" y2="476.5" stroke="#1d3557" stroke-width="0.7" />
<line x1="258.5" y1="482.5" x2="261.1" y2="482.5" stroke="#1d3557" stroke-width="0.7" />
<circle cx="259.8" cy="479.5" r="1.42" fill="#1d3557"/>
<line x1="270.4" y1="476.5" x2="270.4" y2="482.5" stroke="#1d3557" stroke-width="0.7" />
<line x1="269.1" y1="476.5" x2="271.7" y2="476.5" stroke="#1d3557" stroke-width="0.7" />
<line x1="269.1" y1="482.5" x2="271.7" y2="482.5" stroke="#1d3557" stroke-width="0.7" />
<circle cx="270.4" cy="479.5" r="1.42" fill="#1d3557"/>
<line x1="281" y1="505.5" x2="281" y2="511.5" stroke="#1d3557" stroke-width="0.7" />
<line x1="279.7" y1="505.5" x2="282.3" y2="505.5" stroke="#1d3557" stroke-width="0.7" />
<line x1="279.7" y1="511.5" x2="282.3" y2="511.5" stroke="#1d3557" stroke-width="0.7" />
<circle cx="281" cy="508.5" r="1.42" fill="#1d3557"/>
<circle cx="291.6" cy="532.4" r="1.42" fill="#1d3557"/>
<circle cx="301.7" cy="538.8" r="1.42" fill="#1d3557"/>
<circle cx="312.3" cy="538.5" r="1.42" fill="#1d3557"/>
<circle cx="322.9" cy="538.5" r="1.42" fill="#1d3557"/>
<circle cx="332.8" cy="538" r="1.42" fill="#1d3557"/>
<line x1="239.1" y1="475.5" x2="239.1" y2="481.5" stroke="#4fa64f" stroke-width="0.7" />
<line x1="237.8" y1="475.5" x2="240.4" y2="475.5" stroke="#4fa64f" stroke-width="0.7" />
<line x1="237.8" y1="481.5" x2="240.4" y2="481.5" stroke="#4fa64f" stroke-width="0.7" />
<circle cx="239.1" cy="478.5" r="1.3" fill="#4fa64f"/>
<line x1="249.3" y1="476.5" x2="249.3" y2="482.5" stroke="#4fa64f" stroke-width="0.7" />
<line x1="248" y1="476.5" x2="250.6" y2="476.5" stroke="#4fa64f" stroke-width="0.7" />
<line x1="248" y1="482.5" x2="250.6" y2="482.5" stroke="#4fa64f" stroke-width="0.7" />
<circle cx="249.3" cy="479.5" r="1.3" fill="#4fa64f"/>
<circle cx="259.8" cy="487.3" r="1.3" fill="#4fa64f"/>
<circle cx="270.4" cy="501.7" r="1.3" fill="#4fa64f"/>
<circle cx="281" cy="526.7" r="1.3" fill="#4fa64f"/>
<circle cx="291.6" cy="538.1" r="1.3" fill="#4fa64f"/>
<text x="232.2" y="528.65" font-size="6.8" fill="#34507e" stroke="#34507e" stroke-width="0.08" textLength="20.6" lengthAdjust="spacingAndGlyphs">No GSK</text>
<text x="232.2" y="537.25" font-size="6.8" fill="#5aaa5a" stroke="#5aaa5a" stroke-width="0.08" textLength="26.2" lengthAdjust="spacingAndGlyphs">GSK 1 uM</text>
<text x="277.5" y="512.9" font-size="6.4" fill="#2a2a2a" stroke="#2a2a2a" stroke-width="0.14" text-anchor="middle" textLength="2.8" lengthAdjust="spacingAndGlyphs">*</text>
<text x="280.3" y="512.9" font-size="6.4" fill="#2a2a2a" stroke="#2a2a2a" stroke-width="0.14" text-anchor="middle" textLength="2.8" lengthAdjust="spacingAndGlyphs">*</text>
<line x1="275.4" y1="513.6" x2="281.8" y2="513.6" stroke="#2a2a2a" stroke-width="0.95" />
<line x1="407" y1="473.6" x2="407" y2="541.5" stroke="#1a1a1a" stroke-width="1.1" />
<line x1="404.4" y1="541" x2="407" y2="541" stroke="#1a1a1a" stroke-width="0.9" />
<line x1="405.4" y1="535.54" x2="407" y2="535.54" stroke="#1a1a1a" stroke-width="0.7" />
<line x1="405.4" y1="530.08" x2="407" y2="530.08" stroke="#1a1a1a" stroke-width="0.7" />
<line x1="405.4" y1="524.62" x2="407" y2="524.62" stroke="#1a1a1a" stroke-width="0.7" />
<line x1="405.4" y1="519.16" x2="407" y2="519.16" stroke="#1a1a1a" stroke-width="0.7" />
<line x1="404.4" y1="513.7" x2="407" y2="513.7" stroke="#1a1a1a" stroke-width="0.9" />
<line x1="405.4" y1="508.24" x2="407" y2="508.24" stroke="#1a1a1a" stroke-width="0.7" />
<line x1="405.4" y1="502.78" x2="407" y2="502.78" stroke="#1a1a1a" stroke-width="0.7" />
<line x1="405.4" y1="497.32" x2="407" y2="497.32" stroke="#1a1a1a" stroke-width="0.7" />
<line x1="405.4" y1="491.86" x2="407" y2="491.86" stroke="#1a1a1a" stroke-width="0.7" />
<line x1="404.4" y1="486.4" x2="407" y2="486.4" stroke="#1a1a1a" stroke-width="0.9" />
<line x1="405.4" y1="480.94" x2="407" y2="480.94" stroke="#1a1a1a" stroke-width="0.7" />
<line x1="405.4" y1="475.48" x2="407" y2="475.48" stroke="#1a1a1a" stroke-width="0.7" />
<text x="401.5" y="543.7" font-size="7.5" fill="#262626" stroke="#262626" stroke-width="0.14" text-anchor="end" textLength="3.13" lengthAdjust="spacingAndGlyphs">0</text>
<text x="401.5" y="516.4" font-size="7.5" fill="#262626" stroke="#262626" stroke-width="0.14" text-anchor="end" textLength="6.27" lengthAdjust="spacingAndGlyphs">50</text>
<text x="401.5" y="489.1" font-size="7.5" fill="#262626" stroke="#262626" stroke-width="0.14" text-anchor="end" textLength="9.4" lengthAdjust="spacingAndGlyphs">100</text>
<line x1="404.4" y1="540.9" x2="514.5" y2="540.9" stroke="#1a1a1a" stroke-width="1.15" />
<line x1="443.2" y1="540.9" x2="443.2" y2="543.5" stroke="#1a1a1a" stroke-width="0.9" />
<text x="443.2" y="554" font-size="7.5" fill="#262626" stroke="#262626" stroke-width="0.14" text-anchor="middle" textLength="9.4" lengthAdjust="spacingAndGlyphs">100</text>
<line x1="495.5" y1="540.9" x2="495.5" y2="543.5" stroke="#1a1a1a" stroke-width="0.9" />
<text x="495.5" y="554" font-size="7.5" fill="#262626" stroke="#262626" stroke-width="0.14" text-anchor="middle" textLength="12.6" lengthAdjust="spacingAndGlyphs">1000</text>
<text x="460.6" y="564.82" font-size="8.4" fill="#262626" stroke="#262626" stroke-width="0.14" text-anchor="middle" textLength="47" lengthAdjust="spacingAndGlyphs">Cytarabine [nM]</text>
<text x="373.1" y="510.4" font-size="8.6" fill="#3a3a3a" stroke="#3a3a3a" stroke-width="0.14" text-anchor="middle" transform="rotate(-90 373.1 507.3)" textLength="58.8" lengthAdjust="spacingAndGlyphs">Viability normalized</text>
<text x="383.8" y="510.4" font-size="8.6" fill="#3a3a3a" stroke="#3a3a3a" stroke-width="0.14" text-anchor="middle" transform="rotate(-90 383.8 507.3)" textLength="30.6" lengthAdjust="spacingAndGlyphs">to no drug</text>
<polyline points="407,487.23 407.9,487.23 408.79,487.23 409.69,487.23 410.58,487.23 411.48,487.24 412.38,487.24 413.27,487.24 414.17,487.25 415.06,487.25 415.96,487.26 416.85,487.27 417.75,487.28 418.65,487.29 419.54,487.3 420.44,487.31 421.33,487.33 422.23,487.35 423.12,487.37 424.02,487.4 424.92,487.43 425.81,487.47 426.71,487.52 427.6,487.57 428.5,487.64 429.4,487.71 430.29,487.8 431.19,487.9 432.08,488.02 432.98,488.16 433.88,488.33 434.77,488.53 435.67,488.75 436.56,489.02 437.46,489.33 438.35,489.7 439.25,490.12 440.15,490.61 441.04,491.18 441.94,491.83 442.83,492.57 443.73,493.43 444.62,494.4 445.52,495.49 446.42,496.71 447.31,498.07 448.21,499.57 449.1,501.21 450,502.98 450.9,504.87 451.79,506.86 452.69,508.95 453.58,511.09 454.48,513.27 455.38,515.45 456.27,517.61 457.17,519.71 458.06,521.73 458.96,523.65 459.85,525.46 460.75,527.13 461.65,528.67 462.54,530.06 463.44,531.32 464.33,532.45 465.23,533.45 466.12,534.33 467.02,535.11 467.92,535.78 468.81,536.37 469.71,536.88 470.6,537.32 471.5,537.7 472.4,538.03 473.29,538.3 474.19,538.54 475.08,538.75 475.98,538.92 476.88,539.07 477.77,539.2 478.67,539.3 479.56,539.4 480.46,539.47 481.35,539.54 482.25,539.6 483.15,539.64 484.04,539.68 484.94,539.72 485.83,539.75 486.73,539.77 487.62,539.79 488.52,539.81 489.42,539.82 490.31,539.84 491.21,539.85 492.1,539.86 493,539.87 493.9,539.87 494.79,539.88 495.69,539.88 496.58,539.89 497.48,539.89 498.38,539.89 499.27,539.89 500.17,539.9 501.06,539.9 501.96,539.9 502.85,539.9 503.75,539.9 504.65,539.9 505.54,539.9 506.44,539.9 507.33,539.9 508.23,539.91 509.12,539.91 510.02,539.91 510.92,539.91 511.81,539.91 512.71,539.91 513.6,539.91 514.5,539.91" stroke="#23457a" stroke-width="1.35" fill="none" stroke-linejoin="round" />
<polyline points="407,484.77 407.9,484.77 408.79,484.77 409.69,484.77 410.58,484.77 411.48,484.77 412.38,484.77 413.27,484.77 414.17,484.78 415.06,484.78 415.96,484.78 416.85,484.79 417.75,484.79 418.65,484.8 419.54,484.8 420.44,484.81 421.33,484.82 422.23,484.83 423.12,484.85 424.02,484.86 424.92,484.88 425.81,484.9 426.71,484.93 427.6,484.96 428.5,485 429.4,485.04 430.29,485.1 431.19,485.16 432.08,485.23 432.98,485.32 433.88,485.43 434.77,485.55 435.67,485.69 436.56,485.86 437.46,486.07 438.35,486.31 439.25,486.59 440.15,486.92 441.04,487.3 441.94,487.75 442.83,488.28 443.73,488.89 444.62,489.6 445.52,490.42 446.42,491.35 447.31,492.42 448.21,493.63 449.1,494.99 450,496.5 450.9,498.17 451.79,500 452.69,501.97 453.58,504.07 454.48,506.28 455.38,508.58 456.27,510.93 457.17,513.31 458.06,515.67 458.96,517.98 459.85,520.21 460.75,522.33 461.65,524.33 462.54,526.18 463.44,527.88 464.33,529.42 465.23,530.81 466.12,532.04 467.02,533.13 467.92,534.09 468.81,534.93 469.71,535.66 470.6,536.28 471.5,536.83 472.4,537.29 473.29,537.69 474.19,538.03 475.08,538.32 475.98,538.56 476.88,538.77 477.77,538.95 478.67,539.1 479.56,539.22 480.46,539.33 481.35,539.42 482.25,539.5 483.15,539.56 484.04,539.62 484.94,539.66 485.83,539.7 486.73,539.73 487.62,539.76 488.52,539.78 489.42,539.8 490.31,539.82 491.21,539.83 492.1,539.85 493,539.86 493.9,539.86 494.79,539.87 495.69,539.88 496.58,539.88 497.48,539.89 498.38,539.89 499.27,539.89 500.17,539.89 501.06,539.9 501.96,539.9 502.85,539.9 503.75,539.9 504.65,539.9 505.54,539.9 506.44,539.9 507.33,539.9 508.23,539.91 509.12,539.91 510.02,539.91 510.92,539.91 511.81,539.91 512.71,539.91 513.6,539.91 514.5,539.91" stroke="#4fa64f" stroke-width="1.35" fill="none" stroke-linejoin="round" />
<circle cx="407.3" cy="487.2" r="1.42" fill="#1d3557"/>
<circle cx="418" cy="483.4" r="1.42" fill="#1d3557"/>
<line x1="428.1" y1="486.5" x2="428.1" y2="491.5" stroke="#1d3557" stroke-width="0.7" />
<line x1="426.8" y1="486.5" x2="429.4" y2="486.5" stroke="#1d3557" stroke-width="0.7" />
<line x1="426.8" y1="491.5" x2="429.4" y2="491.5" stroke="#1d3557" stroke-width="0.7" />
<circle cx="428.1" cy="489" r="1.42" fill="#1d3557"/>
<circle cx="438.5" cy="494.8" r="1.42" fill="#1d3557"/>
<circle cx="449.2" cy="500.6" r="1.42" fill="#1d3557"/>
<circle cx="460" cy="524.3" r="1.42" fill="#1d3557"/>
<circle cx="470.3" cy="538.5" r="1.42" fill="#1d3557"/>
<circle cx="480.5" cy="539" r="1.42" fill="#1d3557"/>
<circle cx="491.2" cy="539.2" r="1.42" fill="#1d3557"/>
<circle cx="502" cy="539.2" r="1.42" fill="#1d3557"/>
<circle cx="511.7" cy="539.4" r="1.42" fill="#1d3557"/>
<line x1="418" y1="476.7" x2="418" y2="482.7" stroke="#4fa64f" stroke-width="0.7" />
<line x1="416.7" y1="476.7" x2="419.3" y2="476.7" stroke="#4fa64f" stroke-width="0.7" />
<line x1="416.7" y1="482.7" x2="419.3" y2="482.7" stroke="#4fa64f" stroke-width="0.7" />
<circle cx="418" cy="479.7" r="1.3" fill="#4fa64f"/>
<line x1="428.1" y1="479.9" x2="428.1" y2="485.9" stroke="#4fa64f" stroke-width="0.7" />
<line x1="426.8" y1="479.9" x2="429.4" y2="479.9" stroke="#4fa64f" stroke-width="0.7" />
<line x1="426.8" y1="485.9" x2="429.4" y2="485.9" stroke="#4fa64f" stroke-width="0.7" />
<circle cx="428.1" cy="482.9" r="1.3" fill="#4fa64f"/>
<circle cx="438.5" cy="487.2" r="1.3" fill="#4fa64f"/>
<circle cx="449.2" cy="495.4" r="1.3" fill="#4fa64f"/>
<circle cx="460" cy="520.6" r="1.3" fill="#4fa64f"/>
<circle cx="470.3" cy="538" r="1.3" fill="#4fa64f"/>
<text x="410.8" y="527.65" font-size="6.8" fill="#34507e" stroke="#34507e" stroke-width="0.08" textLength="20.6" lengthAdjust="spacingAndGlyphs">No GSK</text>
<text x="410.8" y="536.75" font-size="6.8" fill="#5aaa5a" stroke="#5aaa5a" stroke-width="0.08" textLength="26.2" lengthAdjust="spacingAndGlyphs">GSK 1 uM</text>
<text x="463.8" y="511.65" font-size="6.8" fill="#333" stroke="#333" stroke-width="0.14" text-anchor="middle" textLength="9.6" lengthAdjust="spacingAndGlyphs">n.s.</text>
<text x="46.5" y="590.44" font-size="10.4" fill="#111" stroke="#111" stroke-width="0.45" font-weight="bold" textLength="6" lengthAdjust="spacingAndGlyphs">F</text>
<g transform="translate(72.5 620) scale(1)">
<path d="M-12.1 -22.6 C-13.6 -19.5 -14.8 -16.2 -14.2 -13.8 C-13.4 -10.8 -11 -9.6 -8 -8.8 C-4.5 -7.9 -2.2 -6.8 -1.2 -4.5 C-0.7 -3.2 -0.3 -1.8 0 -0.6 M0 0 L46.4 0 M0.6 -0.5 C1.2 -6.5 4.5 -13 11 -16.4 C17.5 -19.5 23.5 -19 27.6 -17.2 M27.6 -17.2 C28 -20.5 29.8 -22.8 32.6 -22.6 C35.5 -22.4 38.5 -20.4 39.6 -17.6 C39.8 -16.2 39 -15 37.8 -14.6 M37.4 -15 C37.6 -12.5 38 -11.6 38.6 -10.8 L45.6 -1.6" fill="none" stroke="#3a3a3a" stroke-width="1" stroke-linecap="round" stroke-linejoin="round"/>
<circle cx="38.8" cy="-6.5" r="1.1" fill="#1a1a1a"/>
<path d="M43.3 -4.2 L47 0 L41.8 0 Z" fill="#111"/>
</g>
<text x="95.7" y="628.05" font-size="6.8" fill="#262626" stroke="#262626" stroke-width="0.14" text-anchor="middle" textLength="25.5" lengthAdjust="spacingAndGlyphs">MLL-AF9</text>
<text x="95.7" y="636.35" font-size="6.8" fill="#262626" stroke="#262626" stroke-width="0.14" text-anchor="middle" textLength="11.6" lengthAdjust="spacingAndGlyphs">GFP</text>
<text x="95.7" y="644.35" font-size="6.8" fill="#262626" stroke="#262626" stroke-width="0.14" text-anchor="middle" textLength="29" lengthAdjust="spacingAndGlyphs">Luciferase</text>
<line x1="127.5" y1="622" x2="150.9" y2="622" stroke="#3a404c" stroke-width="1.25" />
<path d="M156.4 622 L150.4 624.7 L152.2 622 L150.4 619.3 Z" fill="#3a404c"/>
<text x="191.5" y="609.15" font-size="6.8" fill="#111" text-anchor="middle" font-weight="bold" textLength="29.5" lengthAdjust="spacingAndGlyphs">Treatment</text>
<text x="191.5" y="616.95" font-size="6.8" fill="#262626" stroke="#262626" stroke-width="0.14" text-anchor="middle" textLength="20.5" lengthAdjust="spacingAndGlyphs">Vehicle</text>
<text x="191.5" y="624.25" font-size="6.8" fill="#262626" stroke="#262626" stroke-width="0.14" text-anchor="middle" textLength="25.5" lengthAdjust="spacingAndGlyphs">GSK only</text>
<text x="191.5" y="631.45" font-size="6.8" fill="#262626" stroke="#262626" stroke-width="0.14" text-anchor="middle" textLength="37.5" lengthAdjust="spacingAndGlyphs">Doxo + Ara-C</text>
<text x="191.4" y="638.65" font-size="6.8" fill="#262626" stroke="#262626" stroke-width="0.14" text-anchor="middle" textLength="60.3" lengthAdjust="spacingAndGlyphs">Doxo + Ara-C + GSK</text>
<line x1="226.5" y1="622.2" x2="249.9" y2="622.2" stroke="#3a404c" stroke-width="1.25" />
<path d="M255.4 622.2 L249.4 624.9 L251.2 622.2 L249.4 619.5 Z" fill="#3a404c"/>
<text x="260.3" y="624.75" font-size="6.8" fill="#111" font-weight="bold" textLength="22.8" lengthAdjust="spacingAndGlyphs">Survival</text>
<text x="298" y="590.44" font-size="10.4" fill="#111" stroke="#111" stroke-width="0.45" font-weight="bold" textLength="7.9" lengthAdjust="spacingAndGlyphs">G</text>
<line x1="338.7" y1="584.4" x2="338.7" y2="659.5" stroke="#1a1a1a" stroke-width="1.2" />
<line x1="335.9" y1="659" x2="338.7" y2="659" stroke="#1a1a1a" stroke-width="0.9" />
<text x="333.5" y="661.45" font-size="6.8" fill="#262626" stroke="#262626" stroke-width="0.14" text-anchor="end" textLength="3.2" lengthAdjust="spacingAndGlyphs">0</text>
<line x1="335.9" y1="644.51" x2="338.7" y2="644.51" stroke="#1a1a1a" stroke-width="0.9" />
<text x="333.5" y="646.96" font-size="6.8" fill="#262626" stroke="#262626" stroke-width="0.14" text-anchor="end" textLength="6.3" lengthAdjust="spacingAndGlyphs">20</text>
<line x1="335.9" y1="630.02" x2="338.7" y2="630.02" stroke="#1a1a1a" stroke-width="0.9" />
<text x="333.5" y="632.47" font-size="6.8" fill="#262626" stroke="#262626" stroke-width="0.14" text-anchor="end" textLength="6.3" lengthAdjust="spacingAndGlyphs">40</text>
<line x1="335.9" y1="615.53" x2="338.7" y2="615.53" stroke="#1a1a1a" stroke-width="0.9" />
<text x="333.5" y="617.98" font-size="6.8" fill="#262626" stroke="#262626" stroke-width="0.14" text-anchor="end" textLength="6.3" lengthAdjust="spacingAndGlyphs">60</text>
<line x1="335.9" y1="601.04" x2="338.7" y2="601.04" stroke="#1a1a1a" stroke-width="0.9" />
<text x="333.5" y="603.49" font-size="6.8" fill="#262626" stroke="#262626" stroke-width="0.14" text-anchor="end" textLength="6.3" lengthAdjust="spacingAndGlyphs">80</text>
<line x1="335.9" y1="586.55" x2="338.7" y2="586.55" stroke="#1a1a1a" stroke-width="0.9" />
<text x="333.5" y="589" font-size="6.8" fill="#262626" stroke="#262626" stroke-width="0.14" text-anchor="end" textLength="9.6" lengthAdjust="spacingAndGlyphs">100</text>
<line x1="338.1" y1="658.9" x2="473.6" y2="658.9" stroke="#1a1a1a" stroke-width="1.2" />
<line x1="338.7" y1="658.9" x2="338.7" y2="661.7" stroke="#1a1a1a" stroke-width="0.9" />
<text x="338.7" y="670.65" font-size="6.8" fill="#262626" stroke="#262626" stroke-width="0.14" text-anchor="middle" textLength="3.2" lengthAdjust="spacingAndGlyphs">0</text>
<line x1="357.67" y1="658.9" x2="357.67" y2="661.7" stroke="#1a1a1a" stroke-width="0.9" />
<text x="357.67" y="670.65" font-size="6.8" fill="#262626" stroke="#262626" stroke-width="0.14" text-anchor="middle" textLength="6.3" lengthAdjust="spacingAndGlyphs">10</text>
<line x1="376.64" y1="658.9" x2="376.64" y2="661.7" stroke="#1a1a1a" stroke-width="0.9" />
<text x="376.64" y="670.65" font-size="6.8" fill="#262626" stroke="#262626" stroke-width="0.14" text-anchor="middle" textLength="6.3" lengthAdjust="spacingAndGlyphs">20</text>
<line x1="395.61" y1="658.9" x2="395.61" y2="661.7" stroke="#1a1a1a" stroke-width="0.9" />
<text x="395.61" y="670.65" font-size="6.8" fill="#262626" stroke="#262626" stroke-width="0.14" text-anchor="middle" textLength="6.3" lengthAdjust="spacingAndGlyphs">30</text>
<line x1="414.58" y1="658.9" x2="414.58" y2="661.7" stroke="#1a1a1a" stroke-width="0.9" />
<text x="414.58" y="670.65" font-size="6.8" fill="#262626" stroke="#262626" stroke-width="0.14" text-anchor="middle" textLength="6.3" lengthAdjust="spacingAndGlyphs">40</text>
<line x1="433.55" y1="658.9" x2="433.55" y2="661.7" stroke="#1a1a1a" stroke-width="0.9" />
<text x="433.55" y="670.65" font-size="6.8" fill="#262626" stroke="#262626" stroke-width="0.14" text-anchor="middle" textLength="6.3" lengthAdjust="spacingAndGlyphs">50</text>
<line x1="452.52" y1="658.9" x2="452.52" y2="661.7" stroke="#1a1a1a" stroke-width="0.9" />
<text x="452.52" y="670.65" font-size="6.8" fill="#262626" stroke="#262626" stroke-width="0.14" text-anchor="middle" textLength="6.3" lengthAdjust="spacingAndGlyphs">60</text>
<line x1="471.49" y1="658.9" x2="471.49" y2="661.7" stroke="#1a1a1a" stroke-width="0.9" />
<text x="471.49" y="670.65" font-size="6.8" fill="#262626" stroke="#262626" stroke-width="0.14" text-anchor="middle" textLength="6.3" lengthAdjust="spacingAndGlyphs">70</text>
<text x="314.4" y="623.79" font-size="7.2" fill="#3a3a3a" stroke="#3a3a3a" stroke-width="0.14" text-anchor="middle" transform="rotate(-90 314.4 621.2)" textLength="35" lengthAdjust="spacingAndGlyphs">Survival (%)</text>
<text x="406.1" y="682.34" font-size="7.6" fill="#262626" stroke="#262626" stroke-width="0.14" text-anchor="middle" textLength="90.4" lengthAdjust="spacingAndGlyphs">Days from leukemia transplant</text>
<polyline points="338.7,586.6 408.4,586.6 408.4,596.6 414.3,596.6 414.3,628 415.8,628 415.8,638.3 471,638.3" stroke="#d2307a" stroke-width="1.2" fill="none" stroke-linejoin="round" stroke-linejoin="miter"/>
<polyline points="387.3,586.6 387.3,598.4 393.5,598.4 393.5,610.7 395.4,610.7 395.4,634.7 396.8,634.7 396.8,647.1 404.7,647.1 404.7,659" stroke="#4fae4f" stroke-width="1.2" fill="none" stroke-linejoin="round" stroke-linejoin="miter"/>
<polyline points="386.9,586.6 386.9,610.5 391,610.5 391,634.8 471,634.8" stroke="#2b4f86" stroke-width="1.2" fill="none" stroke-linejoin="round" stroke-linejoin="miter"/>
<polyline points="338.7,586.6 385.6,586.6 385.6,600.3 387.5,600.3 387.5,615.4 389.5,615.4 389.5,659" stroke="#f4ad45" stroke-width="1.1" fill="none" stroke-linejoin="round" stroke-linejoin="miter"/>
<line x1="471" y1="633.2" x2="471" y2="636.4" stroke="#2b4f86" stroke-width="0.9" />
<line x1="471" y1="636.7" x2="471" y2="639.9" stroke="#d2307a" stroke-width="0.9" />
<text x="404.5" y="621.98" font-size="6.6" fill="#222" stroke="#222" stroke-width="0.14" text-anchor="middle" textLength="2.6" lengthAdjust="spacingAndGlyphs">*</text>
<line x1="397.7" y1="622.1" x2="411.3" y2="622.1" stroke="#333" stroke-width="0.9" />
<text x="438" y="592" font-size="6.4" fill="#f4ad45" stroke="#f4ad45" stroke-width="0.14" textLength="18.9" lengthAdjust="spacingAndGlyphs">Vehicle</text>
<text x="438" y="600.8" font-size="6.4" fill="#2b4f86" stroke="#2b4f86" stroke-width="0.14" textLength="11.5" lengthAdjust="spacingAndGlyphs">GSK</text>
<text x="438" y="610.3" font-size="6.4" fill="#4fae4f" stroke="#4fae4f" stroke-width="0.14" textLength="10.3" lengthAdjust="spacingAndGlyphs">5+3</text>
<text x="438" y="619.7" font-size="6.4" fill="#d2307a" stroke="#d2307a" stroke-width="0.14" textLength="25.9" lengthAdjust="spacingAndGlyphs">GSK+5+3</text>
<rect x="0.5" y="0.5" width="519" height="690" fill="none" stroke="#555" stroke-width="1.1"/>
</svg>
</body></html>
